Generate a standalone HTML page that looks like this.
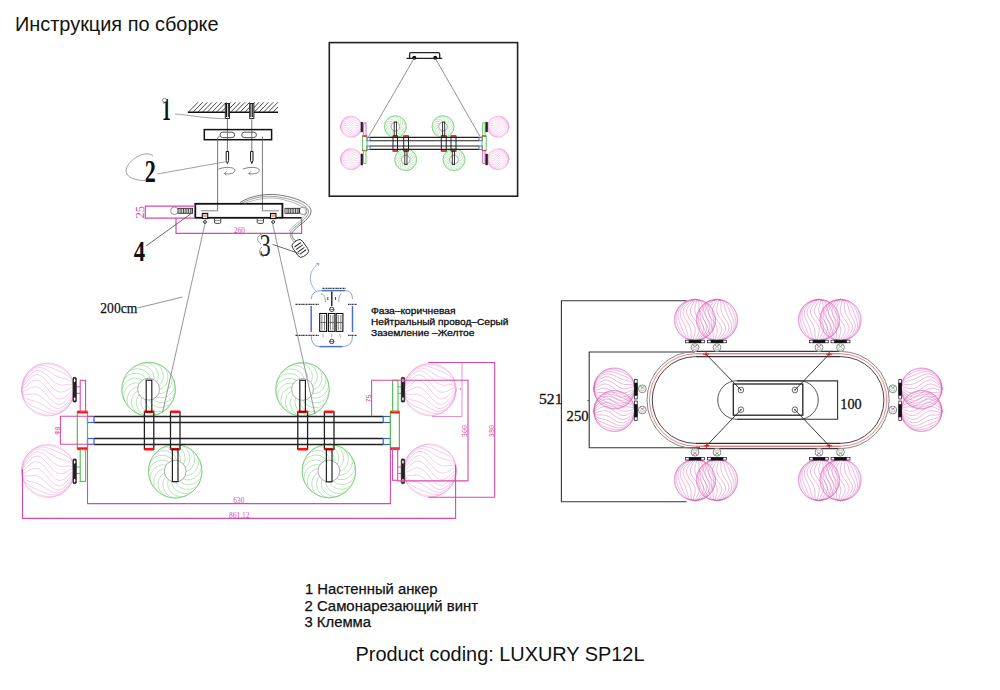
<!DOCTYPE html>
<html><head><meta charset="utf-8">
<style>
html,body{margin:0;padding:0;background:#fff;width:1000px;height:690px;overflow:hidden;position:relative;}
svg{position:absolute;left:0;top:0;}
</style></head><body>
<svg width="1000" height="690" viewBox="0 0 1000 690"><g opacity="1"><circle cx="48" cy="389.5" r="26.5" fill="none" stroke="#efa2d8" stroke-width="0.55"/><path d="M21.5 389.5 L23.39 398.94 L25.29 402.53 L27.18 405.06 L29.07 407.03 L30.96 408.62 L32.86 409.94 L34.75 411.05 L36.64 412 L38.54 412.81 L40.43 413.5 L42.32 414.07 L44.21 414.53 L46.11 414.87 L48 415.1 L49.89 415.19 L51.79 415.14 L53.68 414.93 L55.57 414.56 L57.46 414.01 L59.36 413.25 L61.25 412.28 L63.14 411.07 L65.04 409.6 L66.93 407.8 L68.82 405.61 L70.71 402.84 L72.61 399.06 L74.5 389.5" fill="none" stroke="#efa2d8" stroke-width="0.55"/><path d="M21.5 389.5 L23.39 397.8 L25.29 400.73 L27.18 402.67 L29.07 404.11 L30.96 405.25 L32.86 406.21 L34.75 407.08 L36.64 407.9 L38.54 408.71 L40.43 409.51 L42.32 410.3 L44.21 411.08 L46.11 411.8 L48 412.45 L49.89 412.98 L51.79 413.35 L53.68 413.53 L55.57 413.48 L57.46 413.17 L59.36 412.57 L61.25 411.67 L63.14 410.45 L65.04 408.91 L66.93 407.01 L68.82 404.72 L70.71 401.91 L72.61 398.24 L74.5 389.5" fill="none" stroke="#efa2d8" stroke-width="0.55"/><path d="M21.5 389.5 L23.39 396.02 L25.29 397.97 L27.18 399.05 L29.07 399.71 L30.96 400.2 L32.86 400.64 L34.75 401.14 L36.64 401.76 L38.54 402.54 L40.43 403.49 L42.32 404.58 L44.21 405.77 L46.11 407.01 L48 408.24 L49.89 409.37 L51.79 410.32 L53.68 411.03 L55.57 411.43 L57.46 411.46 L59.36 411.1 L61.25 410.32 L63.14 409.12 L65.04 407.51 L66.93 405.51 L68.82 403.14 L70.71 400.34 L72.61 396.89 L74.5 389.5" fill="none" stroke="#efa2d8" stroke-width="0.55"/><path d="M21.5 389.5 L23.39 393.76 L25.29 394.55 L27.18 394.63 L29.07 394.42 L30.96 394.16 L32.86 394.01 L34.75 394.09 L36.64 394.47 L38.54 395.19 L40.43 396.24 L42.32 397.6 L44.21 399.2 L46.11 400.95 L48 402.75 L49.89 404.48 L51.79 406.03 L53.68 407.28 L55.57 408.15 L57.46 408.57 L59.36 408.47 L61.25 407.86 L63.14 406.73 L65.04 405.14 L66.93 403.12 L68.82 400.76 L70.71 398.1 L72.61 395.07 L74.5 389.5" fill="none" stroke="#efa2d8" stroke-width="0.55"/><path d="M21.5 389.5 L23.39 391.23 L25.29 390.82 L27.18 389.93 L29.07 388.89 L30.96 387.93 L32.86 387.22 L34.75 386.87 L36.64 386.99 L38.54 387.58 L40.43 388.66 L42.32 390.18 L44.21 392.04 L46.11 394.15 L48 396.36 L49.89 398.54 L51.79 400.54 L53.68 402.22 L55.57 403.48 L57.46 404.23 L59.36 404.41 L61.25 404 L63.14 403.04 L65.04 401.58 L66.93 399.71 L68.82 397.56 L70.71 395.24 L72.61 392.86 L74.5 389.5" fill="none" stroke="#efa2d8" stroke-width="0.55"/><path d="M21.5 389.5 L23.39 388.62 L25.29 387.13 L27.18 385.41 L29.07 383.7 L30.96 382.18 L32.86 381.02 L34.75 380.32 L36.64 380.16 L38.54 380.58 L40.43 381.56 L42.32 383.04 L44.21 384.95 L46.11 387.15 L48 389.5 L49.89 391.85 L51.79 394.05 L53.68 395.96 L55.57 397.44 L57.46 398.42 L59.36 398.84 L61.25 398.68 L63.14 397.98 L65.04 396.82 L66.93 395.3 L68.82 393.59 L70.71 391.87 L72.61 390.38 L74.5 389.5" fill="none" stroke="#efa2d8" stroke-width="0.55"/><path d="M21.5 389.5 L23.39 386.14 L25.29 383.76 L27.18 381.44 L29.07 379.29 L30.96 377.42 L32.86 375.96 L34.75 375 L36.64 374.59 L38.54 374.77 L40.43 375.52 L42.32 376.78 L44.21 378.46 L46.11 380.46 L48 382.64 L49.89 384.85 L51.79 386.96 L53.68 388.82 L55.57 390.34 L57.46 391.42 L59.36 392.01 L61.25 392.13 L63.14 391.78 L65.04 391.07 L66.93 390.11 L68.82 389.07 L70.71 388.18 L72.61 387.77 L74.5 389.5" fill="none" stroke="#efa2d8" stroke-width="0.55"/><path d="M21.5 389.5 L23.39 383.93 L25.29 380.9 L27.18 378.24 L29.07 375.88 L30.96 373.86 L32.86 372.27 L34.75 371.14 L36.64 370.53 L38.54 370.43 L40.43 370.85 L42.32 371.72 L44.21 372.97 L46.11 374.52 L48 376.25 L49.89 378.05 L51.79 379.8 L53.68 381.4 L55.57 382.76 L57.46 383.81 L59.36 384.53 L61.25 384.91 L63.14 384.99 L65.04 384.84 L66.93 384.58 L68.82 384.37 L70.71 384.45 L72.61 385.24 L74.5 389.5" fill="none" stroke="#efa2d8" stroke-width="0.55"/><path d="M21.5 389.5 L23.39 382.11 L25.29 378.66 L27.18 375.86 L29.07 373.49 L30.96 371.49 L32.86 369.88 L34.75 368.68 L36.64 367.9 L38.54 367.54 L40.43 367.57 L42.32 367.97 L44.21 368.68 L46.11 369.63 L48 370.76 L49.89 371.99 L51.79 373.23 L53.68 374.42 L55.57 375.51 L57.46 376.46 L59.36 377.24 L61.25 377.86 L63.14 378.36 L65.04 378.8 L66.93 379.29 L68.82 379.95 L70.71 381.03 L72.61 382.98 L74.5 389.5" fill="none" stroke="#efa2d8" stroke-width="0.55"/><path d="M21.5 389.5 L23.39 380.76 L25.29 377.09 L27.18 374.28 L29.07 371.99 L30.96 370.09 L32.86 368.55 L34.75 367.33 L36.64 366.43 L38.54 365.83 L40.43 365.52 L42.32 365.47 L44.21 365.65 L46.11 366.02 L48 366.55 L49.89 367.2 L51.79 367.92 L53.68 368.7 L55.57 369.49 L57.46 370.29 L59.36 371.1 L61.25 371.92 L63.14 372.79 L65.04 373.75 L66.93 374.89 L68.82 376.33 L70.71 378.27 L72.61 381.2 L74.5 389.5" fill="none" stroke="#efa2d8" stroke-width="0.55"/><path d="M21.5 389.5 L23.39 379.94 L25.29 376.16 L27.18 373.39 L29.07 371.2 L30.96 369.4 L32.86 367.93 L34.75 366.72 L36.64 365.75 L38.54 364.99 L40.43 364.44 L42.32 364.07 L44.21 363.86 L46.11 363.81 L48 363.9 L49.89 364.13 L51.79 364.47 L53.68 364.93 L55.57 365.5 L57.46 366.19 L59.36 367 L61.25 367.95 L63.14 369.06 L65.04 370.38 L66.93 371.97 L68.82 373.94 L70.71 376.47 L72.61 380.06 L74.5 389.5" fill="none" stroke="#efa2d8" stroke-width="0.55"/></g><g opacity="1"><circle cx="48" cy="471" r="26.5" fill="none" stroke="#efa2d8" stroke-width="0.55"/><path d="M21.5 471 L23.39 480.44 L25.29 484.03 L27.18 486.56 L29.07 488.53 L30.96 490.12 L32.86 491.44 L34.75 492.55 L36.64 493.5 L38.54 494.31 L40.43 495 L42.32 495.57 L44.21 496.03 L46.11 496.37 L48 496.6 L49.89 496.69 L51.79 496.64 L53.68 496.43 L55.57 496.06 L57.46 495.51 L59.36 494.75 L61.25 493.78 L63.14 492.57 L65.04 491.1 L66.93 489.3 L68.82 487.11 L70.71 484.34 L72.61 480.56 L74.5 471" fill="none" stroke="#efa2d8" stroke-width="0.55"/><path d="M21.5 471 L23.39 479.3 L25.29 482.23 L27.18 484.17 L29.07 485.61 L30.96 486.75 L32.86 487.71 L34.75 488.58 L36.64 489.4 L38.54 490.21 L40.43 491.01 L42.32 491.8 L44.21 492.58 L46.11 493.3 L48 493.95 L49.89 494.48 L51.79 494.85 L53.68 495.03 L55.57 494.98 L57.46 494.67 L59.36 494.07 L61.25 493.17 L63.14 491.95 L65.04 490.41 L66.93 488.51 L68.82 486.22 L70.71 483.41 L72.61 479.74 L74.5 471" fill="none" stroke="#efa2d8" stroke-width="0.55"/><path d="M21.5 471 L23.39 477.52 L25.29 479.47 L27.18 480.55 L29.07 481.21 L30.96 481.7 L32.86 482.14 L34.75 482.64 L36.64 483.26 L38.54 484.04 L40.43 484.99 L42.32 486.08 L44.21 487.27 L46.11 488.51 L48 489.74 L49.89 490.87 L51.79 491.82 L53.68 492.53 L55.57 492.93 L57.46 492.96 L59.36 492.6 L61.25 491.82 L63.14 490.62 L65.04 489.01 L66.93 487.01 L68.82 484.64 L70.71 481.84 L72.61 478.39 L74.5 471" fill="none" stroke="#efa2d8" stroke-width="0.55"/><path d="M21.5 471 L23.39 475.26 L25.29 476.05 L27.18 476.13 L29.07 475.92 L30.96 475.66 L32.86 475.51 L34.75 475.59 L36.64 475.97 L38.54 476.69 L40.43 477.74 L42.32 479.1 L44.21 480.7 L46.11 482.45 L48 484.25 L49.89 485.98 L51.79 487.53 L53.68 488.78 L55.57 489.65 L57.46 490.07 L59.36 489.97 L61.25 489.36 L63.14 488.23 L65.04 486.64 L66.93 484.62 L68.82 482.26 L70.71 479.6 L72.61 476.57 L74.5 471" fill="none" stroke="#efa2d8" stroke-width="0.55"/><path d="M21.5 471 L23.39 472.73 L25.29 472.32 L27.18 471.43 L29.07 470.39 L30.96 469.43 L32.86 468.72 L34.75 468.37 L36.64 468.49 L38.54 469.08 L40.43 470.16 L42.32 471.68 L44.21 473.54 L46.11 475.65 L48 477.86 L49.89 480.04 L51.79 482.04 L53.68 483.72 L55.57 484.98 L57.46 485.73 L59.36 485.91 L61.25 485.5 L63.14 484.54 L65.04 483.08 L66.93 481.21 L68.82 479.06 L70.71 476.74 L72.61 474.36 L74.5 471" fill="none" stroke="#efa2d8" stroke-width="0.55"/><path d="M21.5 471 L23.39 470.12 L25.29 468.63 L27.18 466.91 L29.07 465.2 L30.96 463.68 L32.86 462.52 L34.75 461.82 L36.64 461.66 L38.54 462.08 L40.43 463.06 L42.32 464.54 L44.21 466.45 L46.11 468.65 L48 471 L49.89 473.35 L51.79 475.55 L53.68 477.46 L55.57 478.94 L57.46 479.92 L59.36 480.34 L61.25 480.18 L63.14 479.48 L65.04 478.32 L66.93 476.8 L68.82 475.09 L70.71 473.37 L72.61 471.88 L74.5 471" fill="none" stroke="#efa2d8" stroke-width="0.55"/><path d="M21.5 471 L23.39 467.64 L25.29 465.26 L27.18 462.94 L29.07 460.79 L30.96 458.92 L32.86 457.46 L34.75 456.5 L36.64 456.09 L38.54 456.27 L40.43 457.02 L42.32 458.28 L44.21 459.96 L46.11 461.96 L48 464.14 L49.89 466.35 L51.79 468.46 L53.68 470.32 L55.57 471.84 L57.46 472.92 L59.36 473.51 L61.25 473.63 L63.14 473.28 L65.04 472.57 L66.93 471.61 L68.82 470.57 L70.71 469.68 L72.61 469.27 L74.5 471" fill="none" stroke="#efa2d8" stroke-width="0.55"/><path d="M21.5 471 L23.39 465.43 L25.29 462.4 L27.18 459.74 L29.07 457.38 L30.96 455.36 L32.86 453.77 L34.75 452.64 L36.64 452.03 L38.54 451.93 L40.43 452.35 L42.32 453.22 L44.21 454.47 L46.11 456.02 L48 457.75 L49.89 459.55 L51.79 461.3 L53.68 462.9 L55.57 464.26 L57.46 465.31 L59.36 466.03 L61.25 466.41 L63.14 466.49 L65.04 466.34 L66.93 466.08 L68.82 465.87 L70.71 465.95 L72.61 466.74 L74.5 471" fill="none" stroke="#efa2d8" stroke-width="0.55"/><path d="M21.5 471 L23.39 463.61 L25.29 460.16 L27.18 457.36 L29.07 454.99 L30.96 452.99 L32.86 451.38 L34.75 450.18 L36.64 449.4 L38.54 449.04 L40.43 449.07 L42.32 449.47 L44.21 450.18 L46.11 451.13 L48 452.26 L49.89 453.49 L51.79 454.73 L53.68 455.92 L55.57 457.01 L57.46 457.96 L59.36 458.74 L61.25 459.36 L63.14 459.86 L65.04 460.3 L66.93 460.79 L68.82 461.45 L70.71 462.53 L72.61 464.48 L74.5 471" fill="none" stroke="#efa2d8" stroke-width="0.55"/><path d="M21.5 471 L23.39 462.26 L25.29 458.59 L27.18 455.78 L29.07 453.49 L30.96 451.59 L32.86 450.05 L34.75 448.83 L36.64 447.93 L38.54 447.33 L40.43 447.02 L42.32 446.97 L44.21 447.15 L46.11 447.52 L48 448.05 L49.89 448.7 L51.79 449.42 L53.68 450.2 L55.57 450.99 L57.46 451.79 L59.36 452.6 L61.25 453.42 L63.14 454.29 L65.04 455.25 L66.93 456.39 L68.82 457.83 L70.71 459.77 L72.61 462.7 L74.5 471" fill="none" stroke="#efa2d8" stroke-width="0.55"/><path d="M21.5 471 L23.39 461.44 L25.29 457.66 L27.18 454.89 L29.07 452.7 L30.96 450.9 L32.86 449.43 L34.75 448.22 L36.64 447.25 L38.54 446.49 L40.43 445.94 L42.32 445.57 L44.21 445.36 L46.11 445.31 L48 445.4 L49.89 445.63 L51.79 445.97 L53.68 446.43 L55.57 447 L57.46 447.69 L59.36 448.5 L61.25 449.45 L63.14 450.56 L65.04 451.88 L66.93 453.47 L68.82 455.44 L70.71 457.97 L72.61 461.56 L74.5 471" fill="none" stroke="#efa2d8" stroke-width="0.55"/></g><g opacity="1"><circle cx="430" cy="389.7" r="26.2" fill="none" stroke="#efa2d8" stroke-width="0.55"/><path d="M403.8 389.7 L405.67 399.03 L407.54 402.58 L409.41 405.08 L411.29 407.03 L413.16 408.6 L415.03 409.91 L416.9 411.01 L418.77 411.95 L420.64 412.75 L422.51 413.43 L424.39 413.99 L426.26 414.45 L428.13 414.79 L430 415.01 L431.87 415.1 L433.74 415.05 L435.61 414.85 L437.49 414.48 L439.36 413.93 L441.23 413.18 L443.1 412.22 L444.97 411.03 L446.84 409.57 L448.71 407.8 L450.59 405.63 L452.46 402.89 L454.33 399.15 L456.2 389.7" fill="none" stroke="#efa2d8" stroke-width="0.55"/><path d="M403.8 389.7 L405.67 397.91 L407.54 400.8 L409.41 402.73 L411.29 404.15 L413.16 405.27 L415.03 406.22 L416.9 407.08 L418.77 407.89 L420.64 408.69 L422.51 409.48 L424.39 410.27 L426.26 411.03 L428.13 411.75 L430 412.39 L431.87 412.91 L433.74 413.28 L435.61 413.46 L437.49 413.41 L439.36 413.1 L441.23 412.51 L443.1 411.62 L444.97 410.42 L446.84 408.89 L448.71 407.01 L450.59 404.75 L452.46 401.97 L454.33 398.34 L456.2 389.7" fill="none" stroke="#efa2d8" stroke-width="0.55"/><path d="M403.8 389.7 L405.67 396.14 L407.54 398.07 L409.41 399.14 L411.29 399.8 L413.16 400.27 L415.03 400.71 L416.9 401.21 L418.77 401.82 L420.64 402.59 L422.51 403.53 L424.39 404.6 L426.26 405.79 L428.13 407.02 L430 408.23 L431.87 409.34 L433.74 410.29 L435.61 410.99 L437.49 411.38 L439.36 411.41 L441.23 411.05 L443.1 410.28 L444.97 409.1 L446.84 407.51 L448.71 405.53 L450.59 403.18 L452.46 400.41 L454.33 397.01 L456.2 389.7" fill="none" stroke="#efa2d8" stroke-width="0.55"/><path d="M403.8 389.7 L405.67 393.91 L407.54 394.69 L409.41 394.77 L411.29 394.57 L413.16 394.31 L415.03 394.16 L416.9 394.24 L418.77 394.61 L420.64 395.32 L422.51 396.36 L424.39 397.71 L426.26 399.29 L428.13 401.02 L430 402.8 L431.87 404.51 L433.74 406.04 L435.61 407.28 L437.49 408.14 L439.36 408.55 L441.23 408.46 L443.1 407.85 L444.97 406.74 L446.84 405.16 L448.71 403.17 L450.59 400.84 L452.46 398.2 L454.33 395.21 L456.2 389.7" fill="none" stroke="#efa2d8" stroke-width="0.55"/><path d="M403.8 389.7 L405.67 391.41 L407.54 391.01 L409.41 390.12 L411.29 389.1 L413.16 388.15 L415.03 387.44 L416.9 387.1 L418.77 387.21 L420.64 387.81 L422.51 388.87 L424.39 390.37 L426.26 392.21 L428.13 394.29 L430 396.48 L431.87 398.63 L433.74 400.61 L435.61 402.28 L437.49 403.52 L439.36 404.26 L441.23 404.44 L443.1 404.04 L444.97 403.09 L446.84 401.64 L448.71 399.8 L450.59 397.67 L452.46 395.38 L454.33 393.02 L456.2 389.7" fill="none" stroke="#efa2d8" stroke-width="0.55"/><path d="M403.8 389.7 L405.67 388.83 L407.54 387.36 L409.41 385.66 L411.29 383.97 L413.16 382.47 L415.03 381.32 L416.9 380.62 L418.77 380.47 L420.64 380.88 L422.51 381.85 L424.39 383.32 L426.26 385.2 L428.13 387.37 L430 389.7 L431.87 392.03 L433.74 394.2 L435.61 396.08 L437.49 397.55 L439.36 398.52 L441.23 398.93 L443.1 398.78 L444.97 398.08 L446.84 396.93 L448.71 395.43 L450.59 393.74 L452.46 392.04 L454.33 390.57 L456.2 389.7" fill="none" stroke="#efa2d8" stroke-width="0.55"/><path d="M403.8 389.7 L405.67 386.38 L407.54 384.02 L409.41 381.73 L411.29 379.6 L413.16 377.76 L415.03 376.31 L416.9 375.36 L418.77 374.96 L420.64 375.14 L422.51 375.88 L424.39 377.12 L426.26 378.79 L428.13 380.77 L430 382.92 L431.87 385.11 L433.74 387.19 L435.61 389.03 L437.49 390.53 L439.36 391.59 L441.23 392.19 L443.1 392.3 L444.97 391.96 L446.84 391.25 L448.71 390.3 L450.59 389.28 L452.46 388.39 L454.33 387.99 L456.2 389.7" fill="none" stroke="#efa2d8" stroke-width="0.55"/><path d="M403.8 389.7 L405.67 384.19 L407.54 381.2 L409.41 378.56 L411.29 376.23 L413.16 374.24 L415.03 372.66 L416.9 371.55 L418.77 370.94 L420.64 370.85 L422.51 371.26 L424.39 372.12 L426.26 373.36 L428.13 374.89 L430 376.6 L431.87 378.38 L433.74 380.11 L435.61 381.69 L437.49 383.04 L439.36 384.08 L441.23 384.79 L443.1 385.16 L444.97 385.24 L446.84 385.09 L448.71 384.83 L450.59 384.63 L452.46 384.71 L454.33 385.49 L456.2 389.7" fill="none" stroke="#efa2d8" stroke-width="0.55"/><path d="M403.8 389.7 L405.67 382.39 L407.54 378.99 L409.41 376.22 L411.29 373.87 L413.16 371.89 L415.03 370.3 L416.9 369.12 L418.77 368.35 L420.64 367.99 L422.51 368.02 L424.39 368.41 L426.26 369.11 L428.13 370.06 L430 371.17 L431.87 372.38 L433.74 373.61 L435.61 374.8 L437.49 375.87 L439.36 376.81 L441.23 377.58 L443.1 378.19 L444.97 378.69 L446.84 379.13 L448.71 379.6 L450.59 380.26 L452.46 381.33 L454.33 383.26 L456.2 389.7" fill="none" stroke="#efa2d8" stroke-width="0.55"/><path d="M403.8 389.7 L405.67 381.06 L407.54 377.43 L409.41 374.65 L411.29 372.39 L413.16 370.51 L415.03 368.98 L416.9 367.78 L418.77 366.89 L420.64 366.3 L422.51 365.99 L424.39 365.94 L426.26 366.12 L428.13 366.49 L430 367.01 L431.87 367.65 L433.74 368.37 L435.61 369.13 L437.49 369.92 L439.36 370.71 L441.23 371.51 L443.1 372.32 L444.97 373.18 L446.84 374.13 L448.71 375.25 L450.59 376.67 L452.46 378.6 L454.33 381.49 L456.2 389.7" fill="none" stroke="#efa2d8" stroke-width="0.55"/><path d="M403.8 389.7 L405.67 380.25 L407.54 376.51 L409.41 373.77 L411.29 371.6 L413.16 369.83 L415.03 368.37 L416.9 367.18 L418.77 366.22 L420.64 365.47 L422.51 364.92 L424.39 364.55 L426.26 364.35 L428.13 364.3 L430 364.39 L431.87 364.61 L433.74 364.95 L435.61 365.41 L437.49 365.97 L439.36 366.65 L441.23 367.45 L443.1 368.39 L444.97 369.49 L446.84 370.8 L448.71 372.37 L450.59 374.32 L452.46 376.82 L454.33 380.37 L456.2 389.7" fill="none" stroke="#efa2d8" stroke-width="0.55"/></g><g opacity="1"><circle cx="430" cy="470.5" r="26.5" fill="none" stroke="#efa2d8" stroke-width="0.55"/><path d="M403.5 470.5 L405.39 479.94 L407.29 483.53 L409.18 486.06 L411.07 488.03 L412.96 489.62 L414.86 490.94 L416.75 492.05 L418.64 493 L420.54 493.81 L422.43 494.5 L424.32 495.07 L426.21 495.53 L428.11 495.87 L430 496.1 L431.89 496.19 L433.79 496.14 L435.68 495.93 L437.57 495.56 L439.46 495.01 L441.36 494.25 L443.25 493.28 L445.14 492.07 L447.04 490.6 L448.93 488.8 L450.82 486.61 L452.71 483.84 L454.61 480.06 L456.5 470.5" fill="none" stroke="#efa2d8" stroke-width="0.55"/><path d="M403.5 470.5 L405.39 478.8 L407.29 481.73 L409.18 483.67 L411.07 485.11 L412.96 486.25 L414.86 487.21 L416.75 488.08 L418.64 488.9 L420.54 489.71 L422.43 490.51 L424.32 491.3 L426.21 492.08 L428.11 492.8 L430 493.45 L431.89 493.98 L433.79 494.35 L435.68 494.53 L437.57 494.48 L439.46 494.17 L441.36 493.57 L443.25 492.67 L445.14 491.45 L447.04 489.91 L448.93 488.01 L450.82 485.72 L452.71 482.91 L454.61 479.24 L456.5 470.5" fill="none" stroke="#efa2d8" stroke-width="0.55"/><path d="M403.5 470.5 L405.39 477.02 L407.29 478.97 L409.18 480.05 L411.07 480.71 L412.96 481.2 L414.86 481.64 L416.75 482.14 L418.64 482.76 L420.54 483.54 L422.43 484.49 L424.32 485.58 L426.21 486.77 L428.11 488.01 L430 489.24 L431.89 490.37 L433.79 491.32 L435.68 492.03 L437.57 492.43 L439.46 492.46 L441.36 492.1 L443.25 491.32 L445.14 490.12 L447.04 488.51 L448.93 486.51 L450.82 484.14 L452.71 481.34 L454.61 477.89 L456.5 470.5" fill="none" stroke="#efa2d8" stroke-width="0.55"/><path d="M403.5 470.5 L405.39 474.76 L407.29 475.55 L409.18 475.63 L411.07 475.42 L412.96 475.16 L414.86 475.01 L416.75 475.09 L418.64 475.47 L420.54 476.19 L422.43 477.24 L424.32 478.6 L426.21 480.2 L428.11 481.95 L430 483.75 L431.89 485.48 L433.79 487.03 L435.68 488.28 L437.57 489.15 L439.46 489.57 L441.36 489.47 L443.25 488.86 L445.14 487.73 L447.04 486.14 L448.93 484.12 L450.82 481.76 L452.71 479.1 L454.61 476.07 L456.5 470.5" fill="none" stroke="#efa2d8" stroke-width="0.55"/><path d="M403.5 470.5 L405.39 472.23 L407.29 471.82 L409.18 470.93 L411.07 469.89 L412.96 468.93 L414.86 468.22 L416.75 467.87 L418.64 467.99 L420.54 468.58 L422.43 469.66 L424.32 471.18 L426.21 473.04 L428.11 475.15 L430 477.36 L431.89 479.54 L433.79 481.54 L435.68 483.22 L437.57 484.48 L439.46 485.23 L441.36 485.41 L443.25 485 L445.14 484.04 L447.04 482.58 L448.93 480.71 L450.82 478.56 L452.71 476.24 L454.61 473.86 L456.5 470.5" fill="none" stroke="#efa2d8" stroke-width="0.55"/><path d="M403.5 470.5 L405.39 469.62 L407.29 468.13 L409.18 466.41 L411.07 464.7 L412.96 463.18 L414.86 462.02 L416.75 461.32 L418.64 461.16 L420.54 461.58 L422.43 462.56 L424.32 464.04 L426.21 465.95 L428.11 468.15 L430 470.5 L431.89 472.85 L433.79 475.05 L435.68 476.96 L437.57 478.44 L439.46 479.42 L441.36 479.84 L443.25 479.68 L445.14 478.98 L447.04 477.82 L448.93 476.3 L450.82 474.59 L452.71 472.87 L454.61 471.38 L456.5 470.5" fill="none" stroke="#efa2d8" stroke-width="0.55"/><path d="M403.5 470.5 L405.39 467.14 L407.29 464.76 L409.18 462.44 L411.07 460.29 L412.96 458.42 L414.86 456.96 L416.75 456 L418.64 455.59 L420.54 455.77 L422.43 456.52 L424.32 457.78 L426.21 459.46 L428.11 461.46 L430 463.64 L431.89 465.85 L433.79 467.96 L435.68 469.82 L437.57 471.34 L439.46 472.42 L441.36 473.01 L443.25 473.13 L445.14 472.78 L447.04 472.07 L448.93 471.11 L450.82 470.07 L452.71 469.18 L454.61 468.77 L456.5 470.5" fill="none" stroke="#efa2d8" stroke-width="0.55"/><path d="M403.5 470.5 L405.39 464.93 L407.29 461.9 L409.18 459.24 L411.07 456.88 L412.96 454.86 L414.86 453.27 L416.75 452.14 L418.64 451.53 L420.54 451.43 L422.43 451.85 L424.32 452.72 L426.21 453.97 L428.11 455.52 L430 457.25 L431.89 459.05 L433.79 460.8 L435.68 462.4 L437.57 463.76 L439.46 464.81 L441.36 465.53 L443.25 465.91 L445.14 465.99 L447.04 465.84 L448.93 465.58 L450.82 465.37 L452.71 465.45 L454.61 466.24 L456.5 470.5" fill="none" stroke="#efa2d8" stroke-width="0.55"/><path d="M403.5 470.5 L405.39 463.11 L407.29 459.66 L409.18 456.86 L411.07 454.49 L412.96 452.49 L414.86 450.88 L416.75 449.68 L418.64 448.9 L420.54 448.54 L422.43 448.57 L424.32 448.97 L426.21 449.68 L428.11 450.63 L430 451.76 L431.89 452.99 L433.79 454.23 L435.68 455.42 L437.57 456.51 L439.46 457.46 L441.36 458.24 L443.25 458.86 L445.14 459.36 L447.04 459.8 L448.93 460.29 L450.82 460.95 L452.71 462.03 L454.61 463.98 L456.5 470.5" fill="none" stroke="#efa2d8" stroke-width="0.55"/><path d="M403.5 470.5 L405.39 461.76 L407.29 458.09 L409.18 455.28 L411.07 452.99 L412.96 451.09 L414.86 449.55 L416.75 448.33 L418.64 447.43 L420.54 446.83 L422.43 446.52 L424.32 446.47 L426.21 446.65 L428.11 447.02 L430 447.55 L431.89 448.2 L433.79 448.92 L435.68 449.7 L437.57 450.49 L439.46 451.29 L441.36 452.1 L443.25 452.92 L445.14 453.79 L447.04 454.75 L448.93 455.89 L450.82 457.33 L452.71 459.27 L454.61 462.2 L456.5 470.5" fill="none" stroke="#efa2d8" stroke-width="0.55"/><path d="M403.5 470.5 L405.39 460.94 L407.29 457.16 L409.18 454.39 L411.07 452.2 L412.96 450.4 L414.86 448.93 L416.75 447.72 L418.64 446.75 L420.54 445.99 L422.43 445.44 L424.32 445.07 L426.21 444.86 L428.11 444.81 L430 444.9 L431.89 445.13 L433.79 445.47 L435.68 445.93 L437.57 446.5 L439.46 447.19 L441.36 448 L443.25 448.95 L445.14 450.06 L447.04 451.38 L448.93 452.97 L450.82 454.94 L452.71 457.47 L454.61 461.06 L456.5 470.5" fill="none" stroke="#efa2d8" stroke-width="0.55"/></g><circle cx="148.6" cy="389.2" r="26.8" fill="none" stroke="#4cc04c" stroke-width="0.7150000000000001"/><path d="M153.03 399.16 A13.4 13.4 0 0 0 175.4 389.2" fill="none" stroke="#80d080" stroke-width="0.55"/><path d="M149.14 400.09 A13.4 13.4 0 0 0 173.59 398.88" fill="none" stroke="#80d080" stroke-width="0.55"/><path d="M145.17 399.55 A13.4 13.4 0 0 0 168.41 407.26" fill="none" stroke="#80d080" stroke-width="0.55"/><path d="M141.66 397.61 A13.4 13.4 0 0 0 160.55 413.19" fill="none" stroke="#80d080" stroke-width="0.55"/><path d="M139.09 394.53 A13.4 13.4 0 0 0 151.07 415.89" fill="none" stroke="#80d080" stroke-width="0.55"/><path d="M137.81 390.74 A13.4 13.4 0 0 0 141.27 414.98" fill="none" stroke="#80d080" stroke-width="0.55"/><path d="M137.98 386.74 A13.4 13.4 0 0 0 132.45 410.59" fill="none" stroke="#80d080" stroke-width="0.55"/><path d="M139.59 383.07 A13.4 13.4 0 0 0 125.81 403.31" fill="none" stroke="#80d080" stroke-width="0.55"/><path d="M142.41 380.23 A13.4 13.4 0 0 0 122.26 394.12" fill="none" stroke="#80d080" stroke-width="0.55"/><path d="M146.07 378.6 A13.4 13.4 0 0 0 122.26 384.28" fill="none" stroke="#80d080" stroke-width="0.55"/><path d="M150.07 378.4 A13.4 13.4 0 0 0 125.81 375.09" fill="none" stroke="#80d080" stroke-width="0.55"/><path d="M153.87 379.66 A13.4 13.4 0 0 0 132.45 367.81" fill="none" stroke="#80d080" stroke-width="0.55"/><path d="M156.96 382.21 A13.4 13.4 0 0 0 141.27 363.42" fill="none" stroke="#80d080" stroke-width="0.55"/><path d="M158.92 385.7 A13.4 13.4 0 0 0 151.07 362.51" fill="none" stroke="#80d080" stroke-width="0.55"/><path d="M159.49 389.67 A13.4 13.4 0 0 0 160.55 365.21" fill="none" stroke="#80d080" stroke-width="0.55"/><path d="M158.58 393.57 A13.4 13.4 0 0 0 168.41 371.14" fill="none" stroke="#80d080" stroke-width="0.55"/><path d="M156.33 396.88 A13.4 13.4 0 0 0 173.59 379.52" fill="none" stroke="#80d080" stroke-width="0.55"/><circle cx="148.6" cy="389.2" r="10.9" fill="none" stroke="#999" stroke-width="0.8"/><circle cx="302.5" cy="389.4" r="26.8" fill="none" stroke="#4cc04c" stroke-width="0.7150000000000001"/><path d="M306.93 399.36 A13.4 13.4 0 0 0 329.3 389.4" fill="none" stroke="#80d080" stroke-width="0.55"/><path d="M303.04 400.29 A13.4 13.4 0 0 0 327.49 399.08" fill="none" stroke="#80d080" stroke-width="0.55"/><path d="M299.07 399.75 A13.4 13.4 0 0 0 322.31 407.46" fill="none" stroke="#80d080" stroke-width="0.55"/><path d="M295.56 397.81 A13.4 13.4 0 0 0 314.45 413.39" fill="none" stroke="#80d080" stroke-width="0.55"/><path d="M292.99 394.73 A13.4 13.4 0 0 0 304.97 416.09" fill="none" stroke="#80d080" stroke-width="0.55"/><path d="M291.71 390.94 A13.4 13.4 0 0 0 295.17 415.18" fill="none" stroke="#80d080" stroke-width="0.55"/><path d="M291.88 386.94 A13.4 13.4 0 0 0 286.35 410.79" fill="none" stroke="#80d080" stroke-width="0.55"/><path d="M293.49 383.27 A13.4 13.4 0 0 0 279.71 403.51" fill="none" stroke="#80d080" stroke-width="0.55"/><path d="M296.31 380.43 A13.4 13.4 0 0 0 276.16 394.32" fill="none" stroke="#80d080" stroke-width="0.55"/><path d="M299.97 378.8 A13.4 13.4 0 0 0 276.16 384.48" fill="none" stroke="#80d080" stroke-width="0.55"/><path d="M303.97 378.6 A13.4 13.4 0 0 0 279.71 375.29" fill="none" stroke="#80d080" stroke-width="0.55"/><path d="M307.77 379.86 A13.4 13.4 0 0 0 286.35 368.01" fill="none" stroke="#80d080" stroke-width="0.55"/><path d="M310.86 382.41 A13.4 13.4 0 0 0 295.17 363.62" fill="none" stroke="#80d080" stroke-width="0.55"/><path d="M312.82 385.9 A13.4 13.4 0 0 0 304.97 362.71" fill="none" stroke="#80d080" stroke-width="0.55"/><path d="M313.39 389.87 A13.4 13.4 0 0 0 314.45 365.41" fill="none" stroke="#80d080" stroke-width="0.55"/><path d="M312.48 393.77 A13.4 13.4 0 0 0 322.31 371.34" fill="none" stroke="#80d080" stroke-width="0.55"/><path d="M310.23 397.08 A13.4 13.4 0 0 0 327.49 379.72" fill="none" stroke="#80d080" stroke-width="0.55"/><circle cx="302.5" cy="389.4" r="10.9" fill="none" stroke="#999" stroke-width="0.8"/><circle cx="175.2" cy="471.2" r="26.8" fill="none" stroke="#4cc04c" stroke-width="0.7150000000000001"/><path d="M179.63 481.16 A13.4 13.4 0 0 0 202 471.2" fill="none" stroke="#80d080" stroke-width="0.55"/><path d="M175.74 482.09 A13.4 13.4 0 0 0 200.19 480.88" fill="none" stroke="#80d080" stroke-width="0.55"/><path d="M171.77 481.55 A13.4 13.4 0 0 0 195.01 489.26" fill="none" stroke="#80d080" stroke-width="0.55"/><path d="M168.26 479.61 A13.4 13.4 0 0 0 187.15 495.19" fill="none" stroke="#80d080" stroke-width="0.55"/><path d="M165.69 476.53 A13.4 13.4 0 0 0 177.67 497.89" fill="none" stroke="#80d080" stroke-width="0.55"/><path d="M164.41 472.74 A13.4 13.4 0 0 0 167.87 496.98" fill="none" stroke="#80d080" stroke-width="0.55"/><path d="M164.58 468.74 A13.4 13.4 0 0 0 159.05 492.59" fill="none" stroke="#80d080" stroke-width="0.55"/><path d="M166.19 465.07 A13.4 13.4 0 0 0 152.41 485.31" fill="none" stroke="#80d080" stroke-width="0.55"/><path d="M169.01 462.23 A13.4 13.4 0 0 0 148.86 476.12" fill="none" stroke="#80d080" stroke-width="0.55"/><path d="M172.67 460.6 A13.4 13.4 0 0 0 148.86 466.28" fill="none" stroke="#80d080" stroke-width="0.55"/><path d="M176.67 460.4 A13.4 13.4 0 0 0 152.41 457.09" fill="none" stroke="#80d080" stroke-width="0.55"/><path d="M180.47 461.66 A13.4 13.4 0 0 0 159.05 449.81" fill="none" stroke="#80d080" stroke-width="0.55"/><path d="M183.56 464.21 A13.4 13.4 0 0 0 167.87 445.42" fill="none" stroke="#80d080" stroke-width="0.55"/><path d="M185.52 467.7 A13.4 13.4 0 0 0 177.67 444.51" fill="none" stroke="#80d080" stroke-width="0.55"/><path d="M186.09 471.67 A13.4 13.4 0 0 0 187.15 447.21" fill="none" stroke="#80d080" stroke-width="0.55"/><path d="M185.18 475.57 A13.4 13.4 0 0 0 195.01 453.14" fill="none" stroke="#80d080" stroke-width="0.55"/><path d="M182.93 478.88 A13.4 13.4 0 0 0 200.19 461.52" fill="none" stroke="#80d080" stroke-width="0.55"/><circle cx="175.2" cy="471.2" r="10.9" fill="none" stroke="#999" stroke-width="0.8"/><circle cx="328.9" cy="471" r="26.8" fill="none" stroke="#4cc04c" stroke-width="0.7150000000000001"/><path d="M333.33 480.96 A13.4 13.4 0 0 0 355.7 471" fill="none" stroke="#80d080" stroke-width="0.55"/><path d="M329.44 481.89 A13.4 13.4 0 0 0 353.89 480.68" fill="none" stroke="#80d080" stroke-width="0.55"/><path d="M325.47 481.35 A13.4 13.4 0 0 0 348.71 489.06" fill="none" stroke="#80d080" stroke-width="0.55"/><path d="M321.96 479.41 A13.4 13.4 0 0 0 340.85 494.99" fill="none" stroke="#80d080" stroke-width="0.55"/><path d="M319.39 476.33 A13.4 13.4 0 0 0 331.37 497.69" fill="none" stroke="#80d080" stroke-width="0.55"/><path d="M318.11 472.54 A13.4 13.4 0 0 0 321.57 496.78" fill="none" stroke="#80d080" stroke-width="0.55"/><path d="M318.28 468.54 A13.4 13.4 0 0 0 312.75 492.39" fill="none" stroke="#80d080" stroke-width="0.55"/><path d="M319.89 464.87 A13.4 13.4 0 0 0 306.11 485.11" fill="none" stroke="#80d080" stroke-width="0.55"/><path d="M322.71 462.03 A13.4 13.4 0 0 0 302.56 475.92" fill="none" stroke="#80d080" stroke-width="0.55"/><path d="M326.37 460.4 A13.4 13.4 0 0 0 302.56 466.08" fill="none" stroke="#80d080" stroke-width="0.55"/><path d="M330.37 460.2 A13.4 13.4 0 0 0 306.11 456.89" fill="none" stroke="#80d080" stroke-width="0.55"/><path d="M334.17 461.46 A13.4 13.4 0 0 0 312.75 449.61" fill="none" stroke="#80d080" stroke-width="0.55"/><path d="M337.26 464.01 A13.4 13.4 0 0 0 321.57 445.22" fill="none" stroke="#80d080" stroke-width="0.55"/><path d="M339.22 467.5 A13.4 13.4 0 0 0 331.37 444.31" fill="none" stroke="#80d080" stroke-width="0.55"/><path d="M339.79 471.47 A13.4 13.4 0 0 0 340.85 447.01" fill="none" stroke="#80d080" stroke-width="0.55"/><path d="M338.88 475.37 A13.4 13.4 0 0 0 348.71 452.94" fill="none" stroke="#80d080" stroke-width="0.55"/><path d="M336.63 478.68 A13.4 13.4 0 0 0 353.89 461.32" fill="none" stroke="#80d080" stroke-width="0.55"/><circle cx="328.9" cy="471" r="10.9" fill="none" stroke="#999" stroke-width="0.8"/><line x1="94" y1="416.5" x2="383.2" y2="416.5" stroke="#222" stroke-width="1.4"/><line x1="94" y1="422.5" x2="383.2" y2="422.5" stroke="#222" stroke-width="1.4"/><rect x="87.5" y="416.5" width="6.5" height="6" fill="none" stroke="#3a62c8" stroke-width="1.2" rx="0"/><rect x="383.2" y="416.5" width="7.2" height="6" fill="none" stroke="#3a62c8" stroke-width="1.2" rx="0"/><line x1="94" y1="438.5" x2="383.2" y2="438.5" stroke="#222" stroke-width="1.4"/><line x1="94" y1="444.5" x2="383.2" y2="444.5" stroke="#222" stroke-width="1.4"/><rect x="87.5" y="438.5" width="6.5" height="6" fill="none" stroke="#3a62c8" stroke-width="1.2" rx="0"/><rect x="383.2" y="438.5" width="7.2" height="6" fill="none" stroke="#3a62c8" stroke-width="1.2" rx="0"/><rect x="77.3" y="412" width="10.2" height="36.7" fill="none" stroke="#4cc04c" stroke-width="1.2" rx="0"/><line x1="77.3" y1="412" x2="87.5" y2="412" stroke="#ff1010" stroke-width="2.8"/><line x1="77.3" y1="448.7" x2="87.5" y2="448.7" stroke="#ff1010" stroke-width="2.8"/><rect x="390.4" y="412" width="9" height="36.7" fill="none" stroke="#4cc04c" stroke-width="1.2" rx="0"/><line x1="390.4" y1="412" x2="399.4" y2="412" stroke="#ff1010" stroke-width="2.8"/><line x1="390.4" y1="448.7" x2="399.4" y2="448.7" stroke="#ff1010" stroke-width="2.8"/><rect x="80.2" y="380.3" width="5.4" height="31.1" fill="none" stroke="#d84aa8" stroke-width="1.1" rx="0"/><rect x="80.2" y="449.6" width="5.4" height="31.8" fill="none" stroke="#4cc04c" stroke-width="1.1" rx="0"/><rect x="392.6" y="380.3" width="5.4" height="31.1" fill="none" stroke="#4cc04c" stroke-width="1.1" rx="0"/><rect x="392.5" y="449" width="5.2" height="31.3" fill="none" stroke="#d84aa8" stroke-width="1.1" rx="0"/><line x1="76" y1="386.8" x2="80.2" y2="386.8" stroke="#d84aa8" stroke-width="0.9"/><line x1="76" y1="393.3" x2="80.2" y2="393.3" stroke="#d84aa8" stroke-width="0.9"/><line x1="76" y1="467" x2="80.2" y2="467" stroke="#4cc04c" stroke-width="0.9"/><line x1="76" y1="473.5" x2="80.2" y2="473.5" stroke="#4cc04c" stroke-width="0.9"/><line x1="398" y1="386.8" x2="401.3" y2="386.8" stroke="#4cc04c" stroke-width="0.9"/><line x1="398" y1="393.3" x2="401.3" y2="393.3" stroke="#4cc04c" stroke-width="0.9"/><line x1="397.7" y1="467" x2="401.3" y2="467" stroke="#d84aa8" stroke-width="0.9"/><line x1="397.7" y1="473.5" x2="401.3" y2="473.5" stroke="#d84aa8" stroke-width="0.9"/><rect x="73" y="377.4" width="3.3" height="24.6" fill="#222" stroke="#222" stroke-width="0.8" rx="1"/><ellipse cx="74.65" cy="380.4" rx="0.8" ry="1.8" fill="#fff"/><ellipse cx="74.65" cy="399" rx="0.8" ry="1.8" fill="#fff"/><rect x="73" y="459" width="3.3" height="24.6" fill="#222" stroke="#222" stroke-width="0.8" rx="1"/><ellipse cx="74.65" cy="462" rx="0.8" ry="1.8" fill="#fff"/><ellipse cx="74.65" cy="480.6" rx="0.8" ry="1.8" fill="#fff"/><rect x="401.3" y="377.4" width="3.3" height="24.6" fill="#222" stroke="#222" stroke-width="0.8" rx="1"/><ellipse cx="402.95" cy="380.4" rx="0.8" ry="1.8" fill="#fff"/><ellipse cx="402.95" cy="399" rx="0.8" ry="1.8" fill="#fff"/><rect x="401.3" y="459" width="3.3" height="24.6" fill="#222" stroke="#222" stroke-width="0.8" rx="1"/><ellipse cx="402.95" cy="462" rx="0.8" ry="1.8" fill="#fff"/><ellipse cx="402.95" cy="480.6" rx="0.8" ry="1.8" fill="#fff"/><rect x="144.4" y="411.8" width="9.4" height="37.4" fill="none" stroke="#222" stroke-width="1.3" rx="0"/><line x1="144.4" y1="411.8" x2="153.8" y2="411.8" stroke="#ff1010" stroke-width="2.6"/><line x1="144.4" y1="449.2" x2="153.8" y2="449.2" stroke="#ff1010" stroke-width="2.6"/><rect x="170.5" y="411.8" width="9.5" height="37.4" fill="none" stroke="#222" stroke-width="1.3" rx="0"/><line x1="170.5" y1="411.8" x2="180" y2="411.8" stroke="#ff1010" stroke-width="2.6"/><line x1="170.5" y1="449.2" x2="180" y2="449.2" stroke="#ff1010" stroke-width="2.6"/><rect x="297.8" y="411.8" width="9.8" height="37.4" fill="none" stroke="#222" stroke-width="1.3" rx="0"/><line x1="297.8" y1="411.8" x2="307.6" y2="411.8" stroke="#ff1010" stroke-width="2.6"/><line x1="297.8" y1="449.2" x2="307.6" y2="449.2" stroke="#ff1010" stroke-width="2.6"/><rect x="324.4" y="411.8" width="9.6" height="37.4" fill="none" stroke="#222" stroke-width="1.3" rx="0"/><line x1="324.4" y1="411.8" x2="334" y2="411.8" stroke="#ff1010" stroke-width="2.6"/><line x1="324.4" y1="449.2" x2="334" y2="449.2" stroke="#ff1010" stroke-width="2.6"/><rect x="146.2" y="380.2" width="5.6" height="31.6" fill="none" stroke="#222" stroke-width="1.2" rx="0"/><rect x="299.8" y="380.3" width="5.6" height="31.5" fill="none" stroke="#222" stroke-width="1.2" rx="0"/><rect x="172.4" y="449.2" width="5.6" height="32.4" fill="none" stroke="#222" stroke-width="1.2" rx="0"/><rect x="326.4" y="449.3" width="5.6" height="32.5" fill="none" stroke="#222" stroke-width="1.2" rx="0"/><polyline points="93,416.2 60.4,416.2 60.4,444.3 93,444.3" fill="none" stroke="#d84aa8" stroke-width="1.1"/><text x="59.5" y="430.5" font-family="Liberation Mono" font-size="6.5" fill="#d84aa8" transform="rotate(-90 59.5 430.5)" text-anchor="middle">Φ8</text><polyline points="22.5,469 22.5,518.4 455.6,518.4 455.6,464.7" fill="none" stroke="#d84aa8" stroke-width="1.1"/><polyline points="87.5,444.5 87.5,503.6 390.4,503.6 390.4,449" fill="none" stroke="#d84aa8" stroke-width="1.1"/><text x="233.3" y="502.8" font-family="Liberation Serif" font-size="8.5" font-weight="normal" fill="#d84aa8" textLength="11" lengthAdjust="spacingAndGlyphs">630</text><text x="229" y="517.6" font-family="Liberation Serif" font-size="8" font-weight="normal" fill="#d84aa8" textLength="20.5" lengthAdjust="spacingAndGlyphs">861,12</text><polyline points="371.6,416.2 371.6,380.3 468,380.3 468,480.9 397,480.9" fill="none" stroke="#d84aa8" stroke-width="1.1"/><text x="370.5" y="398.5" font-family="Liberation Mono" font-size="7" fill="#d84aa8" transform="rotate(-90 370.5 398.5)" text-anchor="middle">75</text><text x="467" y="431" font-family="Liberation Mono" font-size="7" fill="#d84aa8" transform="rotate(-90 467 431)" text-anchor="middle">300</text><polyline points="428.2,362.5 494.7,362.5 494.7,497.3 428.2,497.3" fill="none" stroke="#d84aa8" stroke-width="1.1"/><text x="494" y="431" font-family="Liberation Mono" font-size="7" fill="#d84aa8" transform="rotate(-90 494 431)" text-anchor="middle">380</text><polyline points="462,362.5 462,416.5 432,416.5" fill="none" stroke="#d84aa8" stroke-width="0.6"/><circle cx="460.4" cy="389" r="0.8" fill="#d84aa8"/><line x1="205" y1="223.4" x2="162.5" y2="412.5" stroke="#8a8a8a" stroke-width="0.9"/><line x1="272.6" y1="223.4" x2="315" y2="414" stroke="#8a8a8a" stroke-width="0.9"/><rect x="329.3" y="42.6" width="188.3" height="153.6" fill="none" stroke="#222" stroke-width="1.6" rx="0"/><path d="M409.6 58.2 V54.2 Q409.6 52.7 411.1 52.7 H438.2 Q439.7 52.7 439.7 54.2 V58.2" fill="none" stroke="#222" stroke-width="1.3"/><line x1="406.5" y1="58.3" x2="442.2" y2="58.3" stroke="#222" stroke-width="1.3"/><circle cx="414.25" cy="57.8" r="2" fill="#111"/><circle cx="435.25" cy="57.8" r="2" fill="#111"/><line x1="414.25" y1="58.2" x2="368.3" y2="137.2" stroke="#777" stroke-width="0.8"/><line x1="435.25" y1="58.2" x2="480.6" y2="137.4" stroke="#777" stroke-width="0.8"/><g opacity="1"><circle cx="351.2" cy="126.7" r="10.6" fill="none" stroke="#efa2d8" stroke-width="0.45"/><path d="M340.6 126.7 L341.36 130.52 L342.11 131.98 L342.87 133.01 L343.63 133.82 L344.39 134.47 L345.14 135.01 L345.9 135.47 L346.66 135.85 L347.41 136.18 L348.17 136.45 L348.93 136.67 L349.69 136.84 L350.44 136.96 L351.2 137.03 L351.96 137.05 L352.71 137.02 L353.47 136.92 L354.23 136.76 L354.99 136.53 L355.74 136.22 L356.5 135.83 L357.26 135.35 L358.01 134.76 L358.77 134.05 L359.53 133.17 L360.29 132.07 L361.04 130.55 L361.8 126.7" fill="none" stroke="#efa2d8" stroke-width="0.45"/><path d="M340.6 126.7 L341.36 130.18 L342.11 131.44 L342.87 132.3 L343.63 132.95 L344.39 133.46 L345.14 133.9 L345.9 134.28 L346.66 134.63 L347.41 134.95 L348.17 135.25 L348.93 135.54 L349.69 135.81 L350.44 136.05 L351.2 136.25 L351.96 136.4 L352.71 136.5 L353.47 136.51 L354.23 136.45 L354.99 136.29 L355.74 136.03 L356.5 135.66 L357.26 135.18 L358.01 134.57 L358.77 133.82 L359.53 132.92 L360.29 131.8 L361.04 130.31 L361.8 126.7" fill="none" stroke="#efa2d8" stroke-width="0.45"/><path d="M340.6 126.7 L341.36 129.64 L342.11 130.6 L342.87 131.19 L343.63 131.6 L344.39 131.91 L345.14 132.18 L345.9 132.45 L346.66 132.74 L347.41 133.05 L348.17 133.41 L348.93 133.79 L349.69 134.19 L350.44 134.6 L351.2 134.99 L351.96 135.33 L352.71 135.61 L353.47 135.8 L354.23 135.88 L354.99 135.83 L355.74 135.64 L356.5 135.3 L357.26 134.82 L358.01 134.19 L358.77 133.4 L359.53 132.46 L360.29 131.34 L361.04 129.91 L361.8 126.7" fill="none" stroke="#efa2d8" stroke-width="0.45"/><path d="M340.6 126.7 L341.36 128.94 L342.11 129.52 L342.87 129.79 L343.63 129.91 L344.39 129.97 L345.14 130.05 L345.9 130.18 L346.66 130.39 L347.41 130.69 L348.17 131.09 L348.93 131.58 L349.69 132.13 L350.44 132.72 L351.2 133.31 L351.96 133.87 L352.71 134.35 L353.47 134.73 L354.23 134.98 L354.99 135.05 L355.74 134.95 L356.5 134.67 L357.26 134.2 L358.01 133.55 L358.77 132.74 L359.53 131.79 L360.29 130.68 L361.04 129.37 L361.8 126.7" fill="none" stroke="#efa2d8" stroke-width="0.45"/><path d="M340.6 126.7 L341.36 128.12 L342.11 128.3 L342.87 128.22 L343.63 128.04 L344.39 127.85 L345.14 127.72 L345.9 127.7 L346.66 127.82 L347.41 128.1 L348.17 128.53 L348.93 129.1 L349.69 129.77 L350.44 130.52 L351.2 131.3 L351.96 132.05 L352.71 132.73 L353.47 133.29 L354.23 133.69 L354.99 133.89 L355.74 133.89 L356.5 133.66 L357.26 133.23 L358.01 132.6 L358.77 131.8 L359.53 130.87 L360.29 129.84 L361.04 128.69 L361.8 126.7" fill="none" stroke="#efa2d8" stroke-width="0.45"/><path d="M340.6 126.7 L341.36 127.24 L342.11 127.01 L342.87 126.6 L343.63 126.15 L344.39 125.73 L345.14 125.41 L345.9 125.25 L346.66 125.28 L347.41 125.51 L348.17 125.94 L348.93 126.55 L349.69 127.3 L350.44 128.16 L351.2 129.06 L351.96 129.95 L352.71 130.77 L353.47 131.46 L354.23 131.98 L354.99 132.29 L355.74 132.38 L356.5 132.23 L357.26 131.86 L358.01 131.29 L358.77 130.56 L359.53 129.71 L360.29 128.82 L361.04 127.91 L361.8 126.7" fill="none" stroke="#efa2d8" stroke-width="0.45"/><path d="M340.6 126.7 L341.36 126.35 L342.11 125.75 L342.87 125.06 L343.63 124.38 L344.39 123.77 L345.14 123.31 L345.9 123.03 L346.66 122.97 L347.41 123.13 L348.17 123.52 L348.93 124.12 L349.69 124.88 L350.44 125.76 L351.2 126.7 L351.96 127.64 L352.71 128.52 L353.47 129.28 L354.23 129.88 L354.99 130.27 L355.74 130.43 L356.5 130.37 L357.26 130.09 L358.01 129.63 L358.77 129.02 L359.53 128.34 L360.29 127.65 L361.04 127.05 L361.8 126.7" fill="none" stroke="#efa2d8" stroke-width="0.45"/><path d="M340.6 126.7 L341.36 125.49 L342.11 124.58 L342.87 123.69 L343.63 122.84 L344.39 122.11 L345.14 121.54 L345.9 121.17 L346.66 121.02 L347.41 121.11 L348.17 121.42 L348.93 121.94 L349.69 122.63 L350.44 123.45 L351.2 124.34 L351.96 125.24 L352.71 126.1 L353.47 126.85 L354.23 127.46 L354.99 127.89 L355.74 128.12 L356.5 128.15 L357.26 127.99 L358.01 127.67 L358.77 127.25 L359.53 126.8 L360.29 126.39 L361.04 126.16 L361.8 126.7" fill="none" stroke="#efa2d8" stroke-width="0.45"/><path d="M340.6 126.7 L341.36 124.71 L342.11 123.56 L342.87 122.53 L343.63 121.6 L344.39 120.8 L345.14 120.17 L345.9 119.74 L346.66 119.51 L347.41 119.51 L348.17 119.71 L348.93 120.11 L349.69 120.67 L350.44 121.35 L351.2 122.1 L351.96 122.88 L352.71 123.63 L353.47 124.3 L354.23 124.87 L354.99 125.3 L355.74 125.58 L356.5 125.7 L357.26 125.68 L358.01 125.55 L358.77 125.36 L359.53 125.18 L360.29 125.1 L361.04 125.28 L361.8 126.7" fill="none" stroke="#efa2d8" stroke-width="0.45"/><path d="M340.6 126.7 L341.36 124.03 L342.11 122.72 L342.87 121.61 L343.63 120.66 L344.39 119.85 L345.14 119.2 L345.9 118.73 L346.66 118.45 L347.41 118.35 L348.17 118.42 L348.93 118.67 L349.69 119.05 L350.44 119.53 L351.2 120.09 L351.96 120.68 L352.71 121.27 L353.47 121.82 L354.23 122.31 L354.99 122.71 L355.74 123.01 L356.5 123.22 L357.26 123.35 L358.01 123.43 L358.77 123.49 L359.53 123.61 L360.29 123.88 L361.04 124.46 L361.8 126.7" fill="none" stroke="#efa2d8" stroke-width="0.45"/><path d="M340.6 126.7 L341.36 123.49 L342.11 122.06 L342.87 120.94 L343.63 120 L344.39 119.21 L345.14 118.58 L345.9 118.1 L346.66 117.76 L347.41 117.57 L348.17 117.52 L348.93 117.6 L349.69 117.79 L350.44 118.07 L351.2 118.41 L351.96 118.8 L352.71 119.21 L353.47 119.61 L354.23 119.99 L354.99 120.35 L355.74 120.66 L356.5 120.95 L357.26 121.22 L358.01 121.49 L358.77 121.8 L359.53 122.21 L360.29 122.8 L361.04 123.76 L361.8 126.7" fill="none" stroke="#efa2d8" stroke-width="0.45"/><path d="M340.6 126.7 L341.36 123.09 L342.11 121.6 L342.87 120.48 L343.63 119.58 L344.39 118.83 L345.14 118.22 L345.9 117.74 L346.66 117.37 L347.41 117.11 L348.17 116.95 L348.93 116.89 L349.69 116.9 L350.44 117 L351.2 117.15 L351.96 117.35 L352.71 117.59 L353.47 117.86 L354.23 118.15 L354.99 118.45 L355.74 118.77 L356.5 119.12 L357.26 119.5 L358.01 119.94 L358.77 120.45 L359.53 121.1 L360.29 121.96 L361.04 123.22 L361.8 126.7" fill="none" stroke="#efa2d8" stroke-width="0.45"/><path d="M340.6 126.7 L341.36 122.85 L342.11 121.33 L342.87 120.23 L343.63 119.35 L344.39 118.64 L345.14 118.05 L345.9 117.57 L346.66 117.18 L347.41 116.87 L348.17 116.64 L348.93 116.48 L349.69 116.38 L350.44 116.35 L351.2 116.37 L351.96 116.44 L352.71 116.56 L353.47 116.73 L354.23 116.95 L354.99 117.22 L355.74 117.55 L356.5 117.93 L357.26 118.39 L358.01 118.93 L358.77 119.58 L359.53 120.39 L360.29 121.42 L361.04 122.88 L361.8 126.7" fill="none" stroke="#efa2d8" stroke-width="0.45"/></g><g opacity="1"><circle cx="351.2" cy="159.2" r="10.6" fill="none" stroke="#efa2d8" stroke-width="0.45"/><path d="M340.6 159.2 L341.36 163.02 L342.11 164.48 L342.87 165.51 L343.63 166.32 L344.39 166.97 L345.14 167.51 L345.9 167.97 L346.66 168.35 L347.41 168.68 L348.17 168.95 L348.93 169.17 L349.69 169.34 L350.44 169.46 L351.2 169.53 L351.96 169.55 L352.71 169.52 L353.47 169.42 L354.23 169.26 L354.99 169.03 L355.74 168.72 L356.5 168.33 L357.26 167.85 L358.01 167.26 L358.77 166.55 L359.53 165.67 L360.29 164.57 L361.04 163.05 L361.8 159.2" fill="none" stroke="#efa2d8" stroke-width="0.45"/><path d="M340.6 159.2 L341.36 162.68 L342.11 163.94 L342.87 164.8 L343.63 165.45 L344.39 165.96 L345.14 166.4 L345.9 166.78 L346.66 167.13 L347.41 167.45 L348.17 167.75 L348.93 168.04 L349.69 168.31 L350.44 168.55 L351.2 168.75 L351.96 168.9 L352.71 169 L353.47 169.01 L354.23 168.95 L354.99 168.79 L355.74 168.53 L356.5 168.16 L357.26 167.68 L358.01 167.07 L358.77 166.32 L359.53 165.42 L360.29 164.3 L361.04 162.81 L361.8 159.2" fill="none" stroke="#efa2d8" stroke-width="0.45"/><path d="M340.6 159.2 L341.36 162.14 L342.11 163.1 L342.87 163.69 L343.63 164.1 L344.39 164.41 L345.14 164.68 L345.9 164.95 L346.66 165.24 L347.41 165.55 L348.17 165.91 L348.93 166.29 L349.69 166.69 L350.44 167.1 L351.2 167.49 L351.96 167.83 L352.71 168.11 L353.47 168.3 L354.23 168.38 L354.99 168.33 L355.74 168.14 L356.5 167.8 L357.26 167.32 L358.01 166.69 L358.77 165.9 L359.53 164.96 L360.29 163.84 L361.04 162.41 L361.8 159.2" fill="none" stroke="#efa2d8" stroke-width="0.45"/><path d="M340.6 159.2 L341.36 161.44 L342.11 162.02 L342.87 162.29 L343.63 162.41 L344.39 162.47 L345.14 162.55 L345.9 162.68 L346.66 162.89 L347.41 163.19 L348.17 163.59 L348.93 164.08 L349.69 164.63 L350.44 165.22 L351.2 165.81 L351.96 166.37 L352.71 166.85 L353.47 167.23 L354.23 167.48 L354.99 167.55 L355.74 167.45 L356.5 167.17 L357.26 166.7 L358.01 166.05 L358.77 165.24 L359.53 164.29 L360.29 163.18 L361.04 161.87 L361.8 159.2" fill="none" stroke="#efa2d8" stroke-width="0.45"/><path d="M340.6 159.2 L341.36 160.62 L342.11 160.8 L342.87 160.72 L343.63 160.54 L344.39 160.35 L345.14 160.22 L345.9 160.2 L346.66 160.32 L347.41 160.6 L348.17 161.03 L348.93 161.6 L349.69 162.27 L350.44 163.02 L351.2 163.8 L351.96 164.55 L352.71 165.23 L353.47 165.79 L354.23 166.19 L354.99 166.39 L355.74 166.39 L356.5 166.16 L357.26 165.73 L358.01 165.1 L358.77 164.3 L359.53 163.37 L360.29 162.34 L361.04 161.19 L361.8 159.2" fill="none" stroke="#efa2d8" stroke-width="0.45"/><path d="M340.6 159.2 L341.36 159.74 L342.11 159.51 L342.87 159.1 L343.63 158.65 L344.39 158.23 L345.14 157.91 L345.9 157.75 L346.66 157.78 L347.41 158.01 L348.17 158.44 L348.93 159.05 L349.69 159.8 L350.44 160.66 L351.2 161.56 L351.96 162.45 L352.71 163.27 L353.47 163.96 L354.23 164.48 L354.99 164.79 L355.74 164.88 L356.5 164.73 L357.26 164.36 L358.01 163.79 L358.77 163.06 L359.53 162.21 L360.29 161.32 L361.04 160.41 L361.8 159.2" fill="none" stroke="#efa2d8" stroke-width="0.45"/><path d="M340.6 159.2 L341.36 158.85 L342.11 158.25 L342.87 157.56 L343.63 156.88 L344.39 156.27 L345.14 155.81 L345.9 155.53 L346.66 155.47 L347.41 155.63 L348.17 156.02 L348.93 156.62 L349.69 157.38 L350.44 158.26 L351.2 159.2 L351.96 160.14 L352.71 161.02 L353.47 161.78 L354.23 162.38 L354.99 162.77 L355.74 162.93 L356.5 162.87 L357.26 162.59 L358.01 162.13 L358.77 161.52 L359.53 160.84 L360.29 160.15 L361.04 159.55 L361.8 159.2" fill="none" stroke="#efa2d8" stroke-width="0.45"/><path d="M340.6 159.2 L341.36 157.99 L342.11 157.08 L342.87 156.19 L343.63 155.34 L344.39 154.61 L345.14 154.04 L345.9 153.67 L346.66 153.52 L347.41 153.61 L348.17 153.92 L348.93 154.44 L349.69 155.13 L350.44 155.95 L351.2 156.84 L351.96 157.74 L352.71 158.6 L353.47 159.35 L354.23 159.96 L354.99 160.39 L355.74 160.62 L356.5 160.65 L357.26 160.49 L358.01 160.17 L358.77 159.75 L359.53 159.3 L360.29 158.89 L361.04 158.66 L361.8 159.2" fill="none" stroke="#efa2d8" stroke-width="0.45"/><path d="M340.6 159.2 L341.36 157.21 L342.11 156.06 L342.87 155.03 L343.63 154.1 L344.39 153.3 L345.14 152.67 L345.9 152.24 L346.66 152.01 L347.41 152.01 L348.17 152.21 L348.93 152.61 L349.69 153.17 L350.44 153.85 L351.2 154.6 L351.96 155.38 L352.71 156.13 L353.47 156.8 L354.23 157.37 L354.99 157.8 L355.74 158.08 L356.5 158.2 L357.26 158.18 L358.01 158.05 L358.77 157.86 L359.53 157.68 L360.29 157.6 L361.04 157.78 L361.8 159.2" fill="none" stroke="#efa2d8" stroke-width="0.45"/><path d="M340.6 159.2 L341.36 156.53 L342.11 155.22 L342.87 154.11 L343.63 153.16 L344.39 152.35 L345.14 151.7 L345.9 151.23 L346.66 150.95 L347.41 150.85 L348.17 150.92 L348.93 151.17 L349.69 151.55 L350.44 152.03 L351.2 152.59 L351.96 153.18 L352.71 153.77 L353.47 154.32 L354.23 154.81 L354.99 155.21 L355.74 155.51 L356.5 155.72 L357.26 155.85 L358.01 155.93 L358.77 155.99 L359.53 156.11 L360.29 156.38 L361.04 156.96 L361.8 159.2" fill="none" stroke="#efa2d8" stroke-width="0.45"/><path d="M340.6 159.2 L341.36 155.99 L342.11 154.56 L342.87 153.44 L343.63 152.5 L344.39 151.71 L345.14 151.08 L345.9 150.6 L346.66 150.26 L347.41 150.07 L348.17 150.02 L348.93 150.1 L349.69 150.29 L350.44 150.57 L351.2 150.91 L351.96 151.3 L352.71 151.71 L353.47 152.11 L354.23 152.49 L354.99 152.85 L355.74 153.16 L356.5 153.45 L357.26 153.72 L358.01 153.99 L358.77 154.3 L359.53 154.71 L360.29 155.3 L361.04 156.26 L361.8 159.2" fill="none" stroke="#efa2d8" stroke-width="0.45"/><path d="M340.6 159.2 L341.36 155.59 L342.11 154.1 L342.87 152.98 L343.63 152.08 L344.39 151.33 L345.14 150.72 L345.9 150.24 L346.66 149.87 L347.41 149.61 L348.17 149.45 L348.93 149.39 L349.69 149.4 L350.44 149.5 L351.2 149.65 L351.96 149.85 L352.71 150.09 L353.47 150.36 L354.23 150.65 L354.99 150.95 L355.74 151.27 L356.5 151.62 L357.26 152 L358.01 152.44 L358.77 152.95 L359.53 153.6 L360.29 154.46 L361.04 155.72 L361.8 159.2" fill="none" stroke="#efa2d8" stroke-width="0.45"/><path d="M340.6 159.2 L341.36 155.35 L342.11 153.83 L342.87 152.73 L343.63 151.85 L344.39 151.14 L345.14 150.55 L345.9 150.07 L346.66 149.68 L347.41 149.37 L348.17 149.14 L348.93 148.98 L349.69 148.88 L350.44 148.85 L351.2 148.87 L351.96 148.94 L352.71 149.06 L353.47 149.23 L354.23 149.45 L354.99 149.72 L355.74 150.05 L356.5 150.43 L357.26 150.89 L358.01 151.43 L358.77 152.08 L359.53 152.89 L360.29 153.92 L361.04 155.38 L361.8 159.2" fill="none" stroke="#efa2d8" stroke-width="0.45"/></g><g opacity="1"><circle cx="498.2" cy="126.7" r="10.6" fill="none" stroke="#efa2d8" stroke-width="0.45"/><path d="M487.6 126.7 L488.36 130.55 L489.11 132.07 L489.87 133.17 L490.63 134.05 L491.39 134.76 L492.14 135.35 L492.9 135.83 L493.66 136.22 L494.41 136.53 L495.17 136.76 L495.93 136.92 L496.69 137.02 L497.44 137.05 L498.2 137.03 L498.96 136.96 L499.71 136.84 L500.47 136.67 L501.23 136.45 L501.99 136.18 L502.74 135.85 L503.5 135.47 L504.26 135.01 L505.01 134.47 L505.77 133.82 L506.53 133.01 L507.29 131.98 L508.04 130.52 L508.8 126.7" fill="none" stroke="#efa2d8" stroke-width="0.45"/><path d="M487.6 126.7 L488.36 130.31 L489.11 131.8 L489.87 132.92 L490.63 133.82 L491.39 134.57 L492.14 135.18 L492.9 135.66 L493.66 136.03 L494.41 136.29 L495.17 136.45 L495.93 136.51 L496.69 136.5 L497.44 136.4 L498.2 136.25 L498.96 136.05 L499.71 135.81 L500.47 135.54 L501.23 135.25 L501.99 134.95 L502.74 134.63 L503.5 134.28 L504.26 133.9 L505.01 133.46 L505.77 132.95 L506.53 132.3 L507.29 131.44 L508.04 130.18 L508.8 126.7" fill="none" stroke="#efa2d8" stroke-width="0.45"/><path d="M487.6 126.7 L488.36 129.91 L489.11 131.34 L489.87 132.46 L490.63 133.4 L491.39 134.19 L492.14 134.82 L492.9 135.3 L493.66 135.64 L494.41 135.83 L495.17 135.88 L495.93 135.8 L496.69 135.61 L497.44 135.33 L498.2 134.99 L498.96 134.6 L499.71 134.19 L500.47 133.79 L501.23 133.41 L501.99 133.05 L502.74 132.74 L503.5 132.45 L504.26 132.18 L505.01 131.91 L505.77 131.6 L506.53 131.19 L507.29 130.6 L508.04 129.64 L508.8 126.7" fill="none" stroke="#efa2d8" stroke-width="0.45"/><path d="M487.6 126.7 L488.36 129.37 L489.11 130.68 L489.87 131.79 L490.63 132.74 L491.39 133.55 L492.14 134.2 L492.9 134.67 L493.66 134.95 L494.41 135.05 L495.17 134.98 L495.93 134.73 L496.69 134.35 L497.44 133.87 L498.2 133.31 L498.96 132.72 L499.71 132.13 L500.47 131.58 L501.23 131.09 L501.99 130.69 L502.74 130.39 L503.5 130.18 L504.26 130.05 L505.01 129.97 L505.77 129.91 L506.53 129.79 L507.29 129.52 L508.04 128.94 L508.8 126.7" fill="none" stroke="#efa2d8" stroke-width="0.45"/><path d="M487.6 126.7 L488.36 128.69 L489.11 129.84 L489.87 130.87 L490.63 131.8 L491.39 132.6 L492.14 133.23 L492.9 133.66 L493.66 133.89 L494.41 133.89 L495.17 133.69 L495.93 133.29 L496.69 132.73 L497.44 132.05 L498.2 131.3 L498.96 130.52 L499.71 129.77 L500.47 129.1 L501.23 128.53 L501.99 128.1 L502.74 127.82 L503.5 127.7 L504.26 127.72 L505.01 127.85 L505.77 128.04 L506.53 128.22 L507.29 128.3 L508.04 128.12 L508.8 126.7" fill="none" stroke="#efa2d8" stroke-width="0.45"/><path d="M487.6 126.7 L488.36 127.91 L489.11 128.82 L489.87 129.71 L490.63 130.56 L491.39 131.29 L492.14 131.86 L492.9 132.23 L493.66 132.38 L494.41 132.29 L495.17 131.98 L495.93 131.46 L496.69 130.77 L497.44 129.95 L498.2 129.06 L498.96 128.16 L499.71 127.3 L500.47 126.55 L501.23 125.94 L501.99 125.51 L502.74 125.28 L503.5 125.25 L504.26 125.41 L505.01 125.73 L505.77 126.15 L506.53 126.6 L507.29 127.01 L508.04 127.24 L508.8 126.7" fill="none" stroke="#efa2d8" stroke-width="0.45"/><path d="M487.6 126.7 L488.36 127.05 L489.11 127.65 L489.87 128.34 L490.63 129.02 L491.39 129.63 L492.14 130.09 L492.9 130.37 L493.66 130.43 L494.41 130.27 L495.17 129.88 L495.93 129.28 L496.69 128.52 L497.44 127.64 L498.2 126.7 L498.96 125.76 L499.71 124.88 L500.47 124.12 L501.23 123.52 L501.99 123.13 L502.74 122.97 L503.5 123.03 L504.26 123.31 L505.01 123.77 L505.77 124.38 L506.53 125.06 L507.29 125.75 L508.04 126.35 L508.8 126.7" fill="none" stroke="#efa2d8" stroke-width="0.45"/><path d="M487.6 126.7 L488.36 126.16 L489.11 126.39 L489.87 126.8 L490.63 127.25 L491.39 127.67 L492.14 127.99 L492.9 128.15 L493.66 128.12 L494.41 127.89 L495.17 127.46 L495.93 126.85 L496.69 126.1 L497.44 125.24 L498.2 124.34 L498.96 123.45 L499.71 122.63 L500.47 121.94 L501.23 121.42 L501.99 121.11 L502.74 121.02 L503.5 121.17 L504.26 121.54 L505.01 122.11 L505.77 122.84 L506.53 123.69 L507.29 124.58 L508.04 125.49 L508.8 126.7" fill="none" stroke="#efa2d8" stroke-width="0.45"/><path d="M487.6 126.7 L488.36 125.28 L489.11 125.1 L489.87 125.18 L490.63 125.36 L491.39 125.55 L492.14 125.68 L492.9 125.7 L493.66 125.58 L494.41 125.3 L495.17 124.87 L495.93 124.3 L496.69 123.63 L497.44 122.88 L498.2 122.1 L498.96 121.35 L499.71 120.67 L500.47 120.11 L501.23 119.71 L501.99 119.51 L502.74 119.51 L503.5 119.74 L504.26 120.17 L505.01 120.8 L505.77 121.6 L506.53 122.53 L507.29 123.56 L508.04 124.71 L508.8 126.7" fill="none" stroke="#efa2d8" stroke-width="0.45"/><path d="M487.6 126.7 L488.36 124.46 L489.11 123.88 L489.87 123.61 L490.63 123.49 L491.39 123.43 L492.14 123.35 L492.9 123.22 L493.66 123.01 L494.41 122.71 L495.17 122.31 L495.93 121.82 L496.69 121.27 L497.44 120.68 L498.2 120.09 L498.96 119.53 L499.71 119.05 L500.47 118.67 L501.23 118.42 L501.99 118.35 L502.74 118.45 L503.5 118.73 L504.26 119.2 L505.01 119.85 L505.77 120.66 L506.53 121.61 L507.29 122.72 L508.04 124.03 L508.8 126.7" fill="none" stroke="#efa2d8" stroke-width="0.45"/><path d="M487.6 126.7 L488.36 123.76 L489.11 122.8 L489.87 122.21 L490.63 121.8 L491.39 121.49 L492.14 121.22 L492.9 120.95 L493.66 120.66 L494.41 120.35 L495.17 119.99 L495.93 119.61 L496.69 119.21 L497.44 118.8 L498.2 118.41 L498.96 118.07 L499.71 117.79 L500.47 117.6 L501.23 117.52 L501.99 117.57 L502.74 117.76 L503.5 118.1 L504.26 118.58 L505.01 119.21 L505.77 120 L506.53 120.94 L507.29 122.06 L508.04 123.49 L508.8 126.7" fill="none" stroke="#efa2d8" stroke-width="0.45"/><path d="M487.6 126.7 L488.36 123.22 L489.11 121.96 L489.87 121.1 L490.63 120.45 L491.39 119.94 L492.14 119.5 L492.9 119.12 L493.66 118.77 L494.41 118.45 L495.17 118.15 L495.93 117.86 L496.69 117.59 L497.44 117.35 L498.2 117.15 L498.96 117 L499.71 116.9 L500.47 116.89 L501.23 116.95 L501.99 117.11 L502.74 117.37 L503.5 117.74 L504.26 118.22 L505.01 118.83 L505.77 119.58 L506.53 120.48 L507.29 121.6 L508.04 123.09 L508.8 126.7" fill="none" stroke="#efa2d8" stroke-width="0.45"/><path d="M487.6 126.7 L488.36 122.88 L489.11 121.42 L489.87 120.39 L490.63 119.58 L491.39 118.93 L492.14 118.39 L492.9 117.93 L493.66 117.55 L494.41 117.22 L495.17 116.95 L495.93 116.73 L496.69 116.56 L497.44 116.44 L498.2 116.37 L498.96 116.35 L499.71 116.38 L500.47 116.48 L501.23 116.64 L501.99 116.87 L502.74 117.18 L503.5 117.57 L504.26 118.05 L505.01 118.64 L505.77 119.35 L506.53 120.23 L507.29 121.33 L508.04 122.85 L508.8 126.7" fill="none" stroke="#efa2d8" stroke-width="0.45"/></g><g opacity="1"><circle cx="498.2" cy="159.2" r="10.6" fill="none" stroke="#efa2d8" stroke-width="0.45"/><path d="M487.6 159.2 L488.36 163.05 L489.11 164.57 L489.87 165.67 L490.63 166.55 L491.39 167.26 L492.14 167.85 L492.9 168.33 L493.66 168.72 L494.41 169.03 L495.17 169.26 L495.93 169.42 L496.69 169.52 L497.44 169.55 L498.2 169.53 L498.96 169.46 L499.71 169.34 L500.47 169.17 L501.23 168.95 L501.99 168.68 L502.74 168.35 L503.5 167.97 L504.26 167.51 L505.01 166.97 L505.77 166.32 L506.53 165.51 L507.29 164.48 L508.04 163.02 L508.8 159.2" fill="none" stroke="#efa2d8" stroke-width="0.45"/><path d="M487.6 159.2 L488.36 162.81 L489.11 164.3 L489.87 165.42 L490.63 166.32 L491.39 167.07 L492.14 167.68 L492.9 168.16 L493.66 168.53 L494.41 168.79 L495.17 168.95 L495.93 169.01 L496.69 169 L497.44 168.9 L498.2 168.75 L498.96 168.55 L499.71 168.31 L500.47 168.04 L501.23 167.75 L501.99 167.45 L502.74 167.13 L503.5 166.78 L504.26 166.4 L505.01 165.96 L505.77 165.45 L506.53 164.8 L507.29 163.94 L508.04 162.68 L508.8 159.2" fill="none" stroke="#efa2d8" stroke-width="0.45"/><path d="M487.6 159.2 L488.36 162.41 L489.11 163.84 L489.87 164.96 L490.63 165.9 L491.39 166.69 L492.14 167.32 L492.9 167.8 L493.66 168.14 L494.41 168.33 L495.17 168.38 L495.93 168.3 L496.69 168.11 L497.44 167.83 L498.2 167.49 L498.96 167.1 L499.71 166.69 L500.47 166.29 L501.23 165.91 L501.99 165.55 L502.74 165.24 L503.5 164.95 L504.26 164.68 L505.01 164.41 L505.77 164.1 L506.53 163.69 L507.29 163.1 L508.04 162.14 L508.8 159.2" fill="none" stroke="#efa2d8" stroke-width="0.45"/><path d="M487.6 159.2 L488.36 161.87 L489.11 163.18 L489.87 164.29 L490.63 165.24 L491.39 166.05 L492.14 166.7 L492.9 167.17 L493.66 167.45 L494.41 167.55 L495.17 167.48 L495.93 167.23 L496.69 166.85 L497.44 166.37 L498.2 165.81 L498.96 165.22 L499.71 164.63 L500.47 164.08 L501.23 163.59 L501.99 163.19 L502.74 162.89 L503.5 162.68 L504.26 162.55 L505.01 162.47 L505.77 162.41 L506.53 162.29 L507.29 162.02 L508.04 161.44 L508.8 159.2" fill="none" stroke="#efa2d8" stroke-width="0.45"/><path d="M487.6 159.2 L488.36 161.19 L489.11 162.34 L489.87 163.37 L490.63 164.3 L491.39 165.1 L492.14 165.73 L492.9 166.16 L493.66 166.39 L494.41 166.39 L495.17 166.19 L495.93 165.79 L496.69 165.23 L497.44 164.55 L498.2 163.8 L498.96 163.02 L499.71 162.27 L500.47 161.6 L501.23 161.03 L501.99 160.6 L502.74 160.32 L503.5 160.2 L504.26 160.22 L505.01 160.35 L505.77 160.54 L506.53 160.72 L507.29 160.8 L508.04 160.62 L508.8 159.2" fill="none" stroke="#efa2d8" stroke-width="0.45"/><path d="M487.6 159.2 L488.36 160.41 L489.11 161.32 L489.87 162.21 L490.63 163.06 L491.39 163.79 L492.14 164.36 L492.9 164.73 L493.66 164.88 L494.41 164.79 L495.17 164.48 L495.93 163.96 L496.69 163.27 L497.44 162.45 L498.2 161.56 L498.96 160.66 L499.71 159.8 L500.47 159.05 L501.23 158.44 L501.99 158.01 L502.74 157.78 L503.5 157.75 L504.26 157.91 L505.01 158.23 L505.77 158.65 L506.53 159.1 L507.29 159.51 L508.04 159.74 L508.8 159.2" fill="none" stroke="#efa2d8" stroke-width="0.45"/><path d="M487.6 159.2 L488.36 159.55 L489.11 160.15 L489.87 160.84 L490.63 161.52 L491.39 162.13 L492.14 162.59 L492.9 162.87 L493.66 162.93 L494.41 162.77 L495.17 162.38 L495.93 161.78 L496.69 161.02 L497.44 160.14 L498.2 159.2 L498.96 158.26 L499.71 157.38 L500.47 156.62 L501.23 156.02 L501.99 155.63 L502.74 155.47 L503.5 155.53 L504.26 155.81 L505.01 156.27 L505.77 156.88 L506.53 157.56 L507.29 158.25 L508.04 158.85 L508.8 159.2" fill="none" stroke="#efa2d8" stroke-width="0.45"/><path d="M487.6 159.2 L488.36 158.66 L489.11 158.89 L489.87 159.3 L490.63 159.75 L491.39 160.17 L492.14 160.49 L492.9 160.65 L493.66 160.62 L494.41 160.39 L495.17 159.96 L495.93 159.35 L496.69 158.6 L497.44 157.74 L498.2 156.84 L498.96 155.95 L499.71 155.13 L500.47 154.44 L501.23 153.92 L501.99 153.61 L502.74 153.52 L503.5 153.67 L504.26 154.04 L505.01 154.61 L505.77 155.34 L506.53 156.19 L507.29 157.08 L508.04 157.99 L508.8 159.2" fill="none" stroke="#efa2d8" stroke-width="0.45"/><path d="M487.6 159.2 L488.36 157.78 L489.11 157.6 L489.87 157.68 L490.63 157.86 L491.39 158.05 L492.14 158.18 L492.9 158.2 L493.66 158.08 L494.41 157.8 L495.17 157.37 L495.93 156.8 L496.69 156.13 L497.44 155.38 L498.2 154.6 L498.96 153.85 L499.71 153.17 L500.47 152.61 L501.23 152.21 L501.99 152.01 L502.74 152.01 L503.5 152.24 L504.26 152.67 L505.01 153.3 L505.77 154.1 L506.53 155.03 L507.29 156.06 L508.04 157.21 L508.8 159.2" fill="none" stroke="#efa2d8" stroke-width="0.45"/><path d="M487.6 159.2 L488.36 156.96 L489.11 156.38 L489.87 156.11 L490.63 155.99 L491.39 155.93 L492.14 155.85 L492.9 155.72 L493.66 155.51 L494.41 155.21 L495.17 154.81 L495.93 154.32 L496.69 153.77 L497.44 153.18 L498.2 152.59 L498.96 152.03 L499.71 151.55 L500.47 151.17 L501.23 150.92 L501.99 150.85 L502.74 150.95 L503.5 151.23 L504.26 151.7 L505.01 152.35 L505.77 153.16 L506.53 154.11 L507.29 155.22 L508.04 156.53 L508.8 159.2" fill="none" stroke="#efa2d8" stroke-width="0.45"/><path d="M487.6 159.2 L488.36 156.26 L489.11 155.3 L489.87 154.71 L490.63 154.3 L491.39 153.99 L492.14 153.72 L492.9 153.45 L493.66 153.16 L494.41 152.85 L495.17 152.49 L495.93 152.11 L496.69 151.71 L497.44 151.3 L498.2 150.91 L498.96 150.57 L499.71 150.29 L500.47 150.1 L501.23 150.02 L501.99 150.07 L502.74 150.26 L503.5 150.6 L504.26 151.08 L505.01 151.71 L505.77 152.5 L506.53 153.44 L507.29 154.56 L508.04 155.99 L508.8 159.2" fill="none" stroke="#efa2d8" stroke-width="0.45"/><path d="M487.6 159.2 L488.36 155.72 L489.11 154.46 L489.87 153.6 L490.63 152.95 L491.39 152.44 L492.14 152 L492.9 151.62 L493.66 151.27 L494.41 150.95 L495.17 150.65 L495.93 150.36 L496.69 150.09 L497.44 149.85 L498.2 149.65 L498.96 149.5 L499.71 149.4 L500.47 149.39 L501.23 149.45 L501.99 149.61 L502.74 149.87 L503.5 150.24 L504.26 150.72 L505.01 151.33 L505.77 152.08 L506.53 152.98 L507.29 154.1 L508.04 155.59 L508.8 159.2" fill="none" stroke="#efa2d8" stroke-width="0.45"/><path d="M487.6 159.2 L488.36 155.38 L489.11 153.92 L489.87 152.89 L490.63 152.08 L491.39 151.43 L492.14 150.89 L492.9 150.43 L493.66 150.05 L494.41 149.72 L495.17 149.45 L495.93 149.23 L496.69 149.06 L497.44 148.94 L498.2 148.87 L498.96 148.85 L499.71 148.88 L500.47 148.98 L501.23 149.14 L501.99 149.37 L502.74 149.68 L503.5 150.07 L504.26 150.55 L505.01 151.14 L505.77 151.85 L506.53 152.73 L507.29 153.83 L508.04 155.35 L508.8 159.2" fill="none" stroke="#efa2d8" stroke-width="0.45"/></g><circle cx="395.4" cy="126.7" r="11" fill="none" stroke="#4cc04c" stroke-width="0.5850000000000001"/><path d="M397.08 130.66 A5.5 5.5 0 0 0 406.4 126.7" fill="none" stroke="#80d080" stroke-width="0.45"/><path d="M395.44 131 A5.5 5.5 0 0 0 405.56 130.91" fill="none" stroke="#80d080" stroke-width="0.45"/><path d="M393.79 130.69 A5.5 5.5 0 0 0 403.18 134.48" fill="none" stroke="#80d080" stroke-width="0.45"/><path d="M392.39 129.77 A5.5 5.5 0 0 0 399.61 136.86" fill="none" stroke="#80d080" stroke-width="0.45"/><path d="M391.44 128.38 A5.5 5.5 0 0 0 395.4 137.7" fill="none" stroke="#80d080" stroke-width="0.45"/><path d="M391.1 126.74 A5.5 5.5 0 0 0 391.19 136.86" fill="none" stroke="#80d080" stroke-width="0.45"/><path d="M391.41 125.09 A5.5 5.5 0 0 0 387.62 134.48" fill="none" stroke="#80d080" stroke-width="0.45"/><path d="M392.33 123.69 A5.5 5.5 0 0 0 385.24 130.91" fill="none" stroke="#80d080" stroke-width="0.45"/><path d="M393.72 122.74 A5.5 5.5 0 0 0 384.4 126.7" fill="none" stroke="#80d080" stroke-width="0.45"/><path d="M395.36 122.4 A5.5 5.5 0 0 0 385.24 122.49" fill="none" stroke="#80d080" stroke-width="0.45"/><path d="M397.01 122.71 A5.5 5.5 0 0 0 387.62 118.92" fill="none" stroke="#80d080" stroke-width="0.45"/><path d="M398.41 123.63 A5.5 5.5 0 0 0 391.19 116.54" fill="none" stroke="#80d080" stroke-width="0.45"/><path d="M399.36 125.02 A5.5 5.5 0 0 0 395.4 115.7" fill="none" stroke="#80d080" stroke-width="0.45"/><path d="M399.7 126.66 A5.5 5.5 0 0 0 399.61 116.54" fill="none" stroke="#80d080" stroke-width="0.45"/><path d="M399.39 128.31 A5.5 5.5 0 0 0 403.18 118.92" fill="none" stroke="#80d080" stroke-width="0.45"/><path d="M398.47 129.71 A5.5 5.5 0 0 0 405.56 122.49" fill="none" stroke="#80d080" stroke-width="0.45"/><circle cx="395.4" cy="126.7" r="4.3" fill="none" stroke="#999" stroke-width="0.8"/><circle cx="443" cy="126.7" r="11" fill="none" stroke="#4cc04c" stroke-width="0.5850000000000001"/><path d="M444.68 130.66 A5.5 5.5 0 0 0 454 126.7" fill="none" stroke="#80d080" stroke-width="0.45"/><path d="M443.04 131 A5.5 5.5 0 0 0 453.16 130.91" fill="none" stroke="#80d080" stroke-width="0.45"/><path d="M441.39 130.69 A5.5 5.5 0 0 0 450.78 134.48" fill="none" stroke="#80d080" stroke-width="0.45"/><path d="M439.99 129.77 A5.5 5.5 0 0 0 447.21 136.86" fill="none" stroke="#80d080" stroke-width="0.45"/><path d="M439.04 128.38 A5.5 5.5 0 0 0 443 137.7" fill="none" stroke="#80d080" stroke-width="0.45"/><path d="M438.7 126.74 A5.5 5.5 0 0 0 438.79 136.86" fill="none" stroke="#80d080" stroke-width="0.45"/><path d="M439.01 125.09 A5.5 5.5 0 0 0 435.22 134.48" fill="none" stroke="#80d080" stroke-width="0.45"/><path d="M439.93 123.69 A5.5 5.5 0 0 0 432.84 130.91" fill="none" stroke="#80d080" stroke-width="0.45"/><path d="M441.32 122.74 A5.5 5.5 0 0 0 432 126.7" fill="none" stroke="#80d080" stroke-width="0.45"/><path d="M442.96 122.4 A5.5 5.5 0 0 0 432.84 122.49" fill="none" stroke="#80d080" stroke-width="0.45"/><path d="M444.61 122.71 A5.5 5.5 0 0 0 435.22 118.92" fill="none" stroke="#80d080" stroke-width="0.45"/><path d="M446.01 123.63 A5.5 5.5 0 0 0 438.79 116.54" fill="none" stroke="#80d080" stroke-width="0.45"/><path d="M446.96 125.02 A5.5 5.5 0 0 0 443 115.7" fill="none" stroke="#80d080" stroke-width="0.45"/><path d="M447.3 126.66 A5.5 5.5 0 0 0 447.21 116.54" fill="none" stroke="#80d080" stroke-width="0.45"/><path d="M446.99 128.31 A5.5 5.5 0 0 0 450.78 118.92" fill="none" stroke="#80d080" stroke-width="0.45"/><path d="M446.07 129.71 A5.5 5.5 0 0 0 453.16 122.49" fill="none" stroke="#80d080" stroke-width="0.45"/><circle cx="443" cy="126.7" r="4.3" fill="none" stroke="#999" stroke-width="0.8"/><circle cx="405.7" cy="159.7" r="11" fill="none" stroke="#4cc04c" stroke-width="0.5850000000000001"/><path d="M407.38 163.66 A5.5 5.5 0 0 0 416.7 159.7" fill="none" stroke="#80d080" stroke-width="0.45"/><path d="M405.74 164 A5.5 5.5 0 0 0 415.86 163.91" fill="none" stroke="#80d080" stroke-width="0.45"/><path d="M404.09 163.69 A5.5 5.5 0 0 0 413.48 167.48" fill="none" stroke="#80d080" stroke-width="0.45"/><path d="M402.69 162.77 A5.5 5.5 0 0 0 409.91 169.86" fill="none" stroke="#80d080" stroke-width="0.45"/><path d="M401.74 161.38 A5.5 5.5 0 0 0 405.7 170.7" fill="none" stroke="#80d080" stroke-width="0.45"/><path d="M401.4 159.74 A5.5 5.5 0 0 0 401.49 169.86" fill="none" stroke="#80d080" stroke-width="0.45"/><path d="M401.71 158.09 A5.5 5.5 0 0 0 397.92 167.48" fill="none" stroke="#80d080" stroke-width="0.45"/><path d="M402.63 156.69 A5.5 5.5 0 0 0 395.54 163.91" fill="none" stroke="#80d080" stroke-width="0.45"/><path d="M404.02 155.74 A5.5 5.5 0 0 0 394.7 159.7" fill="none" stroke="#80d080" stroke-width="0.45"/><path d="M405.66 155.4 A5.5 5.5 0 0 0 395.54 155.49" fill="none" stroke="#80d080" stroke-width="0.45"/><path d="M407.31 155.71 A5.5 5.5 0 0 0 397.92 151.92" fill="none" stroke="#80d080" stroke-width="0.45"/><path d="M408.71 156.63 A5.5 5.5 0 0 0 401.49 149.54" fill="none" stroke="#80d080" stroke-width="0.45"/><path d="M409.66 158.02 A5.5 5.5 0 0 0 405.7 148.7" fill="none" stroke="#80d080" stroke-width="0.45"/><path d="M410 159.66 A5.5 5.5 0 0 0 409.91 149.54" fill="none" stroke="#80d080" stroke-width="0.45"/><path d="M409.69 161.31 A5.5 5.5 0 0 0 413.48 151.92" fill="none" stroke="#80d080" stroke-width="0.45"/><path d="M408.77 162.71 A5.5 5.5 0 0 0 415.86 155.49" fill="none" stroke="#80d080" stroke-width="0.45"/><circle cx="405.7" cy="159.7" r="4.3" fill="none" stroke="#999" stroke-width="0.8"/><circle cx="454" cy="159.7" r="11" fill="none" stroke="#4cc04c" stroke-width="0.5850000000000001"/><path d="M455.68 163.66 A5.5 5.5 0 0 0 465 159.7" fill="none" stroke="#80d080" stroke-width="0.45"/><path d="M454.04 164 A5.5 5.5 0 0 0 464.16 163.91" fill="none" stroke="#80d080" stroke-width="0.45"/><path d="M452.39 163.69 A5.5 5.5 0 0 0 461.78 167.48" fill="none" stroke="#80d080" stroke-width="0.45"/><path d="M450.99 162.77 A5.5 5.5 0 0 0 458.21 169.86" fill="none" stroke="#80d080" stroke-width="0.45"/><path d="M450.04 161.38 A5.5 5.5 0 0 0 454 170.7" fill="none" stroke="#80d080" stroke-width="0.45"/><path d="M449.7 159.74 A5.5 5.5 0 0 0 449.79 169.86" fill="none" stroke="#80d080" stroke-width="0.45"/><path d="M450.01 158.09 A5.5 5.5 0 0 0 446.22 167.48" fill="none" stroke="#80d080" stroke-width="0.45"/><path d="M450.93 156.69 A5.5 5.5 0 0 0 443.84 163.91" fill="none" stroke="#80d080" stroke-width="0.45"/><path d="M452.32 155.74 A5.5 5.5 0 0 0 443 159.7" fill="none" stroke="#80d080" stroke-width="0.45"/><path d="M453.96 155.4 A5.5 5.5 0 0 0 443.84 155.49" fill="none" stroke="#80d080" stroke-width="0.45"/><path d="M455.61 155.71 A5.5 5.5 0 0 0 446.22 151.92" fill="none" stroke="#80d080" stroke-width="0.45"/><path d="M457.01 156.63 A5.5 5.5 0 0 0 449.79 149.54" fill="none" stroke="#80d080" stroke-width="0.45"/><path d="M457.96 158.02 A5.5 5.5 0 0 0 454 148.7" fill="none" stroke="#80d080" stroke-width="0.45"/><path d="M458.3 159.66 A5.5 5.5 0 0 0 458.21 149.54" fill="none" stroke="#80d080" stroke-width="0.45"/><path d="M457.99 161.31 A5.5 5.5 0 0 0 461.78 151.92" fill="none" stroke="#80d080" stroke-width="0.45"/><path d="M457.07 162.71 A5.5 5.5 0 0 0 464.16 155.49" fill="none" stroke="#80d080" stroke-width="0.45"/><circle cx="454" cy="159.7" r="4.3" fill="none" stroke="#999" stroke-width="0.8"/><line x1="370" y1="137.4" x2="479" y2="137.4" stroke="#222" stroke-width="1.1"/><line x1="370" y1="140.8" x2="479" y2="140.8" stroke="#222" stroke-width="1.1"/><rect x="367" y="137.4" width="3" height="3.4" fill="none" stroke="#3a62c8" stroke-width="0.9" rx="0"/><rect x="479" y="137.4" width="3.3" height="3.4" fill="none" stroke="#3a62c8" stroke-width="0.9" rx="0"/><line x1="370" y1="146" x2="479" y2="146" stroke="#222" stroke-width="1.1"/><line x1="370" y1="149.4" x2="479" y2="149.4" stroke="#222" stroke-width="1.1"/><rect x="367" y="146" width="3" height="3.4" fill="none" stroke="#3a62c8" stroke-width="0.9" rx="0"/><rect x="479" y="146" width="3.3" height="3.4" fill="none" stroke="#3a62c8" stroke-width="0.9" rx="0"/><rect x="362.4" y="136" width="4.6" height="14.5" fill="none" stroke="#4cc04c" stroke-width="0.9" rx="0"/><line x1="362.4" y1="136" x2="367" y2="136" stroke="#ff1010" stroke-width="1.3"/><line x1="362.4" y1="150.5" x2="367" y2="150.5" stroke="#ff1010" stroke-width="1.3"/><rect x="482" y="136" width="4.2" height="14.5" fill="none" stroke="#4cc04c" stroke-width="0.9" rx="0"/><line x1="482" y1="136" x2="486.2" y2="136" stroke="#ff1010" stroke-width="1.3"/><line x1="482" y1="150.5" x2="486.2" y2="150.5" stroke="#ff1010" stroke-width="1.3"/><rect x="363.7" y="123" width="2.3" height="13" fill="none" stroke="#d84aa8" stroke-width="0.8" rx="0"/><rect x="363.7" y="150.5" width="2.3" height="13" fill="none" stroke="#4cc04c" stroke-width="0.8" rx="0"/><rect x="482.7" y="123" width="2.3" height="13" fill="none" stroke="#4cc04c" stroke-width="0.8" rx="0"/><rect x="482.7" y="150.5" width="2.3" height="13" fill="none" stroke="#d84aa8" stroke-width="0.8" rx="0"/><rect x="361" y="122.2" width="1.8" height="9.7" fill="#222" stroke="#222" stroke-width="0.5" rx="0"/><rect x="361" y="154" width="1.8" height="11" fill="#222" stroke="#222" stroke-width="0.5" rx="0"/><rect x="485.8" y="122.2" width="1.8" height="9.7" fill="#222" stroke="#222" stroke-width="0.5" rx="0"/><rect x="485.8" y="154" width="1.8" height="11" fill="#222" stroke="#222" stroke-width="0.5" rx="0"/><rect x="393" y="136" width="4.5" height="15" fill="none" stroke="#222" stroke-width="1" rx="0"/><line x1="393" y1="136" x2="397.5" y2="136" stroke="#ff1010" stroke-width="1.2"/><line x1="393" y1="151" x2="397.5" y2="151" stroke="#ff1010" stroke-width="1.2"/><rect x="403.7" y="136" width="4.8" height="15" fill="none" stroke="#222" stroke-width="1" rx="0"/><line x1="403.7" y1="136" x2="408.5" y2="136" stroke="#ff1010" stroke-width="1.2"/><line x1="403.7" y1="151" x2="408.5" y2="151" stroke="#ff1010" stroke-width="1.2"/><rect x="441.3" y="136" width="4.9" height="15" fill="none" stroke="#222" stroke-width="1" rx="0"/><line x1="441.3" y1="136" x2="446.2" y2="136" stroke="#ff1010" stroke-width="1.2"/><line x1="441.3" y1="151" x2="446.2" y2="151" stroke="#ff1010" stroke-width="1.2"/><rect x="451" y="136" width="5" height="15" fill="none" stroke="#222" stroke-width="1" rx="0"/><line x1="451" y1="136" x2="456" y2="136" stroke="#ff1010" stroke-width="1.2"/><line x1="451" y1="151" x2="456" y2="151" stroke="#ff1010" stroke-width="1.2"/><rect x="394.2" y="122" width="2.2" height="14" fill="none" stroke="#222" stroke-width="0.9" rx="0"/><rect x="442.5" y="122" width="2.2" height="14" fill="none" stroke="#222" stroke-width="0.9" rx="0"/><rect x="404.8" y="151" width="2.2" height="13.5" fill="none" stroke="#222" stroke-width="0.9" rx="0"/><rect x="452.3" y="151" width="2.2" height="13.5" fill="none" stroke="#222" stroke-width="0.9" rx="0"/><polyline points="686.5,300.7 561.4,300.7 561.4,501.7 686.5,501.7" fill="none" stroke="#333" stroke-width="1.1"/><polyline points="695,352 589.2,352 589.2,447.8 700,447.8" fill="none" stroke="#333" stroke-width="1.1"/><line x1="587.5" y1="400.5" x2="589.2" y2="400.5" stroke="#333" stroke-width="0.8"/><text x="539" y="403.9" font-family="Liberation Serif" font-size="15" font-weight="normal" fill="#111" stroke="#111" stroke-width="0.3" textLength="23.5" lengthAdjust="spacingAndGlyphs">521</text><text x="566.6" y="421.2" font-family="Liberation Serif" font-size="15" font-weight="normal" fill="#111" stroke="#111" stroke-width="0.3" textLength="22" lengthAdjust="spacingAndGlyphs">250</text><text x="840.3" y="409" font-family="Liberation Serif" font-size="15" font-weight="normal" fill="#111" stroke="#111" stroke-width="0.3" textLength="21.3" lengthAdjust="spacingAndGlyphs">100</text><path d="M840.6 351.4 A48.6 48.6 0 0 1 840.6 448.6 M695.6 448.6 A48.6 48.6 0 0 1 695.6 351.4" fill="none" stroke="#7a8a8a" stroke-width="1"/><path d="M840.6 353.8 A46.2 46.2 0 0 1 840.6 446.2 M695.6 446.2 A46.2 46.2 0 0 1 695.6 353.8" fill="none" stroke="#ff5050" stroke-width="0.75"/><path d="M840.6 356.6 A43.4 43.4 0 0 1 840.6 443.4 M695.6 443.4 A43.4 43.4 0 0 1 695.6 356.6" fill="none" stroke="#444" stroke-width="1"/><path d="M695.6 351.4 H840.6 M695.6 448.6 H840.6" fill="none" stroke="#3a3a3a" stroke-width="1.4"/><path d="M695.6 353.8 H840.6 M695.6 446.2 H840.6" fill="none" stroke="#f03030" stroke-width="0.9"/><path d="M695.6 356.6 H840.6 M695.6 443.4 H840.6" fill="none" stroke="#333" stroke-width="1.2"/><line x1="703" y1="354.2" x2="709" y2="354.2" stroke="#e02020" stroke-width="1.1"/><line x1="706" y1="351.2" x2="706" y2="357.2" stroke="#e02020" stroke-width="1.1"/><line x1="826.2" y1="354.2" x2="832.2" y2="354.2" stroke="#e02020" stroke-width="1.1"/><line x1="829.2" y1="351.2" x2="829.2" y2="357.2" stroke="#e02020" stroke-width="1.1"/><line x1="703.6" y1="445.8" x2="709.6" y2="445.8" stroke="#e02020" stroke-width="1.1"/><line x1="706.6" y1="442.8" x2="706.6" y2="448.8" stroke="#e02020" stroke-width="1.1"/><line x1="826.2" y1="445.8" x2="832.2" y2="445.8" stroke="#e02020" stroke-width="1.1"/><line x1="829.2" y1="442.8" x2="829.2" y2="448.8" stroke="#e02020" stroke-width="1.1"/><line x1="706" y1="354.2" x2="740.9" y2="390" stroke="#222" stroke-width="0.9"/><line x1="829.2" y1="354.2" x2="794.9" y2="390" stroke="#222" stroke-width="0.9"/><line x1="706.6" y1="445.8" x2="740.9" y2="409.7" stroke="#222" stroke-width="0.9"/><line x1="829.2" y1="445.8" x2="794.9" y2="409.7" stroke="#222" stroke-width="0.9"/><path d="M737 380.7 H799 A19.3 19.3 0 0 1 799 419.3 H737 A19.3 19.3 0 0 1 737 380.7 Z" fill="none" stroke="#444" stroke-width="0.9"/><polyline points="737,380.9 837.6,380.9 837.6,419.3 737,419.3" fill="none" stroke="#333" stroke-width="1.1"/><rect x="733.3" y="384" width="69.5" height="31.2" fill="none" stroke="#222" stroke-width="1.3" rx="0"/><circle cx="740.9" cy="390" r="2.8" fill="none" stroke="#444" stroke-width="0.8"/><circle cx="740.9" cy="390" r="0.7" fill="#222"/><circle cx="794.9" cy="390" r="2.8" fill="none" stroke="#444" stroke-width="0.8"/><circle cx="794.9" cy="390" r="0.7" fill="#222"/><circle cx="740.9" cy="409.7" r="2.8" fill="none" stroke="#444" stroke-width="0.8"/><circle cx="740.9" cy="409.7" r="0.7" fill="#222"/><circle cx="794.9" cy="409.7" r="2.8" fill="none" stroke="#444" stroke-width="0.8"/><circle cx="794.9" cy="409.7" r="0.7" fill="#222"/><g opacity="1"><circle cx="695" cy="320" r="20.7" fill="none" stroke="#d860b8" stroke-width="0.45"/><path d="M695 299.3 L702.47 300.78 L705.34 302.26 L707.38 303.74 L708.98 305.21 L710.28 306.69 L711.36 308.17 L712.26 309.65 L713.01 311.13 L713.63 312.61 L714.15 314.09 L714.56 315.56 L714.86 317.04 L715.07 318.52 L715.18 320 L715.19 321.48 L715.08 322.96 L714.87 324.44 L714.53 325.91 L714.07 327.39 L713.46 328.87 L712.7 330.35 L711.77 331.83 L710.64 333.31 L709.26 334.79 L707.58 336.26 L705.45 337.74 L702.51 339.22 L695 340.7" fill="none" stroke="#d860b8" stroke-width="0.45"/><path d="M695 299.3 L701.84 300.78 L704.39 302.26 L706.16 303.74 L707.52 305.21 L708.61 306.69 L709.53 308.17 L710.31 309.65 L710.99 311.13 L711.6 312.61 L712.14 314.09 L712.62 315.56 L713.04 317.04 L713.39 318.52 L713.65 320 L713.82 321.48 L713.88 322.96 L713.81 324.44 L713.6 325.91 L713.24 327.39 L712.71 328.87 L712 330.35 L711.08 331.83 L709.96 333.31 L708.59 334.79 L706.91 336.26 L704.82 337.74 L702 339.22 L695 340.7" fill="none" stroke="#d860b8" stroke-width="0.45"/><path d="M695 299.3 L700.84 300.78 L702.89 302.26 L704.24 303.74 L705.23 305.21 L706.01 306.69 L706.67 308.17 L707.27 309.65 L707.85 311.13 L708.42 312.61 L709 314.09 L709.58 315.56 L710.15 317.04 L710.7 318.52 L711.18 320 L711.59 321.48 L711.88 322.96 L712.03 324.44 L712.02 325.91 L711.81 327.39 L711.39 328.87 L710.76 330.35 L709.89 331.83 L708.79 333.31 L707.43 334.79 L705.79 336.26 L703.79 337.74 L701.17 339.22 L695 340.7" fill="none" stroke="#d860b8" stroke-width="0.45"/><path d="M695 299.3 L699.53 300.78 L700.94 302.26 L701.76 303.74 L702.3 305.21 L702.7 306.69 L703.06 308.17 L703.44 309.65 L703.87 311.13 L704.39 312.61 L705 314.09 L705.68 315.56 L706.42 317.04 L707.17 318.52 L707.91 320 L708.58 321.48 L709.13 322.96 L709.53 324.44 L709.74 325.91 L709.72 327.39 L709.45 328.87 L708.92 330.35 L708.12 331.83 L707.07 333.31 L705.76 334.79 L704.2 336.26 L702.35 337.74 L700.05 339.22 L695 340.7" fill="none" stroke="#d860b8" stroke-width="0.45"/><path d="M695 299.3 L697.99 300.78 L698.69 302.26 L698.94 303.74 L698.99 305.21 L698.98 306.69 L699.01 308.17 L699.14 309.65 L699.41 311.13 L699.85 312.61 L700.46 314.09 L701.21 315.56 L702.09 317.04 L703.03 318.52 L703.98 320 L704.89 321.48 L705.69 322.96 L706.33 324.44 L706.75 325.91 L706.92 327.39 L706.82 328.87 L706.42 330.35 L705.73 331.83 L704.78 333.31 L703.58 334.79 L702.18 336.26 L700.56 337.74 L698.68 339.22 L695 340.7" fill="none" stroke="#d860b8" stroke-width="0.45"/><path d="M695 299.3 L696.3 300.78 L696.27 302.26 L695.95 303.74 L695.53 305.21 L695.13 306.69 L694.84 308.17 L694.73 309.65 L694.83 311.13 L695.16 312.61 L695.73 314.09 L696.5 315.56 L697.45 317.04 L698.5 318.52 L699.61 320 L700.69 321.48 L701.67 322.96 L702.49 324.44 L703.1 325.91 L703.44 327.39 L703.49 328.87 L703.25 330.35 L702.72 331.83 L701.92 333.31 L700.92 334.79 L699.75 336.26 L698.47 337.74 L697.12 339.22 L695 340.7" fill="none" stroke="#d860b8" stroke-width="0.45"/><path d="M695 299.3 L694.57 300.78 L693.84 302.26 L693 303.74 L692.17 305.21 L691.43 306.69 L690.86 308.17 L690.52 309.65 L690.44 311.13 L690.64 312.61 L691.12 314.09 L691.85 315.56 L692.78 317.04 L693.85 318.52 L695 320 L696.15 321.48 L697.22 322.96 L698.15 324.44 L698.88 325.91 L699.36 327.39 L699.56 328.87 L699.48 330.35 L699.14 331.83 L698.57 333.31 L697.83 334.79 L697 336.26 L696.16 337.74 L695.43 339.22 L695 340.7" fill="none" stroke="#d860b8" stroke-width="0.45"/><path d="M695 299.3 L692.88 300.78 L691.53 302.26 L690.25 303.74 L689.08 305.21 L688.08 306.69 L687.28 308.17 L686.75 309.65 L686.51 311.13 L686.56 312.61 L686.9 314.09 L687.51 315.56 L688.33 317.04 L689.31 318.52 L690.39 320 L691.5 321.48 L692.55 322.96 L693.5 324.44 L694.27 325.91 L694.84 327.39 L695.17 328.87 L695.27 330.35 L695.16 331.83 L694.87 333.31 L694.47 334.79 L694.05 336.26 L693.73 337.74 L693.7 339.22 L695 340.7" fill="none" stroke="#d860b8" stroke-width="0.45"/><path d="M695 299.3 L691.32 300.78 L689.44 302.26 L687.82 303.74 L686.42 305.21 L685.22 306.69 L684.27 308.17 L683.58 309.65 L683.18 311.13 L683.08 312.61 L683.25 314.09 L683.67 315.56 L684.31 317.04 L685.11 318.52 L686.02 320 L686.97 321.48 L687.91 322.96 L688.79 324.44 L689.54 325.91 L690.15 327.39 L690.59 328.87 L690.86 330.35 L690.99 331.83 L691.02 333.31 L691.01 334.79 L691.06 336.26 L691.31 337.74 L692.01 339.22 L695 340.7" fill="none" stroke="#d860b8" stroke-width="0.45"/><path d="M695 299.3 L689.95 300.78 L687.65 302.26 L685.8 303.74 L684.24 305.21 L682.93 306.69 L681.88 308.17 L681.08 309.65 L680.55 311.13 L680.28 312.61 L680.26 314.09 L680.47 315.56 L680.87 317.04 L681.42 318.52 L682.09 320 L682.83 321.48 L683.58 322.96 L684.32 324.44 L685 325.91 L685.61 327.39 L686.13 328.87 L686.56 330.35 L686.94 331.83 L687.3 333.31 L687.7 334.79 L688.24 336.26 L689.06 337.74 L690.47 339.22 L695 340.7" fill="none" stroke="#d860b8" stroke-width="0.45"/><path d="M695 299.3 L688.83 300.78 L686.21 302.26 L684.21 303.74 L682.57 305.21 L681.21 306.69 L680.11 308.17 L679.24 309.65 L678.61 311.13 L678.19 312.61 L677.98 314.09 L677.97 315.56 L678.12 317.04 L678.41 318.52 L678.82 320 L679.3 321.48 L679.85 322.96 L680.42 324.44 L681 325.91 L681.58 327.39 L682.15 328.87 L682.73 330.35 L683.33 331.83 L683.99 333.31 L684.77 334.79 L685.76 336.26 L687.11 337.74 L689.16 339.22 L695 340.7" fill="none" stroke="#d860b8" stroke-width="0.45"/><path d="M695 299.3 L688 300.78 L685.18 302.26 L683.09 303.74 L681.41 305.21 L680.04 306.69 L678.92 308.17 L678 309.65 L677.29 311.13 L676.76 312.61 L676.4 314.09 L676.19 315.56 L676.12 317.04 L676.18 318.52 L676.35 320 L676.61 321.48 L676.96 322.96 L677.38 324.44 L677.86 325.91 L678.4 327.39 L679.01 328.87 L679.69 330.35 L680.47 331.83 L681.39 333.31 L682.48 334.79 L683.84 336.26 L685.61 337.74 L688.16 339.22 L695 340.7" fill="none" stroke="#d860b8" stroke-width="0.45"/><path d="M695 299.3 L687.49 300.78 L684.55 302.26 L682.42 303.74 L680.74 305.21 L679.36 306.69 L678.23 308.17 L677.3 309.65 L676.54 311.13 L675.93 312.61 L675.47 314.09 L675.13 315.56 L674.92 317.04 L674.81 318.52 L674.82 320 L674.93 321.48 L675.14 322.96 L675.44 324.44 L675.85 325.91 L676.37 327.39 L676.99 328.87 L677.74 330.35 L678.64 331.83 L679.72 333.31 L681.02 334.79 L682.62 336.26 L684.66 337.74 L687.53 339.22 L695 340.7" fill="none" stroke="#d860b8" stroke-width="0.45"/></g><g opacity="1"><circle cx="695" cy="480" r="20.7" fill="none" stroke="#d860b8" stroke-width="0.45"/><path d="M695 459.3 L702.47 460.78 L705.34 462.26 L707.38 463.74 L708.98 465.21 L710.28 466.69 L711.36 468.17 L712.26 469.65 L713.01 471.13 L713.63 472.61 L714.15 474.09 L714.56 475.56 L714.86 477.04 L715.07 478.52 L715.18 480 L715.19 481.48 L715.08 482.96 L714.87 484.44 L714.53 485.91 L714.07 487.39 L713.46 488.87 L712.7 490.35 L711.77 491.83 L710.64 493.31 L709.26 494.79 L707.58 496.26 L705.45 497.74 L702.51 499.22 L695 500.7" fill="none" stroke="#d860b8" stroke-width="0.45"/><path d="M695 459.3 L701.84 460.78 L704.39 462.26 L706.16 463.74 L707.52 465.21 L708.61 466.69 L709.53 468.17 L710.31 469.65 L710.99 471.13 L711.6 472.61 L712.14 474.09 L712.62 475.56 L713.04 477.04 L713.39 478.52 L713.65 480 L713.82 481.48 L713.88 482.96 L713.81 484.44 L713.6 485.91 L713.24 487.39 L712.71 488.87 L712 490.35 L711.08 491.83 L709.96 493.31 L708.59 494.79 L706.91 496.26 L704.82 497.74 L702 499.22 L695 500.7" fill="none" stroke="#d860b8" stroke-width="0.45"/><path d="M695 459.3 L700.84 460.78 L702.89 462.26 L704.24 463.74 L705.23 465.21 L706.01 466.69 L706.67 468.17 L707.27 469.65 L707.85 471.13 L708.42 472.61 L709 474.09 L709.58 475.56 L710.15 477.04 L710.7 478.52 L711.18 480 L711.59 481.48 L711.88 482.96 L712.03 484.44 L712.02 485.91 L711.81 487.39 L711.39 488.87 L710.76 490.35 L709.89 491.83 L708.79 493.31 L707.43 494.79 L705.79 496.26 L703.79 497.74 L701.17 499.22 L695 500.7" fill="none" stroke="#d860b8" stroke-width="0.45"/><path d="M695 459.3 L699.53 460.78 L700.94 462.26 L701.76 463.74 L702.3 465.21 L702.7 466.69 L703.06 468.17 L703.44 469.65 L703.87 471.13 L704.39 472.61 L705 474.09 L705.68 475.56 L706.42 477.04 L707.17 478.52 L707.91 480 L708.58 481.48 L709.13 482.96 L709.53 484.44 L709.74 485.91 L709.72 487.39 L709.45 488.87 L708.92 490.35 L708.12 491.83 L707.07 493.31 L705.76 494.79 L704.2 496.26 L702.35 497.74 L700.05 499.22 L695 500.7" fill="none" stroke="#d860b8" stroke-width="0.45"/><path d="M695 459.3 L697.99 460.78 L698.69 462.26 L698.94 463.74 L698.99 465.21 L698.98 466.69 L699.01 468.17 L699.14 469.65 L699.41 471.13 L699.85 472.61 L700.46 474.09 L701.21 475.56 L702.09 477.04 L703.03 478.52 L703.98 480 L704.89 481.48 L705.69 482.96 L706.33 484.44 L706.75 485.91 L706.92 487.39 L706.82 488.87 L706.42 490.35 L705.73 491.83 L704.78 493.31 L703.58 494.79 L702.18 496.26 L700.56 497.74 L698.68 499.22 L695 500.7" fill="none" stroke="#d860b8" stroke-width="0.45"/><path d="M695 459.3 L696.3 460.78 L696.27 462.26 L695.95 463.74 L695.53 465.21 L695.13 466.69 L694.84 468.17 L694.73 469.65 L694.83 471.13 L695.16 472.61 L695.73 474.09 L696.5 475.56 L697.45 477.04 L698.5 478.52 L699.61 480 L700.69 481.48 L701.67 482.96 L702.49 484.44 L703.1 485.91 L703.44 487.39 L703.49 488.87 L703.25 490.35 L702.72 491.83 L701.92 493.31 L700.92 494.79 L699.75 496.26 L698.47 497.74 L697.12 499.22 L695 500.7" fill="none" stroke="#d860b8" stroke-width="0.45"/><path d="M695 459.3 L694.57 460.78 L693.84 462.26 L693 463.74 L692.17 465.21 L691.43 466.69 L690.86 468.17 L690.52 469.65 L690.44 471.13 L690.64 472.61 L691.12 474.09 L691.85 475.56 L692.78 477.04 L693.85 478.52 L695 480 L696.15 481.48 L697.22 482.96 L698.15 484.44 L698.88 485.91 L699.36 487.39 L699.56 488.87 L699.48 490.35 L699.14 491.83 L698.57 493.31 L697.83 494.79 L697 496.26 L696.16 497.74 L695.43 499.22 L695 500.7" fill="none" stroke="#d860b8" stroke-width="0.45"/><path d="M695 459.3 L692.88 460.78 L691.53 462.26 L690.25 463.74 L689.08 465.21 L688.08 466.69 L687.28 468.17 L686.75 469.65 L686.51 471.13 L686.56 472.61 L686.9 474.09 L687.51 475.56 L688.33 477.04 L689.31 478.52 L690.39 480 L691.5 481.48 L692.55 482.96 L693.5 484.44 L694.27 485.91 L694.84 487.39 L695.17 488.87 L695.27 490.35 L695.16 491.83 L694.87 493.31 L694.47 494.79 L694.05 496.26 L693.73 497.74 L693.7 499.22 L695 500.7" fill="none" stroke="#d860b8" stroke-width="0.45"/><path d="M695 459.3 L691.32 460.78 L689.44 462.26 L687.82 463.74 L686.42 465.21 L685.22 466.69 L684.27 468.17 L683.58 469.65 L683.18 471.13 L683.08 472.61 L683.25 474.09 L683.67 475.56 L684.31 477.04 L685.11 478.52 L686.02 480 L686.97 481.48 L687.91 482.96 L688.79 484.44 L689.54 485.91 L690.15 487.39 L690.59 488.87 L690.86 490.35 L690.99 491.83 L691.02 493.31 L691.01 494.79 L691.06 496.26 L691.31 497.74 L692.01 499.22 L695 500.7" fill="none" stroke="#d860b8" stroke-width="0.45"/><path d="M695 459.3 L689.95 460.78 L687.65 462.26 L685.8 463.74 L684.24 465.21 L682.93 466.69 L681.88 468.17 L681.08 469.65 L680.55 471.13 L680.28 472.61 L680.26 474.09 L680.47 475.56 L680.87 477.04 L681.42 478.52 L682.09 480 L682.83 481.48 L683.58 482.96 L684.32 484.44 L685 485.91 L685.61 487.39 L686.13 488.87 L686.56 490.35 L686.94 491.83 L687.3 493.31 L687.7 494.79 L688.24 496.26 L689.06 497.74 L690.47 499.22 L695 500.7" fill="none" stroke="#d860b8" stroke-width="0.45"/><path d="M695 459.3 L688.83 460.78 L686.21 462.26 L684.21 463.74 L682.57 465.21 L681.21 466.69 L680.11 468.17 L679.24 469.65 L678.61 471.13 L678.19 472.61 L677.98 474.09 L677.97 475.56 L678.12 477.04 L678.41 478.52 L678.82 480 L679.3 481.48 L679.85 482.96 L680.42 484.44 L681 485.91 L681.58 487.39 L682.15 488.87 L682.73 490.35 L683.33 491.83 L683.99 493.31 L684.77 494.79 L685.76 496.26 L687.11 497.74 L689.16 499.22 L695 500.7" fill="none" stroke="#d860b8" stroke-width="0.45"/><path d="M695 459.3 L688 460.78 L685.18 462.26 L683.09 463.74 L681.41 465.21 L680.04 466.69 L678.92 468.17 L678 469.65 L677.29 471.13 L676.76 472.61 L676.4 474.09 L676.19 475.56 L676.12 477.04 L676.18 478.52 L676.35 480 L676.61 481.48 L676.96 482.96 L677.38 484.44 L677.86 485.91 L678.4 487.39 L679.01 488.87 L679.69 490.35 L680.47 491.83 L681.39 493.31 L682.48 494.79 L683.84 496.26 L685.61 497.74 L688.16 499.22 L695 500.7" fill="none" stroke="#d860b8" stroke-width="0.45"/><path d="M695 459.3 L687.49 460.78 L684.55 462.26 L682.42 463.74 L680.74 465.21 L679.36 466.69 L678.23 468.17 L677.3 469.65 L676.54 471.13 L675.93 472.61 L675.47 474.09 L675.13 475.56 L674.92 477.04 L674.81 478.52 L674.82 480 L674.93 481.48 L675.14 482.96 L675.44 484.44 L675.85 485.91 L676.37 487.39 L676.99 488.87 L677.74 490.35 L678.64 491.83 L679.72 493.31 L681.02 494.79 L682.62 496.26 L684.66 497.74 L687.53 499.22 L695 500.7" fill="none" stroke="#d860b8" stroke-width="0.45"/></g><g opacity="1"><circle cx="717" cy="320" r="20.7" fill="none" stroke="#d860b8" stroke-width="0.45"/><path d="M717 299.3 L724.47 300.78 L727.34 302.26 L729.38 303.74 L730.98 305.21 L732.28 306.69 L733.36 308.17 L734.26 309.65 L735.01 311.13 L735.63 312.61 L736.15 314.09 L736.56 315.56 L736.86 317.04 L737.07 318.52 L737.18 320 L737.19 321.48 L737.08 322.96 L736.87 324.44 L736.53 325.91 L736.07 327.39 L735.46 328.87 L734.7 330.35 L733.77 331.83 L732.64 333.31 L731.26 334.79 L729.58 336.26 L727.45 337.74 L724.51 339.22 L717 340.7" fill="none" stroke="#d860b8" stroke-width="0.45"/><path d="M717 299.3 L723.84 300.78 L726.39 302.26 L728.16 303.74 L729.52 305.21 L730.61 306.69 L731.53 308.17 L732.31 309.65 L732.99 311.13 L733.6 312.61 L734.14 314.09 L734.62 315.56 L735.04 317.04 L735.39 318.52 L735.65 320 L735.82 321.48 L735.88 322.96 L735.81 324.44 L735.6 325.91 L735.24 327.39 L734.71 328.87 L734 330.35 L733.08 331.83 L731.96 333.31 L730.59 334.79 L728.91 336.26 L726.82 337.74 L724 339.22 L717 340.7" fill="none" stroke="#d860b8" stroke-width="0.45"/><path d="M717 299.3 L722.84 300.78 L724.89 302.26 L726.24 303.74 L727.23 305.21 L728.01 306.69 L728.67 308.17 L729.27 309.65 L729.85 311.13 L730.42 312.61 L731 314.09 L731.58 315.56 L732.15 317.04 L732.7 318.52 L733.18 320 L733.59 321.48 L733.88 322.96 L734.03 324.44 L734.02 325.91 L733.81 327.39 L733.39 328.87 L732.76 330.35 L731.89 331.83 L730.79 333.31 L729.43 334.79 L727.79 336.26 L725.79 337.74 L723.17 339.22 L717 340.7" fill="none" stroke="#d860b8" stroke-width="0.45"/><path d="M717 299.3 L721.53 300.78 L722.94 302.26 L723.76 303.74 L724.3 305.21 L724.7 306.69 L725.06 308.17 L725.44 309.65 L725.87 311.13 L726.39 312.61 L727 314.09 L727.68 315.56 L728.42 317.04 L729.17 318.52 L729.91 320 L730.58 321.48 L731.13 322.96 L731.53 324.44 L731.74 325.91 L731.72 327.39 L731.45 328.87 L730.92 330.35 L730.12 331.83 L729.07 333.31 L727.76 334.79 L726.2 336.26 L724.35 337.74 L722.05 339.22 L717 340.7" fill="none" stroke="#d860b8" stroke-width="0.45"/><path d="M717 299.3 L719.99 300.78 L720.69 302.26 L720.94 303.74 L720.99 305.21 L720.98 306.69 L721.01 308.17 L721.14 309.65 L721.41 311.13 L721.85 312.61 L722.46 314.09 L723.21 315.56 L724.09 317.04 L725.03 318.52 L725.98 320 L726.89 321.48 L727.69 322.96 L728.33 324.44 L728.75 325.91 L728.92 327.39 L728.82 328.87 L728.42 330.35 L727.73 331.83 L726.78 333.31 L725.58 334.79 L724.18 336.26 L722.56 337.74 L720.68 339.22 L717 340.7" fill="none" stroke="#d860b8" stroke-width="0.45"/><path d="M717 299.3 L718.3 300.78 L718.27 302.26 L717.95 303.74 L717.53 305.21 L717.13 306.69 L716.84 308.17 L716.73 309.65 L716.83 311.13 L717.16 312.61 L717.73 314.09 L718.5 315.56 L719.45 317.04 L720.5 318.52 L721.61 320 L722.69 321.48 L723.67 322.96 L724.49 324.44 L725.1 325.91 L725.44 327.39 L725.49 328.87 L725.25 330.35 L724.72 331.83 L723.92 333.31 L722.92 334.79 L721.75 336.26 L720.47 337.74 L719.12 339.22 L717 340.7" fill="none" stroke="#d860b8" stroke-width="0.45"/><path d="M717 299.3 L716.57 300.78 L715.84 302.26 L715 303.74 L714.17 305.21 L713.43 306.69 L712.86 308.17 L712.52 309.65 L712.44 311.13 L712.64 312.61 L713.12 314.09 L713.85 315.56 L714.78 317.04 L715.85 318.52 L717 320 L718.15 321.48 L719.22 322.96 L720.15 324.44 L720.88 325.91 L721.36 327.39 L721.56 328.87 L721.48 330.35 L721.14 331.83 L720.57 333.31 L719.83 334.79 L719 336.26 L718.16 337.74 L717.43 339.22 L717 340.7" fill="none" stroke="#d860b8" stroke-width="0.45"/><path d="M717 299.3 L714.88 300.78 L713.53 302.26 L712.25 303.74 L711.08 305.21 L710.08 306.69 L709.28 308.17 L708.75 309.65 L708.51 311.13 L708.56 312.61 L708.9 314.09 L709.51 315.56 L710.33 317.04 L711.31 318.52 L712.39 320 L713.5 321.48 L714.55 322.96 L715.5 324.44 L716.27 325.91 L716.84 327.39 L717.17 328.87 L717.27 330.35 L717.16 331.83 L716.87 333.31 L716.47 334.79 L716.05 336.26 L715.73 337.74 L715.7 339.22 L717 340.7" fill="none" stroke="#d860b8" stroke-width="0.45"/><path d="M717 299.3 L713.32 300.78 L711.44 302.26 L709.82 303.74 L708.42 305.21 L707.22 306.69 L706.27 308.17 L705.58 309.65 L705.18 311.13 L705.08 312.61 L705.25 314.09 L705.67 315.56 L706.31 317.04 L707.11 318.52 L708.02 320 L708.97 321.48 L709.91 322.96 L710.79 324.44 L711.54 325.91 L712.15 327.39 L712.59 328.87 L712.86 330.35 L712.99 331.83 L713.02 333.31 L713.01 334.79 L713.06 336.26 L713.31 337.74 L714.01 339.22 L717 340.7" fill="none" stroke="#d860b8" stroke-width="0.45"/><path d="M717 299.3 L711.95 300.78 L709.65 302.26 L707.8 303.74 L706.24 305.21 L704.93 306.69 L703.88 308.17 L703.08 309.65 L702.55 311.13 L702.28 312.61 L702.26 314.09 L702.47 315.56 L702.87 317.04 L703.42 318.52 L704.09 320 L704.83 321.48 L705.58 322.96 L706.32 324.44 L707 325.91 L707.61 327.39 L708.13 328.87 L708.56 330.35 L708.94 331.83 L709.3 333.31 L709.7 334.79 L710.24 336.26 L711.06 337.74 L712.47 339.22 L717 340.7" fill="none" stroke="#d860b8" stroke-width="0.45"/><path d="M717 299.3 L710.83 300.78 L708.21 302.26 L706.21 303.74 L704.57 305.21 L703.21 306.69 L702.11 308.17 L701.24 309.65 L700.61 311.13 L700.19 312.61 L699.98 314.09 L699.97 315.56 L700.12 317.04 L700.41 318.52 L700.82 320 L701.3 321.48 L701.85 322.96 L702.42 324.44 L703 325.91 L703.58 327.39 L704.15 328.87 L704.73 330.35 L705.33 331.83 L705.99 333.31 L706.77 334.79 L707.76 336.26 L709.11 337.74 L711.16 339.22 L717 340.7" fill="none" stroke="#d860b8" stroke-width="0.45"/><path d="M717 299.3 L710 300.78 L707.18 302.26 L705.09 303.74 L703.41 305.21 L702.04 306.69 L700.92 308.17 L700 309.65 L699.29 311.13 L698.76 312.61 L698.4 314.09 L698.19 315.56 L698.12 317.04 L698.18 318.52 L698.35 320 L698.61 321.48 L698.96 322.96 L699.38 324.44 L699.86 325.91 L700.4 327.39 L701.01 328.87 L701.69 330.35 L702.47 331.83 L703.39 333.31 L704.48 334.79 L705.84 336.26 L707.61 337.74 L710.16 339.22 L717 340.7" fill="none" stroke="#d860b8" stroke-width="0.45"/><path d="M717 299.3 L709.49 300.78 L706.55 302.26 L704.42 303.74 L702.74 305.21 L701.36 306.69 L700.23 308.17 L699.3 309.65 L698.54 311.13 L697.93 312.61 L697.47 314.09 L697.13 315.56 L696.92 317.04 L696.81 318.52 L696.82 320 L696.93 321.48 L697.14 322.96 L697.44 324.44 L697.85 325.91 L698.37 327.39 L698.99 328.87 L699.74 330.35 L700.64 331.83 L701.72 333.31 L703.02 334.79 L704.62 336.26 L706.66 337.74 L709.53 339.22 L717 340.7" fill="none" stroke="#d860b8" stroke-width="0.45"/></g><g opacity="1"><circle cx="717" cy="480" r="20.7" fill="none" stroke="#d860b8" stroke-width="0.45"/><path d="M717 459.3 L724.47 460.78 L727.34 462.26 L729.38 463.74 L730.98 465.21 L732.28 466.69 L733.36 468.17 L734.26 469.65 L735.01 471.13 L735.63 472.61 L736.15 474.09 L736.56 475.56 L736.86 477.04 L737.07 478.52 L737.18 480 L737.19 481.48 L737.08 482.96 L736.87 484.44 L736.53 485.91 L736.07 487.39 L735.46 488.87 L734.7 490.35 L733.77 491.83 L732.64 493.31 L731.26 494.79 L729.58 496.26 L727.45 497.74 L724.51 499.22 L717 500.7" fill="none" stroke="#d860b8" stroke-width="0.45"/><path d="M717 459.3 L723.84 460.78 L726.39 462.26 L728.16 463.74 L729.52 465.21 L730.61 466.69 L731.53 468.17 L732.31 469.65 L732.99 471.13 L733.6 472.61 L734.14 474.09 L734.62 475.56 L735.04 477.04 L735.39 478.52 L735.65 480 L735.82 481.48 L735.88 482.96 L735.81 484.44 L735.6 485.91 L735.24 487.39 L734.71 488.87 L734 490.35 L733.08 491.83 L731.96 493.31 L730.59 494.79 L728.91 496.26 L726.82 497.74 L724 499.22 L717 500.7" fill="none" stroke="#d860b8" stroke-width="0.45"/><path d="M717 459.3 L722.84 460.78 L724.89 462.26 L726.24 463.74 L727.23 465.21 L728.01 466.69 L728.67 468.17 L729.27 469.65 L729.85 471.13 L730.42 472.61 L731 474.09 L731.58 475.56 L732.15 477.04 L732.7 478.52 L733.18 480 L733.59 481.48 L733.88 482.96 L734.03 484.44 L734.02 485.91 L733.81 487.39 L733.39 488.87 L732.76 490.35 L731.89 491.83 L730.79 493.31 L729.43 494.79 L727.79 496.26 L725.79 497.74 L723.17 499.22 L717 500.7" fill="none" stroke="#d860b8" stroke-width="0.45"/><path d="M717 459.3 L721.53 460.78 L722.94 462.26 L723.76 463.74 L724.3 465.21 L724.7 466.69 L725.06 468.17 L725.44 469.65 L725.87 471.13 L726.39 472.61 L727 474.09 L727.68 475.56 L728.42 477.04 L729.17 478.52 L729.91 480 L730.58 481.48 L731.13 482.96 L731.53 484.44 L731.74 485.91 L731.72 487.39 L731.45 488.87 L730.92 490.35 L730.12 491.83 L729.07 493.31 L727.76 494.79 L726.2 496.26 L724.35 497.74 L722.05 499.22 L717 500.7" fill="none" stroke="#d860b8" stroke-width="0.45"/><path d="M717 459.3 L719.99 460.78 L720.69 462.26 L720.94 463.74 L720.99 465.21 L720.98 466.69 L721.01 468.17 L721.14 469.65 L721.41 471.13 L721.85 472.61 L722.46 474.09 L723.21 475.56 L724.09 477.04 L725.03 478.52 L725.98 480 L726.89 481.48 L727.69 482.96 L728.33 484.44 L728.75 485.91 L728.92 487.39 L728.82 488.87 L728.42 490.35 L727.73 491.83 L726.78 493.31 L725.58 494.79 L724.18 496.26 L722.56 497.74 L720.68 499.22 L717 500.7" fill="none" stroke="#d860b8" stroke-width="0.45"/><path d="M717 459.3 L718.3 460.78 L718.27 462.26 L717.95 463.74 L717.53 465.21 L717.13 466.69 L716.84 468.17 L716.73 469.65 L716.83 471.13 L717.16 472.61 L717.73 474.09 L718.5 475.56 L719.45 477.04 L720.5 478.52 L721.61 480 L722.69 481.48 L723.67 482.96 L724.49 484.44 L725.1 485.91 L725.44 487.39 L725.49 488.87 L725.25 490.35 L724.72 491.83 L723.92 493.31 L722.92 494.79 L721.75 496.26 L720.47 497.74 L719.12 499.22 L717 500.7" fill="none" stroke="#d860b8" stroke-width="0.45"/><path d="M717 459.3 L716.57 460.78 L715.84 462.26 L715 463.74 L714.17 465.21 L713.43 466.69 L712.86 468.17 L712.52 469.65 L712.44 471.13 L712.64 472.61 L713.12 474.09 L713.85 475.56 L714.78 477.04 L715.85 478.52 L717 480 L718.15 481.48 L719.22 482.96 L720.15 484.44 L720.88 485.91 L721.36 487.39 L721.56 488.87 L721.48 490.35 L721.14 491.83 L720.57 493.31 L719.83 494.79 L719 496.26 L718.16 497.74 L717.43 499.22 L717 500.7" fill="none" stroke="#d860b8" stroke-width="0.45"/><path d="M717 459.3 L714.88 460.78 L713.53 462.26 L712.25 463.74 L711.08 465.21 L710.08 466.69 L709.28 468.17 L708.75 469.65 L708.51 471.13 L708.56 472.61 L708.9 474.09 L709.51 475.56 L710.33 477.04 L711.31 478.52 L712.39 480 L713.5 481.48 L714.55 482.96 L715.5 484.44 L716.27 485.91 L716.84 487.39 L717.17 488.87 L717.27 490.35 L717.16 491.83 L716.87 493.31 L716.47 494.79 L716.05 496.26 L715.73 497.74 L715.7 499.22 L717 500.7" fill="none" stroke="#d860b8" stroke-width="0.45"/><path d="M717 459.3 L713.32 460.78 L711.44 462.26 L709.82 463.74 L708.42 465.21 L707.22 466.69 L706.27 468.17 L705.58 469.65 L705.18 471.13 L705.08 472.61 L705.25 474.09 L705.67 475.56 L706.31 477.04 L707.11 478.52 L708.02 480 L708.97 481.48 L709.91 482.96 L710.79 484.44 L711.54 485.91 L712.15 487.39 L712.59 488.87 L712.86 490.35 L712.99 491.83 L713.02 493.31 L713.01 494.79 L713.06 496.26 L713.31 497.74 L714.01 499.22 L717 500.7" fill="none" stroke="#d860b8" stroke-width="0.45"/><path d="M717 459.3 L711.95 460.78 L709.65 462.26 L707.8 463.74 L706.24 465.21 L704.93 466.69 L703.88 468.17 L703.08 469.65 L702.55 471.13 L702.28 472.61 L702.26 474.09 L702.47 475.56 L702.87 477.04 L703.42 478.52 L704.09 480 L704.83 481.48 L705.58 482.96 L706.32 484.44 L707 485.91 L707.61 487.39 L708.13 488.87 L708.56 490.35 L708.94 491.83 L709.3 493.31 L709.7 494.79 L710.24 496.26 L711.06 497.74 L712.47 499.22 L717 500.7" fill="none" stroke="#d860b8" stroke-width="0.45"/><path d="M717 459.3 L710.83 460.78 L708.21 462.26 L706.21 463.74 L704.57 465.21 L703.21 466.69 L702.11 468.17 L701.24 469.65 L700.61 471.13 L700.19 472.61 L699.98 474.09 L699.97 475.56 L700.12 477.04 L700.41 478.52 L700.82 480 L701.3 481.48 L701.85 482.96 L702.42 484.44 L703 485.91 L703.58 487.39 L704.15 488.87 L704.73 490.35 L705.33 491.83 L705.99 493.31 L706.77 494.79 L707.76 496.26 L709.11 497.74 L711.16 499.22 L717 500.7" fill="none" stroke="#d860b8" stroke-width="0.45"/><path d="M717 459.3 L710 460.78 L707.18 462.26 L705.09 463.74 L703.41 465.21 L702.04 466.69 L700.92 468.17 L700 469.65 L699.29 471.13 L698.76 472.61 L698.4 474.09 L698.19 475.56 L698.12 477.04 L698.18 478.52 L698.35 480 L698.61 481.48 L698.96 482.96 L699.38 484.44 L699.86 485.91 L700.4 487.39 L701.01 488.87 L701.69 490.35 L702.47 491.83 L703.39 493.31 L704.48 494.79 L705.84 496.26 L707.61 497.74 L710.16 499.22 L717 500.7" fill="none" stroke="#d860b8" stroke-width="0.45"/><path d="M717 459.3 L709.49 460.78 L706.55 462.26 L704.42 463.74 L702.74 465.21 L701.36 466.69 L700.23 468.17 L699.3 469.65 L698.54 471.13 L697.93 472.61 L697.47 474.09 L697.13 475.56 L696.92 477.04 L696.81 478.52 L696.82 480 L696.93 481.48 L697.14 482.96 L697.44 484.44 L697.85 485.91 L698.37 487.39 L698.99 488.87 L699.74 490.35 L700.64 491.83 L701.72 493.31 L703.02 494.79 L704.62 496.26 L706.66 497.74 L709.53 499.22 L717 500.7" fill="none" stroke="#d860b8" stroke-width="0.45"/></g><g opacity="1"><circle cx="819" cy="320" r="20.7" fill="none" stroke="#d860b8" stroke-width="0.45"/><path d="M819 299.3 L826.47 300.78 L829.34 302.26 L831.38 303.74 L832.98 305.21 L834.28 306.69 L835.36 308.17 L836.26 309.65 L837.01 311.13 L837.63 312.61 L838.15 314.09 L838.56 315.56 L838.86 317.04 L839.07 318.52 L839.18 320 L839.19 321.48 L839.08 322.96 L838.87 324.44 L838.53 325.91 L838.07 327.39 L837.46 328.87 L836.7 330.35 L835.77 331.83 L834.64 333.31 L833.26 334.79 L831.58 336.26 L829.45 337.74 L826.51 339.22 L819 340.7" fill="none" stroke="#d860b8" stroke-width="0.45"/><path d="M819 299.3 L825.84 300.78 L828.39 302.26 L830.16 303.74 L831.52 305.21 L832.61 306.69 L833.53 308.17 L834.31 309.65 L834.99 311.13 L835.6 312.61 L836.14 314.09 L836.62 315.56 L837.04 317.04 L837.39 318.52 L837.65 320 L837.82 321.48 L837.88 322.96 L837.81 324.44 L837.6 325.91 L837.24 327.39 L836.71 328.87 L836 330.35 L835.08 331.83 L833.96 333.31 L832.59 334.79 L830.91 336.26 L828.82 337.74 L826 339.22 L819 340.7" fill="none" stroke="#d860b8" stroke-width="0.45"/><path d="M819 299.3 L824.84 300.78 L826.89 302.26 L828.24 303.74 L829.23 305.21 L830.01 306.69 L830.67 308.17 L831.27 309.65 L831.85 311.13 L832.42 312.61 L833 314.09 L833.58 315.56 L834.15 317.04 L834.7 318.52 L835.18 320 L835.59 321.48 L835.88 322.96 L836.03 324.44 L836.02 325.91 L835.81 327.39 L835.39 328.87 L834.76 330.35 L833.89 331.83 L832.79 333.31 L831.43 334.79 L829.79 336.26 L827.79 337.74 L825.17 339.22 L819 340.7" fill="none" stroke="#d860b8" stroke-width="0.45"/><path d="M819 299.3 L823.53 300.78 L824.94 302.26 L825.76 303.74 L826.3 305.21 L826.7 306.69 L827.06 308.17 L827.44 309.65 L827.87 311.13 L828.39 312.61 L829 314.09 L829.68 315.56 L830.42 317.04 L831.17 318.52 L831.91 320 L832.58 321.48 L833.13 322.96 L833.53 324.44 L833.74 325.91 L833.72 327.39 L833.45 328.87 L832.92 330.35 L832.12 331.83 L831.07 333.31 L829.76 334.79 L828.2 336.26 L826.35 337.74 L824.05 339.22 L819 340.7" fill="none" stroke="#d860b8" stroke-width="0.45"/><path d="M819 299.3 L821.99 300.78 L822.69 302.26 L822.94 303.74 L822.99 305.21 L822.98 306.69 L823.01 308.17 L823.14 309.65 L823.41 311.13 L823.85 312.61 L824.46 314.09 L825.21 315.56 L826.09 317.04 L827.03 318.52 L827.98 320 L828.89 321.48 L829.69 322.96 L830.33 324.44 L830.75 325.91 L830.92 327.39 L830.82 328.87 L830.42 330.35 L829.73 331.83 L828.78 333.31 L827.58 334.79 L826.18 336.26 L824.56 337.74 L822.68 339.22 L819 340.7" fill="none" stroke="#d860b8" stroke-width="0.45"/><path d="M819 299.3 L820.3 300.78 L820.27 302.26 L819.95 303.74 L819.53 305.21 L819.13 306.69 L818.84 308.17 L818.73 309.65 L818.83 311.13 L819.16 312.61 L819.73 314.09 L820.5 315.56 L821.45 317.04 L822.5 318.52 L823.61 320 L824.69 321.48 L825.67 322.96 L826.49 324.44 L827.1 325.91 L827.44 327.39 L827.49 328.87 L827.25 330.35 L826.72 331.83 L825.92 333.31 L824.92 334.79 L823.75 336.26 L822.47 337.74 L821.12 339.22 L819 340.7" fill="none" stroke="#d860b8" stroke-width="0.45"/><path d="M819 299.3 L818.57 300.78 L817.84 302.26 L817 303.74 L816.17 305.21 L815.43 306.69 L814.86 308.17 L814.52 309.65 L814.44 311.13 L814.64 312.61 L815.12 314.09 L815.85 315.56 L816.78 317.04 L817.85 318.52 L819 320 L820.15 321.48 L821.22 322.96 L822.15 324.44 L822.88 325.91 L823.36 327.39 L823.56 328.87 L823.48 330.35 L823.14 331.83 L822.57 333.31 L821.83 334.79 L821 336.26 L820.16 337.74 L819.43 339.22 L819 340.7" fill="none" stroke="#d860b8" stroke-width="0.45"/><path d="M819 299.3 L816.88 300.78 L815.53 302.26 L814.25 303.74 L813.08 305.21 L812.08 306.69 L811.28 308.17 L810.75 309.65 L810.51 311.13 L810.56 312.61 L810.9 314.09 L811.51 315.56 L812.33 317.04 L813.31 318.52 L814.39 320 L815.5 321.48 L816.55 322.96 L817.5 324.44 L818.27 325.91 L818.84 327.39 L819.17 328.87 L819.27 330.35 L819.16 331.83 L818.87 333.31 L818.47 334.79 L818.05 336.26 L817.73 337.74 L817.7 339.22 L819 340.7" fill="none" stroke="#d860b8" stroke-width="0.45"/><path d="M819 299.3 L815.32 300.78 L813.44 302.26 L811.82 303.74 L810.42 305.21 L809.22 306.69 L808.27 308.17 L807.58 309.65 L807.18 311.13 L807.08 312.61 L807.25 314.09 L807.67 315.56 L808.31 317.04 L809.11 318.52 L810.02 320 L810.97 321.48 L811.91 322.96 L812.79 324.44 L813.54 325.91 L814.15 327.39 L814.59 328.87 L814.86 330.35 L814.99 331.83 L815.02 333.31 L815.01 334.79 L815.06 336.26 L815.31 337.74 L816.01 339.22 L819 340.7" fill="none" stroke="#d860b8" stroke-width="0.45"/><path d="M819 299.3 L813.95 300.78 L811.65 302.26 L809.8 303.74 L808.24 305.21 L806.93 306.69 L805.88 308.17 L805.08 309.65 L804.55 311.13 L804.28 312.61 L804.26 314.09 L804.47 315.56 L804.87 317.04 L805.42 318.52 L806.09 320 L806.83 321.48 L807.58 322.96 L808.32 324.44 L809 325.91 L809.61 327.39 L810.13 328.87 L810.56 330.35 L810.94 331.83 L811.3 333.31 L811.7 334.79 L812.24 336.26 L813.06 337.74 L814.47 339.22 L819 340.7" fill="none" stroke="#d860b8" stroke-width="0.45"/><path d="M819 299.3 L812.83 300.78 L810.21 302.26 L808.21 303.74 L806.57 305.21 L805.21 306.69 L804.11 308.17 L803.24 309.65 L802.61 311.13 L802.19 312.61 L801.98 314.09 L801.97 315.56 L802.12 317.04 L802.41 318.52 L802.82 320 L803.3 321.48 L803.85 322.96 L804.42 324.44 L805 325.91 L805.58 327.39 L806.15 328.87 L806.73 330.35 L807.33 331.83 L807.99 333.31 L808.77 334.79 L809.76 336.26 L811.11 337.74 L813.16 339.22 L819 340.7" fill="none" stroke="#d860b8" stroke-width="0.45"/><path d="M819 299.3 L812 300.78 L809.18 302.26 L807.09 303.74 L805.41 305.21 L804.04 306.69 L802.92 308.17 L802 309.65 L801.29 311.13 L800.76 312.61 L800.4 314.09 L800.19 315.56 L800.12 317.04 L800.18 318.52 L800.35 320 L800.61 321.48 L800.96 322.96 L801.38 324.44 L801.86 325.91 L802.4 327.39 L803.01 328.87 L803.69 330.35 L804.47 331.83 L805.39 333.31 L806.48 334.79 L807.84 336.26 L809.61 337.74 L812.16 339.22 L819 340.7" fill="none" stroke="#d860b8" stroke-width="0.45"/><path d="M819 299.3 L811.49 300.78 L808.55 302.26 L806.42 303.74 L804.74 305.21 L803.36 306.69 L802.23 308.17 L801.3 309.65 L800.54 311.13 L799.93 312.61 L799.47 314.09 L799.13 315.56 L798.92 317.04 L798.81 318.52 L798.82 320 L798.93 321.48 L799.14 322.96 L799.44 324.44 L799.85 325.91 L800.37 327.39 L800.99 328.87 L801.74 330.35 L802.64 331.83 L803.72 333.31 L805.02 334.79 L806.62 336.26 L808.66 337.74 L811.53 339.22 L819 340.7" fill="none" stroke="#d860b8" stroke-width="0.45"/></g><g opacity="1"><circle cx="819" cy="480" r="20.7" fill="none" stroke="#d860b8" stroke-width="0.45"/><path d="M819 459.3 L826.47 460.78 L829.34 462.26 L831.38 463.74 L832.98 465.21 L834.28 466.69 L835.36 468.17 L836.26 469.65 L837.01 471.13 L837.63 472.61 L838.15 474.09 L838.56 475.56 L838.86 477.04 L839.07 478.52 L839.18 480 L839.19 481.48 L839.08 482.96 L838.87 484.44 L838.53 485.91 L838.07 487.39 L837.46 488.87 L836.7 490.35 L835.77 491.83 L834.64 493.31 L833.26 494.79 L831.58 496.26 L829.45 497.74 L826.51 499.22 L819 500.7" fill="none" stroke="#d860b8" stroke-width="0.45"/><path d="M819 459.3 L825.84 460.78 L828.39 462.26 L830.16 463.74 L831.52 465.21 L832.61 466.69 L833.53 468.17 L834.31 469.65 L834.99 471.13 L835.6 472.61 L836.14 474.09 L836.62 475.56 L837.04 477.04 L837.39 478.52 L837.65 480 L837.82 481.48 L837.88 482.96 L837.81 484.44 L837.6 485.91 L837.24 487.39 L836.71 488.87 L836 490.35 L835.08 491.83 L833.96 493.31 L832.59 494.79 L830.91 496.26 L828.82 497.74 L826 499.22 L819 500.7" fill="none" stroke="#d860b8" stroke-width="0.45"/><path d="M819 459.3 L824.84 460.78 L826.89 462.26 L828.24 463.74 L829.23 465.21 L830.01 466.69 L830.67 468.17 L831.27 469.65 L831.85 471.13 L832.42 472.61 L833 474.09 L833.58 475.56 L834.15 477.04 L834.7 478.52 L835.18 480 L835.59 481.48 L835.88 482.96 L836.03 484.44 L836.02 485.91 L835.81 487.39 L835.39 488.87 L834.76 490.35 L833.89 491.83 L832.79 493.31 L831.43 494.79 L829.79 496.26 L827.79 497.74 L825.17 499.22 L819 500.7" fill="none" stroke="#d860b8" stroke-width="0.45"/><path d="M819 459.3 L823.53 460.78 L824.94 462.26 L825.76 463.74 L826.3 465.21 L826.7 466.69 L827.06 468.17 L827.44 469.65 L827.87 471.13 L828.39 472.61 L829 474.09 L829.68 475.56 L830.42 477.04 L831.17 478.52 L831.91 480 L832.58 481.48 L833.13 482.96 L833.53 484.44 L833.74 485.91 L833.72 487.39 L833.45 488.87 L832.92 490.35 L832.12 491.83 L831.07 493.31 L829.76 494.79 L828.2 496.26 L826.35 497.74 L824.05 499.22 L819 500.7" fill="none" stroke="#d860b8" stroke-width="0.45"/><path d="M819 459.3 L821.99 460.78 L822.69 462.26 L822.94 463.74 L822.99 465.21 L822.98 466.69 L823.01 468.17 L823.14 469.65 L823.41 471.13 L823.85 472.61 L824.46 474.09 L825.21 475.56 L826.09 477.04 L827.03 478.52 L827.98 480 L828.89 481.48 L829.69 482.96 L830.33 484.44 L830.75 485.91 L830.92 487.39 L830.82 488.87 L830.42 490.35 L829.73 491.83 L828.78 493.31 L827.58 494.79 L826.18 496.26 L824.56 497.74 L822.68 499.22 L819 500.7" fill="none" stroke="#d860b8" stroke-width="0.45"/><path d="M819 459.3 L820.3 460.78 L820.27 462.26 L819.95 463.74 L819.53 465.21 L819.13 466.69 L818.84 468.17 L818.73 469.65 L818.83 471.13 L819.16 472.61 L819.73 474.09 L820.5 475.56 L821.45 477.04 L822.5 478.52 L823.61 480 L824.69 481.48 L825.67 482.96 L826.49 484.44 L827.1 485.91 L827.44 487.39 L827.49 488.87 L827.25 490.35 L826.72 491.83 L825.92 493.31 L824.92 494.79 L823.75 496.26 L822.47 497.74 L821.12 499.22 L819 500.7" fill="none" stroke="#d860b8" stroke-width="0.45"/><path d="M819 459.3 L818.57 460.78 L817.84 462.26 L817 463.74 L816.17 465.21 L815.43 466.69 L814.86 468.17 L814.52 469.65 L814.44 471.13 L814.64 472.61 L815.12 474.09 L815.85 475.56 L816.78 477.04 L817.85 478.52 L819 480 L820.15 481.48 L821.22 482.96 L822.15 484.44 L822.88 485.91 L823.36 487.39 L823.56 488.87 L823.48 490.35 L823.14 491.83 L822.57 493.31 L821.83 494.79 L821 496.26 L820.16 497.74 L819.43 499.22 L819 500.7" fill="none" stroke="#d860b8" stroke-width="0.45"/><path d="M819 459.3 L816.88 460.78 L815.53 462.26 L814.25 463.74 L813.08 465.21 L812.08 466.69 L811.28 468.17 L810.75 469.65 L810.51 471.13 L810.56 472.61 L810.9 474.09 L811.51 475.56 L812.33 477.04 L813.31 478.52 L814.39 480 L815.5 481.48 L816.55 482.96 L817.5 484.44 L818.27 485.91 L818.84 487.39 L819.17 488.87 L819.27 490.35 L819.16 491.83 L818.87 493.31 L818.47 494.79 L818.05 496.26 L817.73 497.74 L817.7 499.22 L819 500.7" fill="none" stroke="#d860b8" stroke-width="0.45"/><path d="M819 459.3 L815.32 460.78 L813.44 462.26 L811.82 463.74 L810.42 465.21 L809.22 466.69 L808.27 468.17 L807.58 469.65 L807.18 471.13 L807.08 472.61 L807.25 474.09 L807.67 475.56 L808.31 477.04 L809.11 478.52 L810.02 480 L810.97 481.48 L811.91 482.96 L812.79 484.44 L813.54 485.91 L814.15 487.39 L814.59 488.87 L814.86 490.35 L814.99 491.83 L815.02 493.31 L815.01 494.79 L815.06 496.26 L815.31 497.74 L816.01 499.22 L819 500.7" fill="none" stroke="#d860b8" stroke-width="0.45"/><path d="M819 459.3 L813.95 460.78 L811.65 462.26 L809.8 463.74 L808.24 465.21 L806.93 466.69 L805.88 468.17 L805.08 469.65 L804.55 471.13 L804.28 472.61 L804.26 474.09 L804.47 475.56 L804.87 477.04 L805.42 478.52 L806.09 480 L806.83 481.48 L807.58 482.96 L808.32 484.44 L809 485.91 L809.61 487.39 L810.13 488.87 L810.56 490.35 L810.94 491.83 L811.3 493.31 L811.7 494.79 L812.24 496.26 L813.06 497.74 L814.47 499.22 L819 500.7" fill="none" stroke="#d860b8" stroke-width="0.45"/><path d="M819 459.3 L812.83 460.78 L810.21 462.26 L808.21 463.74 L806.57 465.21 L805.21 466.69 L804.11 468.17 L803.24 469.65 L802.61 471.13 L802.19 472.61 L801.98 474.09 L801.97 475.56 L802.12 477.04 L802.41 478.52 L802.82 480 L803.3 481.48 L803.85 482.96 L804.42 484.44 L805 485.91 L805.58 487.39 L806.15 488.87 L806.73 490.35 L807.33 491.83 L807.99 493.31 L808.77 494.79 L809.76 496.26 L811.11 497.74 L813.16 499.22 L819 500.7" fill="none" stroke="#d860b8" stroke-width="0.45"/><path d="M819 459.3 L812 460.78 L809.18 462.26 L807.09 463.74 L805.41 465.21 L804.04 466.69 L802.92 468.17 L802 469.65 L801.29 471.13 L800.76 472.61 L800.4 474.09 L800.19 475.56 L800.12 477.04 L800.18 478.52 L800.35 480 L800.61 481.48 L800.96 482.96 L801.38 484.44 L801.86 485.91 L802.4 487.39 L803.01 488.87 L803.69 490.35 L804.47 491.83 L805.39 493.31 L806.48 494.79 L807.84 496.26 L809.61 497.74 L812.16 499.22 L819 500.7" fill="none" stroke="#d860b8" stroke-width="0.45"/><path d="M819 459.3 L811.49 460.78 L808.55 462.26 L806.42 463.74 L804.74 465.21 L803.36 466.69 L802.23 468.17 L801.3 469.65 L800.54 471.13 L799.93 472.61 L799.47 474.09 L799.13 475.56 L798.92 477.04 L798.81 478.52 L798.82 480 L798.93 481.48 L799.14 482.96 L799.44 484.44 L799.85 485.91 L800.37 487.39 L800.99 488.87 L801.74 490.35 L802.64 491.83 L803.72 493.31 L805.02 494.79 L806.62 496.26 L808.66 497.74 L811.53 499.22 L819 500.7" fill="none" stroke="#d860b8" stroke-width="0.45"/></g><g opacity="1"><circle cx="840.5" cy="320" r="20.7" fill="none" stroke="#d860b8" stroke-width="0.45"/><path d="M840.5 299.3 L847.97 300.78 L850.84 302.26 L852.88 303.74 L854.48 305.21 L855.78 306.69 L856.86 308.17 L857.76 309.65 L858.51 311.13 L859.13 312.61 L859.65 314.09 L860.06 315.56 L860.36 317.04 L860.57 318.52 L860.68 320 L860.69 321.48 L860.58 322.96 L860.37 324.44 L860.03 325.91 L859.57 327.39 L858.96 328.87 L858.2 330.35 L857.27 331.83 L856.14 333.31 L854.76 334.79 L853.08 336.26 L850.95 337.74 L848.01 339.22 L840.5 340.7" fill="none" stroke="#d860b8" stroke-width="0.45"/><path d="M840.5 299.3 L847.34 300.78 L849.89 302.26 L851.66 303.74 L853.02 305.21 L854.11 306.69 L855.03 308.17 L855.81 309.65 L856.49 311.13 L857.1 312.61 L857.64 314.09 L858.12 315.56 L858.54 317.04 L858.89 318.52 L859.15 320 L859.32 321.48 L859.38 322.96 L859.31 324.44 L859.1 325.91 L858.74 327.39 L858.21 328.87 L857.5 330.35 L856.58 331.83 L855.46 333.31 L854.09 334.79 L852.41 336.26 L850.32 337.74 L847.5 339.22 L840.5 340.7" fill="none" stroke="#d860b8" stroke-width="0.45"/><path d="M840.5 299.3 L846.34 300.78 L848.39 302.26 L849.74 303.74 L850.73 305.21 L851.51 306.69 L852.17 308.17 L852.77 309.65 L853.35 311.13 L853.92 312.61 L854.5 314.09 L855.08 315.56 L855.65 317.04 L856.2 318.52 L856.68 320 L857.09 321.48 L857.38 322.96 L857.53 324.44 L857.52 325.91 L857.31 327.39 L856.89 328.87 L856.26 330.35 L855.39 331.83 L854.29 333.31 L852.93 334.79 L851.29 336.26 L849.29 337.74 L846.67 339.22 L840.5 340.7" fill="none" stroke="#d860b8" stroke-width="0.45"/><path d="M840.5 299.3 L845.03 300.78 L846.44 302.26 L847.26 303.74 L847.8 305.21 L848.2 306.69 L848.56 308.17 L848.94 309.65 L849.37 311.13 L849.89 312.61 L850.5 314.09 L851.18 315.56 L851.92 317.04 L852.67 318.52 L853.41 320 L854.08 321.48 L854.63 322.96 L855.03 324.44 L855.24 325.91 L855.22 327.39 L854.95 328.87 L854.42 330.35 L853.62 331.83 L852.57 333.31 L851.26 334.79 L849.7 336.26 L847.85 337.74 L845.55 339.22 L840.5 340.7" fill="none" stroke="#d860b8" stroke-width="0.45"/><path d="M840.5 299.3 L843.49 300.78 L844.19 302.26 L844.44 303.74 L844.49 305.21 L844.48 306.69 L844.51 308.17 L844.64 309.65 L844.91 311.13 L845.35 312.61 L845.96 314.09 L846.71 315.56 L847.59 317.04 L848.53 318.52 L849.48 320 L850.39 321.48 L851.19 322.96 L851.83 324.44 L852.25 325.91 L852.42 327.39 L852.32 328.87 L851.92 330.35 L851.23 331.83 L850.28 333.31 L849.08 334.79 L847.68 336.26 L846.06 337.74 L844.18 339.22 L840.5 340.7" fill="none" stroke="#d860b8" stroke-width="0.45"/><path d="M840.5 299.3 L841.8 300.78 L841.77 302.26 L841.45 303.74 L841.03 305.21 L840.63 306.69 L840.34 308.17 L840.23 309.65 L840.33 311.13 L840.66 312.61 L841.23 314.09 L842 315.56 L842.95 317.04 L844 318.52 L845.11 320 L846.19 321.48 L847.17 322.96 L847.99 324.44 L848.6 325.91 L848.94 327.39 L848.99 328.87 L848.75 330.35 L848.22 331.83 L847.42 333.31 L846.42 334.79 L845.25 336.26 L843.97 337.74 L842.62 339.22 L840.5 340.7" fill="none" stroke="#d860b8" stroke-width="0.45"/><path d="M840.5 299.3 L840.07 300.78 L839.34 302.26 L838.5 303.74 L837.67 305.21 L836.93 306.69 L836.36 308.17 L836.02 309.65 L835.94 311.13 L836.14 312.61 L836.62 314.09 L837.35 315.56 L838.28 317.04 L839.35 318.52 L840.5 320 L841.65 321.48 L842.72 322.96 L843.65 324.44 L844.38 325.91 L844.86 327.39 L845.06 328.87 L844.98 330.35 L844.64 331.83 L844.07 333.31 L843.33 334.79 L842.5 336.26 L841.66 337.74 L840.93 339.22 L840.5 340.7" fill="none" stroke="#d860b8" stroke-width="0.45"/><path d="M840.5 299.3 L838.38 300.78 L837.03 302.26 L835.75 303.74 L834.58 305.21 L833.58 306.69 L832.78 308.17 L832.25 309.65 L832.01 311.13 L832.06 312.61 L832.4 314.09 L833.01 315.56 L833.83 317.04 L834.81 318.52 L835.89 320 L837 321.48 L838.05 322.96 L839 324.44 L839.77 325.91 L840.34 327.39 L840.67 328.87 L840.77 330.35 L840.66 331.83 L840.37 333.31 L839.97 334.79 L839.55 336.26 L839.23 337.74 L839.2 339.22 L840.5 340.7" fill="none" stroke="#d860b8" stroke-width="0.45"/><path d="M840.5 299.3 L836.82 300.78 L834.94 302.26 L833.32 303.74 L831.92 305.21 L830.72 306.69 L829.77 308.17 L829.08 309.65 L828.68 311.13 L828.58 312.61 L828.75 314.09 L829.17 315.56 L829.81 317.04 L830.61 318.52 L831.52 320 L832.47 321.48 L833.41 322.96 L834.29 324.44 L835.04 325.91 L835.65 327.39 L836.09 328.87 L836.36 330.35 L836.49 331.83 L836.52 333.31 L836.51 334.79 L836.56 336.26 L836.81 337.74 L837.51 339.22 L840.5 340.7" fill="none" stroke="#d860b8" stroke-width="0.45"/><path d="M840.5 299.3 L835.45 300.78 L833.15 302.26 L831.3 303.74 L829.74 305.21 L828.43 306.69 L827.38 308.17 L826.58 309.65 L826.05 311.13 L825.78 312.61 L825.76 314.09 L825.97 315.56 L826.37 317.04 L826.92 318.52 L827.59 320 L828.33 321.48 L829.08 322.96 L829.82 324.44 L830.5 325.91 L831.11 327.39 L831.63 328.87 L832.06 330.35 L832.44 331.83 L832.8 333.31 L833.2 334.79 L833.74 336.26 L834.56 337.74 L835.97 339.22 L840.5 340.7" fill="none" stroke="#d860b8" stroke-width="0.45"/><path d="M840.5 299.3 L834.33 300.78 L831.71 302.26 L829.71 303.74 L828.07 305.21 L826.71 306.69 L825.61 308.17 L824.74 309.65 L824.11 311.13 L823.69 312.61 L823.48 314.09 L823.47 315.56 L823.62 317.04 L823.91 318.52 L824.32 320 L824.8 321.48 L825.35 322.96 L825.92 324.44 L826.5 325.91 L827.08 327.39 L827.65 328.87 L828.23 330.35 L828.83 331.83 L829.49 333.31 L830.27 334.79 L831.26 336.26 L832.61 337.74 L834.66 339.22 L840.5 340.7" fill="none" stroke="#d860b8" stroke-width="0.45"/><path d="M840.5 299.3 L833.5 300.78 L830.68 302.26 L828.59 303.74 L826.91 305.21 L825.54 306.69 L824.42 308.17 L823.5 309.65 L822.79 311.13 L822.26 312.61 L821.9 314.09 L821.69 315.56 L821.62 317.04 L821.68 318.52 L821.85 320 L822.11 321.48 L822.46 322.96 L822.88 324.44 L823.36 325.91 L823.9 327.39 L824.51 328.87 L825.19 330.35 L825.97 331.83 L826.89 333.31 L827.98 334.79 L829.34 336.26 L831.11 337.74 L833.66 339.22 L840.5 340.7" fill="none" stroke="#d860b8" stroke-width="0.45"/><path d="M840.5 299.3 L832.99 300.78 L830.05 302.26 L827.92 303.74 L826.24 305.21 L824.86 306.69 L823.73 308.17 L822.8 309.65 L822.04 311.13 L821.43 312.61 L820.97 314.09 L820.63 315.56 L820.42 317.04 L820.31 318.52 L820.32 320 L820.43 321.48 L820.64 322.96 L820.94 324.44 L821.35 325.91 L821.87 327.39 L822.49 328.87 L823.24 330.35 L824.14 331.83 L825.22 333.31 L826.52 334.79 L828.12 336.26 L830.16 337.74 L833.03 339.22 L840.5 340.7" fill="none" stroke="#d860b8" stroke-width="0.45"/></g><g opacity="1"><circle cx="840.5" cy="480" r="20.7" fill="none" stroke="#d860b8" stroke-width="0.45"/><path d="M840.5 459.3 L847.97 460.78 L850.84 462.26 L852.88 463.74 L854.48 465.21 L855.78 466.69 L856.86 468.17 L857.76 469.65 L858.51 471.13 L859.13 472.61 L859.65 474.09 L860.06 475.56 L860.36 477.04 L860.57 478.52 L860.68 480 L860.69 481.48 L860.58 482.96 L860.37 484.44 L860.03 485.91 L859.57 487.39 L858.96 488.87 L858.2 490.35 L857.27 491.83 L856.14 493.31 L854.76 494.79 L853.08 496.26 L850.95 497.74 L848.01 499.22 L840.5 500.7" fill="none" stroke="#d860b8" stroke-width="0.45"/><path d="M840.5 459.3 L847.34 460.78 L849.89 462.26 L851.66 463.74 L853.02 465.21 L854.11 466.69 L855.03 468.17 L855.81 469.65 L856.49 471.13 L857.1 472.61 L857.64 474.09 L858.12 475.56 L858.54 477.04 L858.89 478.52 L859.15 480 L859.32 481.48 L859.38 482.96 L859.31 484.44 L859.1 485.91 L858.74 487.39 L858.21 488.87 L857.5 490.35 L856.58 491.83 L855.46 493.31 L854.09 494.79 L852.41 496.26 L850.32 497.74 L847.5 499.22 L840.5 500.7" fill="none" stroke="#d860b8" stroke-width="0.45"/><path d="M840.5 459.3 L846.34 460.78 L848.39 462.26 L849.74 463.74 L850.73 465.21 L851.51 466.69 L852.17 468.17 L852.77 469.65 L853.35 471.13 L853.92 472.61 L854.5 474.09 L855.08 475.56 L855.65 477.04 L856.2 478.52 L856.68 480 L857.09 481.48 L857.38 482.96 L857.53 484.44 L857.52 485.91 L857.31 487.39 L856.89 488.87 L856.26 490.35 L855.39 491.83 L854.29 493.31 L852.93 494.79 L851.29 496.26 L849.29 497.74 L846.67 499.22 L840.5 500.7" fill="none" stroke="#d860b8" stroke-width="0.45"/><path d="M840.5 459.3 L845.03 460.78 L846.44 462.26 L847.26 463.74 L847.8 465.21 L848.2 466.69 L848.56 468.17 L848.94 469.65 L849.37 471.13 L849.89 472.61 L850.5 474.09 L851.18 475.56 L851.92 477.04 L852.67 478.52 L853.41 480 L854.08 481.48 L854.63 482.96 L855.03 484.44 L855.24 485.91 L855.22 487.39 L854.95 488.87 L854.42 490.35 L853.62 491.83 L852.57 493.31 L851.26 494.79 L849.7 496.26 L847.85 497.74 L845.55 499.22 L840.5 500.7" fill="none" stroke="#d860b8" stroke-width="0.45"/><path d="M840.5 459.3 L843.49 460.78 L844.19 462.26 L844.44 463.74 L844.49 465.21 L844.48 466.69 L844.51 468.17 L844.64 469.65 L844.91 471.13 L845.35 472.61 L845.96 474.09 L846.71 475.56 L847.59 477.04 L848.53 478.52 L849.48 480 L850.39 481.48 L851.19 482.96 L851.83 484.44 L852.25 485.91 L852.42 487.39 L852.32 488.87 L851.92 490.35 L851.23 491.83 L850.28 493.31 L849.08 494.79 L847.68 496.26 L846.06 497.74 L844.18 499.22 L840.5 500.7" fill="none" stroke="#d860b8" stroke-width="0.45"/><path d="M840.5 459.3 L841.8 460.78 L841.77 462.26 L841.45 463.74 L841.03 465.21 L840.63 466.69 L840.34 468.17 L840.23 469.65 L840.33 471.13 L840.66 472.61 L841.23 474.09 L842 475.56 L842.95 477.04 L844 478.52 L845.11 480 L846.19 481.48 L847.17 482.96 L847.99 484.44 L848.6 485.91 L848.94 487.39 L848.99 488.87 L848.75 490.35 L848.22 491.83 L847.42 493.31 L846.42 494.79 L845.25 496.26 L843.97 497.74 L842.62 499.22 L840.5 500.7" fill="none" stroke="#d860b8" stroke-width="0.45"/><path d="M840.5 459.3 L840.07 460.78 L839.34 462.26 L838.5 463.74 L837.67 465.21 L836.93 466.69 L836.36 468.17 L836.02 469.65 L835.94 471.13 L836.14 472.61 L836.62 474.09 L837.35 475.56 L838.28 477.04 L839.35 478.52 L840.5 480 L841.65 481.48 L842.72 482.96 L843.65 484.44 L844.38 485.91 L844.86 487.39 L845.06 488.87 L844.98 490.35 L844.64 491.83 L844.07 493.31 L843.33 494.79 L842.5 496.26 L841.66 497.74 L840.93 499.22 L840.5 500.7" fill="none" stroke="#d860b8" stroke-width="0.45"/><path d="M840.5 459.3 L838.38 460.78 L837.03 462.26 L835.75 463.74 L834.58 465.21 L833.58 466.69 L832.78 468.17 L832.25 469.65 L832.01 471.13 L832.06 472.61 L832.4 474.09 L833.01 475.56 L833.83 477.04 L834.81 478.52 L835.89 480 L837 481.48 L838.05 482.96 L839 484.44 L839.77 485.91 L840.34 487.39 L840.67 488.87 L840.77 490.35 L840.66 491.83 L840.37 493.31 L839.97 494.79 L839.55 496.26 L839.23 497.74 L839.2 499.22 L840.5 500.7" fill="none" stroke="#d860b8" stroke-width="0.45"/><path d="M840.5 459.3 L836.82 460.78 L834.94 462.26 L833.32 463.74 L831.92 465.21 L830.72 466.69 L829.77 468.17 L829.08 469.65 L828.68 471.13 L828.58 472.61 L828.75 474.09 L829.17 475.56 L829.81 477.04 L830.61 478.52 L831.52 480 L832.47 481.48 L833.41 482.96 L834.29 484.44 L835.04 485.91 L835.65 487.39 L836.09 488.87 L836.36 490.35 L836.49 491.83 L836.52 493.31 L836.51 494.79 L836.56 496.26 L836.81 497.74 L837.51 499.22 L840.5 500.7" fill="none" stroke="#d860b8" stroke-width="0.45"/><path d="M840.5 459.3 L835.45 460.78 L833.15 462.26 L831.3 463.74 L829.74 465.21 L828.43 466.69 L827.38 468.17 L826.58 469.65 L826.05 471.13 L825.78 472.61 L825.76 474.09 L825.97 475.56 L826.37 477.04 L826.92 478.52 L827.59 480 L828.33 481.48 L829.08 482.96 L829.82 484.44 L830.5 485.91 L831.11 487.39 L831.63 488.87 L832.06 490.35 L832.44 491.83 L832.8 493.31 L833.2 494.79 L833.74 496.26 L834.56 497.74 L835.97 499.22 L840.5 500.7" fill="none" stroke="#d860b8" stroke-width="0.45"/><path d="M840.5 459.3 L834.33 460.78 L831.71 462.26 L829.71 463.74 L828.07 465.21 L826.71 466.69 L825.61 468.17 L824.74 469.65 L824.11 471.13 L823.69 472.61 L823.48 474.09 L823.47 475.56 L823.62 477.04 L823.91 478.52 L824.32 480 L824.8 481.48 L825.35 482.96 L825.92 484.44 L826.5 485.91 L827.08 487.39 L827.65 488.87 L828.23 490.35 L828.83 491.83 L829.49 493.31 L830.27 494.79 L831.26 496.26 L832.61 497.74 L834.66 499.22 L840.5 500.7" fill="none" stroke="#d860b8" stroke-width="0.45"/><path d="M840.5 459.3 L833.5 460.78 L830.68 462.26 L828.59 463.74 L826.91 465.21 L825.54 466.69 L824.42 468.17 L823.5 469.65 L822.79 471.13 L822.26 472.61 L821.9 474.09 L821.69 475.56 L821.62 477.04 L821.68 478.52 L821.85 480 L822.11 481.48 L822.46 482.96 L822.88 484.44 L823.36 485.91 L823.9 487.39 L824.51 488.87 L825.19 490.35 L825.97 491.83 L826.89 493.31 L827.98 494.79 L829.34 496.26 L831.11 497.74 L833.66 499.22 L840.5 500.7" fill="none" stroke="#d860b8" stroke-width="0.45"/><path d="M840.5 459.3 L832.99 460.78 L830.05 462.26 L827.92 463.74 L826.24 465.21 L824.86 466.69 L823.73 468.17 L822.8 469.65 L822.04 471.13 L821.43 472.61 L820.97 474.09 L820.63 475.56 L820.42 477.04 L820.31 478.52 L820.32 480 L820.43 481.48 L820.64 482.96 L820.94 484.44 L821.35 485.91 L821.87 487.39 L822.49 488.87 L823.24 490.35 L824.14 491.83 L825.22 493.31 L826.52 494.79 L828.12 496.26 L830.16 497.74 L833.03 499.22 L840.5 500.7" fill="none" stroke="#d860b8" stroke-width="0.45"/></g><g opacity="1"><circle cx="614.3" cy="388.5" r="20.6" fill="none" stroke="#d860b8" stroke-width="0.45"/><path d="M593.7 388.5 L595.17 395.93 L596.64 398.79 L598.11 400.83 L599.59 402.42 L601.06 403.71 L602.53 404.78 L604 405.67 L605.47 406.42 L606.94 407.04 L608.41 407.56 L609.89 407.96 L611.36 408.27 L612.83 408.48 L614.3 408.58 L615.77 408.59 L617.24 408.49 L618.71 408.27 L620.19 407.94 L621.66 407.47 L623.13 406.87 L624.6 406.11 L626.07 405.19 L627.54 404.06 L629.01 402.7 L630.49 401.02 L631.96 398.9 L633.43 395.98 L634.9 388.5" fill="none" stroke="#d860b8" stroke-width="0.45"/><path d="M593.7 388.5 L595.17 395.31 L596.64 397.84 L598.11 399.61 L599.59 400.96 L601.06 402.05 L602.53 402.96 L604 403.73 L605.47 404.42 L606.94 405.02 L608.41 405.56 L609.89 406.04 L611.36 406.45 L612.83 406.8 L614.3 407.06 L615.77 407.23 L617.24 407.29 L618.71 407.22 L620.19 407.01 L621.66 406.65 L623.13 406.12 L624.6 405.41 L626.07 404.51 L627.54 403.39 L629.01 402.02 L630.49 400.35 L631.96 398.28 L633.43 395.47 L634.9 388.5" fill="none" stroke="#d860b8" stroke-width="0.45"/><path d="M593.7 388.5 L595.17 394.31 L596.64 396.35 L598.11 397.69 L599.59 398.68 L601.06 399.46 L602.53 400.12 L604 400.71 L605.47 401.29 L606.94 401.86 L608.41 402.43 L609.89 403.01 L611.36 403.58 L612.83 404.12 L614.3 404.61 L615.77 405.01 L617.24 405.3 L618.71 405.45 L620.19 405.43 L621.66 405.23 L623.13 404.82 L624.6 404.18 L626.07 403.32 L627.54 402.22 L629.01 400.87 L630.49 399.23 L631.96 397.24 L633.43 394.64 L634.9 388.5" fill="none" stroke="#d860b8" stroke-width="0.45"/><path d="M593.7 388.5 L595.17 393.01 L596.64 394.41 L598.11 395.23 L599.59 395.77 L601.06 396.17 L602.53 396.52 L604 396.9 L605.47 397.33 L606.94 397.85 L608.41 398.45 L609.89 399.13 L611.36 399.86 L612.83 400.61 L614.3 401.34 L615.77 402.01 L617.24 402.56 L618.71 402.96 L620.19 403.17 L621.66 403.15 L623.13 402.88 L624.6 402.35 L626.07 401.56 L627.54 400.51 L629.01 399.21 L630.49 397.66 L631.96 395.82 L633.43 393.53 L634.9 388.5" fill="none" stroke="#d860b8" stroke-width="0.45"/><path d="M593.7 388.5 L595.17 391.47 L596.64 392.17 L598.11 392.42 L599.59 392.47 L601.06 392.46 L602.53 392.49 L604 392.62 L605.47 392.89 L606.94 393.33 L608.41 393.93 L609.89 394.68 L611.36 395.55 L612.83 396.49 L614.3 397.44 L615.77 398.34 L617.24 399.14 L618.71 399.78 L620.19 400.2 L621.66 400.37 L623.13 400.26 L624.6 399.86 L626.07 399.18 L627.54 398.23 L629.01 397.04 L630.49 395.64 L631.96 394.04 L633.43 392.16 L634.9 388.5" fill="none" stroke="#d860b8" stroke-width="0.45"/><path d="M593.7 388.5 L595.17 389.8 L596.64 389.77 L598.11 389.45 L599.59 389.03 L601.06 388.63 L602.53 388.35 L604 388.23 L605.47 388.33 L606.94 388.66 L608.41 389.23 L609.89 390 L611.36 390.93 L612.83 391.99 L614.3 393.08 L615.77 394.16 L617.24 395.14 L618.71 395.96 L620.19 396.56 L621.66 396.9 L623.13 396.95 L624.6 396.71 L626.07 396.18 L627.54 395.39 L629.01 394.39 L630.49 393.22 L631.96 391.96 L633.43 390.61 L634.9 388.5" fill="none" stroke="#d860b8" stroke-width="0.45"/><path d="M593.7 388.5 L595.17 388.07 L596.64 387.35 L598.11 386.51 L599.59 385.68 L601.06 384.95 L602.53 384.38 L604 384.04 L605.47 383.96 L606.94 384.17 L608.41 384.64 L609.89 385.36 L611.36 386.29 L612.83 387.36 L614.3 388.5 L615.77 389.64 L617.24 390.71 L618.71 391.64 L620.19 392.36 L621.66 392.83 L623.13 393.04 L624.6 392.96 L626.07 392.62 L627.54 392.05 L629.01 391.32 L630.49 390.49 L631.96 389.65 L633.43 388.93 L634.9 388.5" fill="none" stroke="#d860b8" stroke-width="0.45"/><path d="M593.7 388.5 L595.17 386.39 L596.64 385.04 L598.11 383.78 L599.59 382.61 L601.06 381.61 L602.53 380.82 L604 380.29 L605.47 380.05 L606.94 380.1 L608.41 380.44 L609.89 381.04 L611.36 381.86 L612.83 382.84 L614.3 383.92 L615.77 385.01 L617.24 386.07 L618.71 387 L620.19 387.77 L621.66 388.34 L623.13 388.67 L624.6 388.77 L626.07 388.65 L627.54 388.37 L629.01 387.97 L630.49 387.55 L631.96 387.23 L633.43 387.2 L634.9 388.5" fill="none" stroke="#d860b8" stroke-width="0.45"/><path d="M593.7 388.5 L595.17 384.84 L596.64 382.96 L598.11 381.36 L599.59 379.96 L601.06 378.77 L602.53 377.82 L604 377.14 L605.47 376.74 L606.94 376.63 L608.41 376.8 L609.89 377.22 L611.36 377.86 L612.83 378.66 L614.3 379.56 L615.77 380.51 L617.24 381.45 L618.71 382.32 L620.19 383.07 L621.66 383.67 L623.13 384.11 L624.6 384.38 L626.07 384.51 L627.54 384.54 L629.01 384.53 L630.49 384.58 L631.96 384.83 L633.43 385.53 L634.9 388.5" fill="none" stroke="#d860b8" stroke-width="0.45"/><path d="M593.7 388.5 L595.17 383.47 L596.64 381.18 L598.11 379.34 L599.59 377.79 L601.06 376.49 L602.53 375.44 L604 374.65 L605.47 374.12 L606.94 373.85 L608.41 373.83 L609.89 374.04 L611.36 374.44 L612.83 374.99 L614.3 375.66 L615.77 376.39 L617.24 377.14 L618.71 377.87 L620.19 378.55 L621.66 379.15 L623.13 379.67 L624.6 380.1 L626.07 380.48 L627.54 380.83 L629.01 381.23 L630.49 381.77 L631.96 382.59 L633.43 383.99 L634.9 388.5" fill="none" stroke="#d860b8" stroke-width="0.45"/><path d="M593.7 388.5 L595.17 382.36 L596.64 379.76 L598.11 377.77 L599.59 376.13 L601.06 374.78 L602.53 373.68 L604 372.82 L605.47 372.18 L606.94 371.77 L608.41 371.57 L609.89 371.55 L611.36 371.7 L612.83 371.99 L614.3 372.39 L615.77 372.88 L617.24 373.42 L618.71 373.99 L620.19 374.57 L621.66 375.14 L623.13 375.71 L624.6 376.29 L626.07 376.88 L627.54 377.54 L629.01 378.32 L630.49 379.31 L631.96 380.65 L633.43 382.69 L634.9 388.5" fill="none" stroke="#d860b8" stroke-width="0.45"/><path d="M593.7 388.5 L595.17 381.53 L596.64 378.72 L598.11 376.65 L599.59 374.98 L601.06 373.61 L602.53 372.49 L604 371.59 L605.47 370.88 L606.94 370.35 L608.41 369.99 L609.89 369.78 L611.36 369.71 L612.83 369.77 L614.3 369.94 L615.77 370.2 L617.24 370.55 L618.71 370.96 L620.19 371.44 L621.66 371.98 L623.13 372.58 L624.6 373.27 L626.07 374.04 L627.54 374.95 L629.01 376.04 L630.49 377.39 L631.96 379.16 L633.43 381.69 L634.9 388.5" fill="none" stroke="#d860b8" stroke-width="0.45"/><path d="M593.7 388.5 L595.17 381.02 L596.64 378.1 L598.11 375.98 L599.59 374.3 L601.06 372.94 L602.53 371.81 L604 370.89 L605.47 370.13 L606.94 369.53 L608.41 369.06 L609.89 368.73 L611.36 368.51 L612.83 368.41 L614.3 368.42 L615.77 368.52 L617.24 368.73 L618.71 369.04 L620.19 369.44 L621.66 369.96 L623.13 370.58 L624.6 371.33 L626.07 372.22 L627.54 373.29 L629.01 374.58 L630.49 376.17 L631.96 378.21 L633.43 381.07 L634.9 388.5" fill="none" stroke="#d860b8" stroke-width="0.45"/></g><g opacity="1"><circle cx="921.5" cy="388.5" r="20.6" fill="none" stroke="#d860b8" stroke-width="0.45"/><path d="M900.9 388.5 L902.37 395.98 L903.84 398.9 L905.31 401.02 L906.79 402.7 L908.26 404.06 L909.73 405.19 L911.2 406.11 L912.67 406.87 L914.14 407.47 L915.61 407.94 L917.09 408.27 L918.56 408.49 L920.03 408.59 L921.5 408.58 L922.97 408.48 L924.44 408.27 L925.91 407.96 L927.39 407.56 L928.86 407.04 L930.33 406.42 L931.8 405.67 L933.27 404.78 L934.74 403.71 L936.21 402.42 L937.69 400.83 L939.16 398.79 L940.63 395.93 L942.1 388.5" fill="none" stroke="#d860b8" stroke-width="0.45"/><path d="M900.9 388.5 L902.37 395.47 L903.84 398.28 L905.31 400.35 L906.79 402.02 L908.26 403.39 L909.73 404.51 L911.2 405.41 L912.67 406.12 L914.14 406.65 L915.61 407.01 L917.09 407.22 L918.56 407.29 L920.03 407.23 L921.5 407.06 L922.97 406.8 L924.44 406.45 L925.91 406.04 L927.39 405.56 L928.86 405.02 L930.33 404.42 L931.8 403.73 L933.27 402.96 L934.74 402.05 L936.21 400.96 L937.69 399.61 L939.16 397.84 L940.63 395.31 L942.1 388.5" fill="none" stroke="#d860b8" stroke-width="0.45"/><path d="M900.9 388.5 L902.37 394.64 L903.84 397.24 L905.31 399.23 L906.79 400.87 L908.26 402.22 L909.73 403.32 L911.2 404.18 L912.67 404.82 L914.14 405.23 L915.61 405.43 L917.09 405.45 L918.56 405.3 L920.03 405.01 L921.5 404.61 L922.97 404.12 L924.44 403.58 L925.91 403.01 L927.39 402.43 L928.86 401.86 L930.33 401.29 L931.8 400.71 L933.27 400.12 L934.74 399.46 L936.21 398.68 L937.69 397.69 L939.16 396.35 L940.63 394.31 L942.1 388.5" fill="none" stroke="#d860b8" stroke-width="0.45"/><path d="M900.9 388.5 L902.37 393.53 L903.84 395.82 L905.31 397.66 L906.79 399.21 L908.26 400.51 L909.73 401.56 L911.2 402.35 L912.67 402.88 L914.14 403.15 L915.61 403.17 L917.09 402.96 L918.56 402.56 L920.03 402.01 L921.5 401.34 L922.97 400.61 L924.44 399.86 L925.91 399.13 L927.39 398.45 L928.86 397.85 L930.33 397.33 L931.8 396.9 L933.27 396.52 L934.74 396.17 L936.21 395.77 L937.69 395.23 L939.16 394.41 L940.63 393.01 L942.1 388.5" fill="none" stroke="#d860b8" stroke-width="0.45"/><path d="M900.9 388.5 L902.37 392.16 L903.84 394.04 L905.31 395.64 L906.79 397.04 L908.26 398.23 L909.73 399.18 L911.2 399.86 L912.67 400.26 L914.14 400.37 L915.61 400.2 L917.09 399.78 L918.56 399.14 L920.03 398.34 L921.5 397.44 L922.97 396.49 L924.44 395.55 L925.91 394.68 L927.39 393.93 L928.86 393.33 L930.33 392.89 L931.8 392.62 L933.27 392.49 L934.74 392.46 L936.21 392.47 L937.69 392.42 L939.16 392.17 L940.63 391.47 L942.1 388.5" fill="none" stroke="#d860b8" stroke-width="0.45"/><path d="M900.9 388.5 L902.37 390.61 L903.84 391.96 L905.31 393.22 L906.79 394.39 L908.26 395.39 L909.73 396.18 L911.2 396.71 L912.67 396.95 L914.14 396.9 L915.61 396.56 L917.09 395.96 L918.56 395.14 L920.03 394.16 L921.5 393.08 L922.97 391.99 L924.44 390.93 L925.91 390 L927.39 389.23 L928.86 388.66 L930.33 388.33 L931.8 388.23 L933.27 388.35 L934.74 388.63 L936.21 389.03 L937.69 389.45 L939.16 389.77 L940.63 389.8 L942.1 388.5" fill="none" stroke="#d860b8" stroke-width="0.45"/><path d="M900.9 388.5 L902.37 388.93 L903.84 389.65 L905.31 390.49 L906.79 391.32 L908.26 392.05 L909.73 392.62 L911.2 392.96 L912.67 393.04 L914.14 392.83 L915.61 392.36 L917.09 391.64 L918.56 390.71 L920.03 389.64 L921.5 388.5 L922.97 387.36 L924.44 386.29 L925.91 385.36 L927.39 384.64 L928.86 384.17 L930.33 383.96 L931.8 384.04 L933.27 384.38 L934.74 384.95 L936.21 385.68 L937.69 386.51 L939.16 387.35 L940.63 388.07 L942.1 388.5" fill="none" stroke="#d860b8" stroke-width="0.45"/><path d="M900.9 388.5 L902.37 387.2 L903.84 387.23 L905.31 387.55 L906.79 387.97 L908.26 388.37 L909.73 388.65 L911.2 388.77 L912.67 388.67 L914.14 388.34 L915.61 387.77 L917.09 387 L918.56 386.07 L920.03 385.01 L921.5 383.92 L922.97 382.84 L924.44 381.86 L925.91 381.04 L927.39 380.44 L928.86 380.1 L930.33 380.05 L931.8 380.29 L933.27 380.82 L934.74 381.61 L936.21 382.61 L937.69 383.78 L939.16 385.04 L940.63 386.39 L942.1 388.5" fill="none" stroke="#d860b8" stroke-width="0.45"/><path d="M900.9 388.5 L902.37 385.53 L903.84 384.83 L905.31 384.58 L906.79 384.53 L908.26 384.54 L909.73 384.51 L911.2 384.38 L912.67 384.11 L914.14 383.67 L915.61 383.07 L917.09 382.32 L918.56 381.45 L920.03 380.51 L921.5 379.56 L922.97 378.66 L924.44 377.86 L925.91 377.22 L927.39 376.8 L928.86 376.63 L930.33 376.74 L931.8 377.14 L933.27 377.82 L934.74 378.77 L936.21 379.96 L937.69 381.36 L939.16 382.96 L940.63 384.84 L942.1 388.5" fill="none" stroke="#d860b8" stroke-width="0.45"/><path d="M900.9 388.5 L902.37 383.99 L903.84 382.59 L905.31 381.77 L906.79 381.23 L908.26 380.83 L909.73 380.48 L911.2 380.1 L912.67 379.67 L914.14 379.15 L915.61 378.55 L917.09 377.87 L918.56 377.14 L920.03 376.39 L921.5 375.66 L922.97 374.99 L924.44 374.44 L925.91 374.04 L927.39 373.83 L928.86 373.85 L930.33 374.12 L931.8 374.65 L933.27 375.44 L934.74 376.49 L936.21 377.79 L937.69 379.34 L939.16 381.18 L940.63 383.47 L942.1 388.5" fill="none" stroke="#d860b8" stroke-width="0.45"/><path d="M900.9 388.5 L902.37 382.69 L903.84 380.65 L905.31 379.31 L906.79 378.32 L908.26 377.54 L909.73 376.88 L911.2 376.29 L912.67 375.71 L914.14 375.14 L915.61 374.57 L917.09 373.99 L918.56 373.42 L920.03 372.88 L921.5 372.39 L922.97 371.99 L924.44 371.7 L925.91 371.55 L927.39 371.57 L928.86 371.77 L930.33 372.18 L931.8 372.82 L933.27 373.68 L934.74 374.78 L936.21 376.13 L937.69 377.77 L939.16 379.76 L940.63 382.36 L942.1 388.5" fill="none" stroke="#d860b8" stroke-width="0.45"/><path d="M900.9 388.5 L902.37 381.69 L903.84 379.16 L905.31 377.39 L906.79 376.04 L908.26 374.95 L909.73 374.04 L911.2 373.27 L912.67 372.58 L914.14 371.98 L915.61 371.44 L917.09 370.96 L918.56 370.55 L920.03 370.2 L921.5 369.94 L922.97 369.77 L924.44 369.71 L925.91 369.78 L927.39 369.99 L928.86 370.35 L930.33 370.88 L931.8 371.59 L933.27 372.49 L934.74 373.61 L936.21 374.98 L937.69 376.65 L939.16 378.72 L940.63 381.53 L942.1 388.5" fill="none" stroke="#d860b8" stroke-width="0.45"/><path d="M900.9 388.5 L902.37 381.07 L903.84 378.21 L905.31 376.17 L906.79 374.58 L908.26 373.29 L909.73 372.22 L911.2 371.33 L912.67 370.58 L914.14 369.96 L915.61 369.44 L917.09 369.04 L918.56 368.73 L920.03 368.52 L921.5 368.42 L922.97 368.41 L924.44 368.51 L925.91 368.73 L927.39 369.06 L928.86 369.53 L930.33 370.13 L931.8 370.89 L933.27 371.81 L934.74 372.94 L936.21 374.3 L937.69 375.98 L939.16 378.1 L940.63 381.02 L942.1 388.5" fill="none" stroke="#d860b8" stroke-width="0.45"/></g><g opacity="1"><circle cx="614.3" cy="411" r="20.6" fill="none" stroke="#d860b8" stroke-width="0.45"/><path d="M593.7 411 L595.17 418.43 L596.64 421.29 L598.11 423.33 L599.59 424.92 L601.06 426.21 L602.53 427.28 L604 428.17 L605.47 428.92 L606.94 429.54 L608.41 430.06 L609.89 430.46 L611.36 430.77 L612.83 430.98 L614.3 431.08 L615.77 431.09 L617.24 430.99 L618.71 430.77 L620.19 430.44 L621.66 429.97 L623.13 429.37 L624.6 428.61 L626.07 427.69 L627.54 426.56 L629.01 425.2 L630.49 423.52 L631.96 421.4 L633.43 418.48 L634.9 411" fill="none" stroke="#d860b8" stroke-width="0.45"/><path d="M593.7 411 L595.17 417.81 L596.64 420.34 L598.11 422.11 L599.59 423.46 L601.06 424.55 L602.53 425.46 L604 426.23 L605.47 426.92 L606.94 427.52 L608.41 428.06 L609.89 428.54 L611.36 428.95 L612.83 429.3 L614.3 429.56 L615.77 429.73 L617.24 429.79 L618.71 429.72 L620.19 429.51 L621.66 429.15 L623.13 428.62 L624.6 427.91 L626.07 427.01 L627.54 425.89 L629.01 424.52 L630.49 422.85 L631.96 420.78 L633.43 417.97 L634.9 411" fill="none" stroke="#d860b8" stroke-width="0.45"/><path d="M593.7 411 L595.17 416.81 L596.64 418.85 L598.11 420.19 L599.59 421.18 L601.06 421.96 L602.53 422.62 L604 423.21 L605.47 423.79 L606.94 424.36 L608.41 424.93 L609.89 425.51 L611.36 426.08 L612.83 426.62 L614.3 427.11 L615.77 427.51 L617.24 427.8 L618.71 427.95 L620.19 427.93 L621.66 427.73 L623.13 427.32 L624.6 426.68 L626.07 425.82 L627.54 424.72 L629.01 423.37 L630.49 421.73 L631.96 419.74 L633.43 417.14 L634.9 411" fill="none" stroke="#d860b8" stroke-width="0.45"/><path d="M593.7 411 L595.17 415.51 L596.64 416.91 L598.11 417.73 L599.59 418.27 L601.06 418.67 L602.53 419.02 L604 419.4 L605.47 419.83 L606.94 420.35 L608.41 420.95 L609.89 421.63 L611.36 422.36 L612.83 423.11 L614.3 423.84 L615.77 424.51 L617.24 425.06 L618.71 425.46 L620.19 425.67 L621.66 425.65 L623.13 425.38 L624.6 424.85 L626.07 424.06 L627.54 423.01 L629.01 421.71 L630.49 420.16 L631.96 418.32 L633.43 416.03 L634.9 411" fill="none" stroke="#d860b8" stroke-width="0.45"/><path d="M593.7 411 L595.17 413.97 L596.64 414.67 L598.11 414.92 L599.59 414.97 L601.06 414.96 L602.53 414.99 L604 415.12 L605.47 415.39 L606.94 415.83 L608.41 416.43 L609.89 417.18 L611.36 418.05 L612.83 418.99 L614.3 419.94 L615.77 420.84 L617.24 421.64 L618.71 422.28 L620.19 422.7 L621.66 422.87 L623.13 422.76 L624.6 422.36 L626.07 421.68 L627.54 420.73 L629.01 419.54 L630.49 418.14 L631.96 416.54 L633.43 414.66 L634.9 411" fill="none" stroke="#d860b8" stroke-width="0.45"/><path d="M593.7 411 L595.17 412.3 L596.64 412.27 L598.11 411.95 L599.59 411.53 L601.06 411.13 L602.53 410.85 L604 410.73 L605.47 410.83 L606.94 411.16 L608.41 411.73 L609.89 412.5 L611.36 413.43 L612.83 414.49 L614.3 415.58 L615.77 416.66 L617.24 417.64 L618.71 418.46 L620.19 419.06 L621.66 419.4 L623.13 419.45 L624.6 419.21 L626.07 418.68 L627.54 417.89 L629.01 416.89 L630.49 415.72 L631.96 414.46 L633.43 413.11 L634.9 411" fill="none" stroke="#d860b8" stroke-width="0.45"/><path d="M593.7 411 L595.17 410.57 L596.64 409.85 L598.11 409.01 L599.59 408.18 L601.06 407.45 L602.53 406.88 L604 406.54 L605.47 406.46 L606.94 406.67 L608.41 407.14 L609.89 407.86 L611.36 408.79 L612.83 409.86 L614.3 411 L615.77 412.14 L617.24 413.21 L618.71 414.14 L620.19 414.86 L621.66 415.33 L623.13 415.54 L624.6 415.46 L626.07 415.12 L627.54 414.55 L629.01 413.82 L630.49 412.99 L631.96 412.15 L633.43 411.43 L634.9 411" fill="none" stroke="#d860b8" stroke-width="0.45"/><path d="M593.7 411 L595.17 408.89 L596.64 407.54 L598.11 406.28 L599.59 405.11 L601.06 404.11 L602.53 403.32 L604 402.79 L605.47 402.55 L606.94 402.6 L608.41 402.94 L609.89 403.54 L611.36 404.36 L612.83 405.34 L614.3 406.42 L615.77 407.51 L617.24 408.57 L618.71 409.5 L620.19 410.27 L621.66 410.84 L623.13 411.17 L624.6 411.27 L626.07 411.15 L627.54 410.87 L629.01 410.47 L630.49 410.05 L631.96 409.73 L633.43 409.7 L634.9 411" fill="none" stroke="#d860b8" stroke-width="0.45"/><path d="M593.7 411 L595.17 407.34 L596.64 405.46 L598.11 403.86 L599.59 402.46 L601.06 401.27 L602.53 400.32 L604 399.64 L605.47 399.24 L606.94 399.13 L608.41 399.3 L609.89 399.72 L611.36 400.36 L612.83 401.16 L614.3 402.06 L615.77 403.01 L617.24 403.95 L618.71 404.82 L620.19 405.57 L621.66 406.17 L623.13 406.61 L624.6 406.88 L626.07 407.01 L627.54 407.04 L629.01 407.03 L630.49 407.08 L631.96 407.33 L633.43 408.03 L634.9 411" fill="none" stroke="#d860b8" stroke-width="0.45"/><path d="M593.7 411 L595.17 405.97 L596.64 403.68 L598.11 401.84 L599.59 400.29 L601.06 398.99 L602.53 397.94 L604 397.15 L605.47 396.62 L606.94 396.35 L608.41 396.33 L609.89 396.54 L611.36 396.94 L612.83 397.49 L614.3 398.16 L615.77 398.89 L617.24 399.64 L618.71 400.37 L620.19 401.05 L621.66 401.65 L623.13 402.17 L624.6 402.6 L626.07 402.98 L627.54 403.33 L629.01 403.73 L630.49 404.27 L631.96 405.09 L633.43 406.49 L634.9 411" fill="none" stroke="#d860b8" stroke-width="0.45"/><path d="M593.7 411 L595.17 404.86 L596.64 402.26 L598.11 400.27 L599.59 398.63 L601.06 397.28 L602.53 396.18 L604 395.32 L605.47 394.68 L606.94 394.27 L608.41 394.07 L609.89 394.05 L611.36 394.2 L612.83 394.49 L614.3 394.89 L615.77 395.38 L617.24 395.92 L618.71 396.49 L620.19 397.07 L621.66 397.64 L623.13 398.21 L624.6 398.79 L626.07 399.38 L627.54 400.04 L629.01 400.82 L630.49 401.81 L631.96 403.15 L633.43 405.19 L634.9 411" fill="none" stroke="#d860b8" stroke-width="0.45"/><path d="M593.7 411 L595.17 404.03 L596.64 401.22 L598.11 399.15 L599.59 397.48 L601.06 396.11 L602.53 394.99 L604 394.09 L605.47 393.38 L606.94 392.85 L608.41 392.49 L609.89 392.28 L611.36 392.21 L612.83 392.27 L614.3 392.44 L615.77 392.7 L617.24 393.05 L618.71 393.46 L620.19 393.94 L621.66 394.48 L623.13 395.08 L624.6 395.77 L626.07 396.54 L627.54 397.45 L629.01 398.54 L630.49 399.89 L631.96 401.66 L633.43 404.19 L634.9 411" fill="none" stroke="#d860b8" stroke-width="0.45"/><path d="M593.7 411 L595.17 403.52 L596.64 400.6 L598.11 398.48 L599.59 396.8 L601.06 395.44 L602.53 394.31 L604 393.39 L605.47 392.63 L606.94 392.03 L608.41 391.56 L609.89 391.23 L611.36 391.01 L612.83 390.91 L614.3 390.92 L615.77 391.02 L617.24 391.23 L618.71 391.54 L620.19 391.94 L621.66 392.46 L623.13 393.08 L624.6 393.83 L626.07 394.72 L627.54 395.79 L629.01 397.08 L630.49 398.67 L631.96 400.71 L633.43 403.57 L634.9 411" fill="none" stroke="#d860b8" stroke-width="0.45"/></g><g opacity="1"><circle cx="921.5" cy="411" r="20.6" fill="none" stroke="#d860b8" stroke-width="0.45"/><path d="M900.9 411 L902.37 418.48 L903.84 421.4 L905.31 423.52 L906.79 425.2 L908.26 426.56 L909.73 427.69 L911.2 428.61 L912.67 429.37 L914.14 429.97 L915.61 430.44 L917.09 430.77 L918.56 430.99 L920.03 431.09 L921.5 431.08 L922.97 430.98 L924.44 430.77 L925.91 430.46 L927.39 430.06 L928.86 429.54 L930.33 428.92 L931.8 428.17 L933.27 427.28 L934.74 426.21 L936.21 424.92 L937.69 423.33 L939.16 421.29 L940.63 418.43 L942.1 411" fill="none" stroke="#d860b8" stroke-width="0.45"/><path d="M900.9 411 L902.37 417.97 L903.84 420.78 L905.31 422.85 L906.79 424.52 L908.26 425.89 L909.73 427.01 L911.2 427.91 L912.67 428.62 L914.14 429.15 L915.61 429.51 L917.09 429.72 L918.56 429.79 L920.03 429.73 L921.5 429.56 L922.97 429.3 L924.44 428.95 L925.91 428.54 L927.39 428.06 L928.86 427.52 L930.33 426.92 L931.8 426.23 L933.27 425.46 L934.74 424.55 L936.21 423.46 L937.69 422.11 L939.16 420.34 L940.63 417.81 L942.1 411" fill="none" stroke="#d860b8" stroke-width="0.45"/><path d="M900.9 411 L902.37 417.14 L903.84 419.74 L905.31 421.73 L906.79 423.37 L908.26 424.72 L909.73 425.82 L911.2 426.68 L912.67 427.32 L914.14 427.73 L915.61 427.93 L917.09 427.95 L918.56 427.8 L920.03 427.51 L921.5 427.11 L922.97 426.62 L924.44 426.08 L925.91 425.51 L927.39 424.93 L928.86 424.36 L930.33 423.79 L931.8 423.21 L933.27 422.62 L934.74 421.96 L936.21 421.18 L937.69 420.19 L939.16 418.85 L940.63 416.81 L942.1 411" fill="none" stroke="#d860b8" stroke-width="0.45"/><path d="M900.9 411 L902.37 416.03 L903.84 418.32 L905.31 420.16 L906.79 421.71 L908.26 423.01 L909.73 424.06 L911.2 424.85 L912.67 425.38 L914.14 425.65 L915.61 425.67 L917.09 425.46 L918.56 425.06 L920.03 424.51 L921.5 423.84 L922.97 423.11 L924.44 422.36 L925.91 421.63 L927.39 420.95 L928.86 420.35 L930.33 419.83 L931.8 419.4 L933.27 419.02 L934.74 418.67 L936.21 418.27 L937.69 417.73 L939.16 416.91 L940.63 415.51 L942.1 411" fill="none" stroke="#d860b8" stroke-width="0.45"/><path d="M900.9 411 L902.37 414.66 L903.84 416.54 L905.31 418.14 L906.79 419.54 L908.26 420.73 L909.73 421.68 L911.2 422.36 L912.67 422.76 L914.14 422.87 L915.61 422.7 L917.09 422.28 L918.56 421.64 L920.03 420.84 L921.5 419.94 L922.97 418.99 L924.44 418.05 L925.91 417.18 L927.39 416.43 L928.86 415.83 L930.33 415.39 L931.8 415.12 L933.27 414.99 L934.74 414.96 L936.21 414.97 L937.69 414.92 L939.16 414.67 L940.63 413.97 L942.1 411" fill="none" stroke="#d860b8" stroke-width="0.45"/><path d="M900.9 411 L902.37 413.11 L903.84 414.46 L905.31 415.72 L906.79 416.89 L908.26 417.89 L909.73 418.68 L911.2 419.21 L912.67 419.45 L914.14 419.4 L915.61 419.06 L917.09 418.46 L918.56 417.64 L920.03 416.66 L921.5 415.58 L922.97 414.49 L924.44 413.43 L925.91 412.5 L927.39 411.73 L928.86 411.16 L930.33 410.83 L931.8 410.73 L933.27 410.85 L934.74 411.13 L936.21 411.53 L937.69 411.95 L939.16 412.27 L940.63 412.3 L942.1 411" fill="none" stroke="#d860b8" stroke-width="0.45"/><path d="M900.9 411 L902.37 411.43 L903.84 412.15 L905.31 412.99 L906.79 413.82 L908.26 414.55 L909.73 415.12 L911.2 415.46 L912.67 415.54 L914.14 415.33 L915.61 414.86 L917.09 414.14 L918.56 413.21 L920.03 412.14 L921.5 411 L922.97 409.86 L924.44 408.79 L925.91 407.86 L927.39 407.14 L928.86 406.67 L930.33 406.46 L931.8 406.54 L933.27 406.88 L934.74 407.45 L936.21 408.18 L937.69 409.01 L939.16 409.85 L940.63 410.57 L942.1 411" fill="none" stroke="#d860b8" stroke-width="0.45"/><path d="M900.9 411 L902.37 409.7 L903.84 409.73 L905.31 410.05 L906.79 410.47 L908.26 410.87 L909.73 411.15 L911.2 411.27 L912.67 411.17 L914.14 410.84 L915.61 410.27 L917.09 409.5 L918.56 408.57 L920.03 407.51 L921.5 406.42 L922.97 405.34 L924.44 404.36 L925.91 403.54 L927.39 402.94 L928.86 402.6 L930.33 402.55 L931.8 402.79 L933.27 403.32 L934.74 404.11 L936.21 405.11 L937.69 406.28 L939.16 407.54 L940.63 408.89 L942.1 411" fill="none" stroke="#d860b8" stroke-width="0.45"/><path d="M900.9 411 L902.37 408.03 L903.84 407.33 L905.31 407.08 L906.79 407.03 L908.26 407.04 L909.73 407.01 L911.2 406.88 L912.67 406.61 L914.14 406.17 L915.61 405.57 L917.09 404.82 L918.56 403.95 L920.03 403.01 L921.5 402.06 L922.97 401.16 L924.44 400.36 L925.91 399.72 L927.39 399.3 L928.86 399.13 L930.33 399.24 L931.8 399.64 L933.27 400.32 L934.74 401.27 L936.21 402.46 L937.69 403.86 L939.16 405.46 L940.63 407.34 L942.1 411" fill="none" stroke="#d860b8" stroke-width="0.45"/><path d="M900.9 411 L902.37 406.49 L903.84 405.09 L905.31 404.27 L906.79 403.73 L908.26 403.33 L909.73 402.98 L911.2 402.6 L912.67 402.17 L914.14 401.65 L915.61 401.05 L917.09 400.37 L918.56 399.64 L920.03 398.89 L921.5 398.16 L922.97 397.49 L924.44 396.94 L925.91 396.54 L927.39 396.33 L928.86 396.35 L930.33 396.62 L931.8 397.15 L933.27 397.94 L934.74 398.99 L936.21 400.29 L937.69 401.84 L939.16 403.68 L940.63 405.97 L942.1 411" fill="none" stroke="#d860b8" stroke-width="0.45"/><path d="M900.9 411 L902.37 405.19 L903.84 403.15 L905.31 401.81 L906.79 400.82 L908.26 400.04 L909.73 399.38 L911.2 398.79 L912.67 398.21 L914.14 397.64 L915.61 397.07 L917.09 396.49 L918.56 395.92 L920.03 395.38 L921.5 394.89 L922.97 394.49 L924.44 394.2 L925.91 394.05 L927.39 394.07 L928.86 394.27 L930.33 394.68 L931.8 395.32 L933.27 396.18 L934.74 397.28 L936.21 398.63 L937.69 400.27 L939.16 402.26 L940.63 404.86 L942.1 411" fill="none" stroke="#d860b8" stroke-width="0.45"/><path d="M900.9 411 L902.37 404.19 L903.84 401.66 L905.31 399.89 L906.79 398.54 L908.26 397.45 L909.73 396.54 L911.2 395.77 L912.67 395.08 L914.14 394.48 L915.61 393.94 L917.09 393.46 L918.56 393.05 L920.03 392.7 L921.5 392.44 L922.97 392.27 L924.44 392.21 L925.91 392.28 L927.39 392.49 L928.86 392.85 L930.33 393.38 L931.8 394.09 L933.27 394.99 L934.74 396.11 L936.21 397.48 L937.69 399.15 L939.16 401.22 L940.63 404.03 L942.1 411" fill="none" stroke="#d860b8" stroke-width="0.45"/><path d="M900.9 411 L902.37 403.57 L903.84 400.71 L905.31 398.67 L906.79 397.08 L908.26 395.79 L909.73 394.72 L911.2 393.83 L912.67 393.08 L914.14 392.46 L915.61 391.94 L917.09 391.54 L918.56 391.23 L920.03 391.02 L921.5 390.92 L922.97 390.91 L924.44 391.01 L925.91 391.23 L927.39 391.56 L928.86 392.03 L930.33 392.63 L931.8 393.39 L933.27 394.31 L934.74 395.44 L936.21 396.8 L937.69 398.48 L939.16 400.6 L940.63 403.52 L942.1 411" fill="none" stroke="#d860b8" stroke-width="0.45"/></g><rect x="685.5" y="340.2" width="19" height="2.6" fill="#fff" stroke="#111" stroke-width="0.7" rx="0"/><rect x="689" y="340.2" width="12" height="2.6" fill="#111" stroke="#111" stroke-width="0.5" rx="0"/><rect x="685.5" y="457.4" width="19" height="2.6" fill="#fff" stroke="#111" stroke-width="0.7" rx="0"/><rect x="689" y="457.4" width="12" height="2.6" fill="#111" stroke="#111" stroke-width="0.5" rx="0"/><circle cx="695" cy="347.5" r="3.9" fill="#fff" stroke="#888" stroke-width="1"/><path d="M693 345 Q695 348 697 345" fill="none" stroke="#c4a" stroke-width="0.9"/><ellipse cx="695" cy="348.3" rx="2" ry="1.3" fill="none" stroke="#999" stroke-width="0.6"/><circle cx="695" cy="452.2" r="3.9" fill="#fff" stroke="#888" stroke-width="1"/><path d="M693 454.7 Q695 451.7 697 454.7" fill="none" stroke="#c4a" stroke-width="0.9"/><ellipse cx="695" cy="451.4" rx="2" ry="1.3" fill="none" stroke="#999" stroke-width="0.6"/><rect x="707.5" y="340.2" width="19" height="2.6" fill="#fff" stroke="#111" stroke-width="0.7" rx="0"/><rect x="711" y="340.2" width="12" height="2.6" fill="#111" stroke="#111" stroke-width="0.5" rx="0"/><rect x="707.5" y="457.4" width="19" height="2.6" fill="#fff" stroke="#111" stroke-width="0.7" rx="0"/><rect x="711" y="457.4" width="12" height="2.6" fill="#111" stroke="#111" stroke-width="0.5" rx="0"/><circle cx="717" cy="347.5" r="3.9" fill="#fff" stroke="#888" stroke-width="1"/><path d="M715 345 Q717 348 719 345" fill="none" stroke="#3a3" stroke-width="0.9"/><ellipse cx="717" cy="348.3" rx="2" ry="1.3" fill="none" stroke="#999" stroke-width="0.6"/><circle cx="717" cy="452.2" r="3.9" fill="#fff" stroke="#888" stroke-width="1"/><path d="M715 454.7 Q717 451.7 719 454.7" fill="none" stroke="#3a3" stroke-width="0.9"/><ellipse cx="717" cy="451.4" rx="2" ry="1.3" fill="none" stroke="#999" stroke-width="0.6"/><rect x="809.5" y="340.2" width="19" height="2.6" fill="#fff" stroke="#111" stroke-width="0.7" rx="0"/><rect x="813" y="340.2" width="12" height="2.6" fill="#111" stroke="#111" stroke-width="0.5" rx="0"/><rect x="809.5" y="457.4" width="19" height="2.6" fill="#fff" stroke="#111" stroke-width="0.7" rx="0"/><rect x="813" y="457.4" width="12" height="2.6" fill="#111" stroke="#111" stroke-width="0.5" rx="0"/><circle cx="819" cy="347.5" r="3.9" fill="#fff" stroke="#888" stroke-width="1"/><path d="M817 345 Q819 348 821 345" fill="none" stroke="#c4a" stroke-width="0.9"/><ellipse cx="819" cy="348.3" rx="2" ry="1.3" fill="none" stroke="#999" stroke-width="0.6"/><circle cx="819" cy="452.2" r="3.9" fill="#fff" stroke="#888" stroke-width="1"/><path d="M817 454.7 Q819 451.7 821 454.7" fill="none" stroke="#c4a" stroke-width="0.9"/><ellipse cx="819" cy="451.4" rx="2" ry="1.3" fill="none" stroke="#999" stroke-width="0.6"/><rect x="831" y="340.2" width="19" height="2.6" fill="#fff" stroke="#111" stroke-width="0.7" rx="0"/><rect x="834.5" y="340.2" width="12" height="2.6" fill="#111" stroke="#111" stroke-width="0.5" rx="0"/><rect x="831" y="457.4" width="19" height="2.6" fill="#fff" stroke="#111" stroke-width="0.7" rx="0"/><rect x="834.5" y="457.4" width="12" height="2.6" fill="#111" stroke="#111" stroke-width="0.5" rx="0"/><circle cx="840.5" cy="347.5" r="3.9" fill="#fff" stroke="#888" stroke-width="1"/><path d="M838.5 345 Q840.5 348 842.5 345" fill="none" stroke="#3a3" stroke-width="0.9"/><ellipse cx="840.5" cy="348.3" rx="2" ry="1.3" fill="none" stroke="#999" stroke-width="0.6"/><circle cx="840.5" cy="452.2" r="3.9" fill="#fff" stroke="#888" stroke-width="1"/><path d="M838.5 454.7 Q840.5 451.7 842.5 454.7" fill="none" stroke="#3a3" stroke-width="0.9"/><ellipse cx="840.5" cy="451.4" rx="2" ry="1.3" fill="none" stroke="#999" stroke-width="0.6"/><rect x="634.6" y="379.5" width="2.6" height="19.5" fill="#fff" stroke="#111" stroke-width="0.7" rx="0"/><rect x="634.6" y="383" width="2.6" height="12.5" fill="#111" stroke="#111" stroke-width="0.5" rx="0"/><rect x="634.6" y="401" width="2.6" height="19.5" fill="#fff" stroke="#111" stroke-width="0.7" rx="0"/><rect x="634.6" y="404.5" width="2.6" height="12.5" fill="#111" stroke="#111" stroke-width="0.5" rx="0"/><rect x="898.8" y="379.5" width="2.6" height="19.5" fill="#fff" stroke="#111" stroke-width="0.7" rx="0"/><rect x="898.8" y="383" width="2.6" height="12.5" fill="#111" stroke="#111" stroke-width="0.5" rx="0"/><rect x="898.8" y="401" width="2.6" height="19.5" fill="#fff" stroke="#111" stroke-width="0.7" rx="0"/><rect x="898.8" y="404.5" width="2.6" height="12.5" fill="#111" stroke="#111" stroke-width="0.5" rx="0"/><circle cx="642.3" cy="388.8" r="3.9" fill="#fff" stroke="#888" stroke-width="1"/><path d="M640.3 386.3 Q642.3 389.3 644.3 386.3" fill="none" stroke="#3a3" stroke-width="0.9"/><ellipse cx="642.3" cy="389.6" rx="2" ry="1.3" fill="none" stroke="#999" stroke-width="0.6"/><circle cx="642.3" cy="410" r="3.9" fill="#fff" stroke="#888" stroke-width="1"/><path d="M640.3 407.5 Q642.3 410.5 644.3 407.5" fill="none" stroke="#c4a" stroke-width="0.9"/><ellipse cx="642.3" cy="410.8" rx="2" ry="1.3" fill="none" stroke="#999" stroke-width="0.6"/><circle cx="892.8" cy="388.8" r="3.9" fill="#fff" stroke="#888" stroke-width="1"/><path d="M890.8 386.3 Q892.8 389.3 894.8 386.3" fill="none" stroke="#3a3" stroke-width="0.9"/><ellipse cx="892.8" cy="389.6" rx="2" ry="1.3" fill="none" stroke="#999" stroke-width="0.6"/><circle cx="892.8" cy="410" r="3.9" fill="#fff" stroke="#888" stroke-width="1"/><path d="M890.8 407.5 Q892.8 410.5 894.8 407.5" fill="none" stroke="#c4a" stroke-width="0.9"/><ellipse cx="892.8" cy="410.8" rx="2" ry="1.3" fill="none" stroke="#999" stroke-width="0.6"/><line x1="187.8" y1="112.2" x2="278" y2="112.2" stroke="#111" stroke-width="1.4"/><path d="M188.5 112 L198 102.31 M193.2 112 L202.7 102.31 M197.9 112 L207.4 102.31 M202.6 112 L212.1 102.31 M207.3 112 L216.8 102.31 M212 112 L221.5 102.31 M216.7 112 L226.2 102.31 M221.4 112 L230.9 102.31 M226.1 112 L235.6 102.31 M230.8 112 L240.3 102.31 M235.5 112 L245 102.31 M240.2 112 L249.7 102.31 M244.9 112 L254.4 102.31 M249.6 112 L259.1 102.31 M254.3 112 L263.8 102.31 M259 112 L268.5 102.31 M263.7 112 L273.2 102.31 M268.4 112 L277.9 102.31 M273.1 112 L278 107" fill="none" stroke="#333" stroke-width="0.9"/><rect x="225.3" y="103.5" width="4.2" height="15" fill="#fff" stroke="#111" stroke-width="0.9" rx="0"/><line x1="226.5" y1="104" x2="226.5" y2="117" stroke="#111" stroke-width="1"/><line x1="228.3" y1="104" x2="228.3" y2="117" stroke="#111" stroke-width="1"/><line x1="227.4" y1="118" x2="227.4" y2="152" stroke="#555" stroke-width="0.8"/><path d="M226.2 151.5 L226.2 160.5 L227.4 163.5 L228.6 160.5 L228.6 151.5 Z" fill="#fff" stroke="#111" stroke-width="1"/><path d="M218.4 169 C225.4 166.5 235.4 167 234.9 170.5 C234.4 173.5 229.4 174.5 224.4 173.5" fill="none" stroke="#666" stroke-width="0.8"/><path d="M226.4 171.5 L224.4 173.5 L226.4 175.5" fill="none" stroke="#666" stroke-width="0.7"/><rect x="249.7" y="103.5" width="4.2" height="15" fill="#fff" stroke="#111" stroke-width="0.9" rx="0"/><line x1="250.9" y1="104" x2="250.9" y2="117" stroke="#111" stroke-width="1"/><line x1="252.7" y1="104" x2="252.7" y2="117" stroke="#111" stroke-width="1"/><line x1="251.8" y1="118" x2="251.8" y2="152" stroke="#555" stroke-width="0.8"/><path d="M250.6 151.5 L250.6 160.5 L251.8 163.5 L253 160.5 L253 151.5 Z" fill="#fff" stroke="#111" stroke-width="1"/><path d="M242.8 169 C249.8 166.5 259.8 167 259.3 170.5 C258.8 173.5 253.8 174.5 248.8 173.5" fill="none" stroke="#666" stroke-width="0.8"/><path d="M250.8 171.5 L248.8 173.5 L250.8 175.5" fill="none" stroke="#666" stroke-width="0.7"/><text x="0" y="0" font-family="Liberation Serif" font-weight="bold" font-size="32" fill="#111" text-anchor="middle" transform="translate(166.3 120.1) scale(0.55 1)">1</text><circle cx="164.5" cy="100.2" r="2" fill="#fff" stroke="#555" stroke-width="0.6"/><path d="M175 114 C190 115 200 118 225.6 118.7" fill="none" stroke="#999" stroke-width="0.9"/><rect x="204.3" y="129.6" width="67.3" height="10.1" fill="none" stroke="#111" stroke-width="1.5" rx="0"/><rect x="220" y="132.2" width="14.7" height="5.4" fill="none" stroke="#555" stroke-width="1" rx="2.7"/><rect x="241.7" y="132.2" width="14.7" height="5.4" fill="none" stroke="#555" stroke-width="1" rx="2.7"/><path d="M217.6 210.8 V138.5 Q217.8 136.8 219.5 136.5" fill="none" stroke="#666" stroke-width="0.9"/><line x1="262.4" y1="136.5" x2="262.4" y2="210.8" stroke="#666" stroke-width="0.9"/><text x="0" y="0" font-family="Liberation Serif" font-weight="bold" font-size="32" fill="#111" text-anchor="middle" transform="translate(150.2 181.8) scale(0.69 1)">2</text><path d="M153 156 C145 149 128 160 126 170 C125 178 138 181 146 180.5" fill="none" stroke="#888" stroke-width="0.8"/><line x1="157.4" y1="174" x2="227" y2="161.5" stroke="#888" stroke-width="0.8"/><rect x="195.3" y="203.8" width="87.1" height="14" fill="none" stroke="#111" stroke-width="1.8" rx="0"/><line x1="282.4" y1="217.8" x2="301.6" y2="217.8" stroke="#111" stroke-width="1.5"/><line x1="200.9" y1="210.8" x2="217.6" y2="210.8" stroke="#777" stroke-width="0.9"/><line x1="262.4" y1="210.8" x2="279" y2="210.8" stroke="#777" stroke-width="0.9"/><rect x="202.3" y="213.4" width="5.4" height="5.2" fill="#fff" stroke="#111" stroke-width="1.1" rx="0"/><rect x="203.5" y="214.6" width="3" height="2.5" fill="#f0a0a0" stroke="#e08080" stroke-width="0.3" rx="0"/><circle cx="205" cy="222" r="1.4" fill="#fff" stroke="#111" stroke-width="0.9"/><rect x="270.5" y="213.4" width="5.4" height="5.2" fill="#fff" stroke="#111" stroke-width="1.1" rx="0"/><rect x="271.7" y="214.6" width="3" height="2.5" fill="#f0a0a0" stroke="#e08080" stroke-width="0.3" rx="0"/><circle cx="273.2" cy="222" r="1.4" fill="#fff" stroke="#111" stroke-width="0.9"/><path d="M214.5 218.5 V222 Q214.5 223.4 215.9 223.4 H219.4 Q220.8 223.4 220.8 222 V218.5" fill="none" stroke="#333" stroke-width="0.9"/><line x1="214.5" y1="220.5" x2="220.8" y2="220.5" stroke="#555" stroke-width="0.6"/><path d="M257.2 218.5 V222 Q257.2 223.4 258.6 223.4 H262.1 Q263.5 223.4 263.5 222 V218.5" fill="none" stroke="#333" stroke-width="0.9"/><line x1="257.2" y1="220.5" x2="263.5" y2="220.5" stroke="#555" stroke-width="0.6"/><polyline points="195.3,206.2 145.3,206.2 145.3,218.2 195.3,218.2" fill="none" stroke="#d84aa8" stroke-width="1.2"/><polyline points="176,218.2 176,233.3 301.6,233.3 301.6,218.5" fill="none" stroke="#d84aa8" stroke-width="1.2"/><text x="144.5" y="212.2" font-family="Liberation Serif" font-size="12.5" fill="#d84aa8" text-anchor="middle" transform="rotate(-90 144.5 212.2)">25</text><text x="234" y="232.5" font-family="Liberation Serif" font-size="8.5" font-weight="normal" fill="#d84aa8" textLength="11" lengthAdjust="spacingAndGlyphs">260</text><circle cx="174.4" cy="210.8" r="3.8" fill="none" stroke="#777" stroke-width="0.8"/><rect x="178.1" y="208.3" width="14.5" height="5" fill="#fff" stroke="#222" stroke-width="0.8" rx="0"/><path d="M180.1 208.3 V213.3 M181.8 208.3 V213.3 M183.5 208.3 V213.3 M185.2 208.3 V213.3 M186.9 208.3 V213.3 M188.6 208.3 V213.3 M190.3 208.3 V213.3 M192 208.3 V213.3" stroke="#222" stroke-width="0.8"/><circle cx="303.2" cy="210.8" r="3.8" fill="none" stroke="#777" stroke-width="0.8"/><rect x="285" y="208.3" width="14.5" height="5" fill="#fff" stroke="#222" stroke-width="0.8" rx="0"/><path d="M287 208.3 V213.3 M288.7 208.3 V213.3 M290.4 208.3 V213.3 M292.1 208.3 V213.3 M293.8 208.3 V213.3 M295.5 208.3 V213.3 M297.2 208.3 V213.3 M298.9 208.3 V213.3" stroke="#222" stroke-width="0.8"/><text x="0" y="0" font-family="Liberation Serif" font-weight="bold" font-size="30" fill="#111" text-anchor="middle" transform="translate(139.4 260.7) scale(0.76 1)">4</text><line x1="146" y1="246" x2="191.5" y2="213.3" stroke="#444" stroke-width="0.8"/><path d="M240 202.5 C250 196 268 192 285 196 C300 199 312 205 311 212 C310 220 296 226 292 233 C291 238 295 240 299 244" fill="none" stroke="#555" stroke-width="0.8"/><path d="M242 203 C252 197.5 268 194 284 198 C298 201 309 206 308.5 212 C308 219 295 225 290.5 232 C289 237 293 241 297 245" fill="none" stroke="#777" stroke-width="0.7"/><path d="M244 203.5 C256 199 270 196 283 199.5 C296 203 306 207 306 212 C306 218 294 224 289 231" fill="none" stroke="#888" stroke-width="0.6"/><g transform="rotate(-35 300 248)"><rect x="294" y="240" width="12" height="17" rx="4" fill="#fff" stroke="#333" stroke-width="0.9"/><path d="M296 244 H304 M296 247 H304 M296 250 H304 M296 253 H304" stroke="#333" stroke-width="1.1"/></g><text x="0" y="0" font-family="Liberation Serif" font-size="32" fill="#222" text-anchor="middle" transform="translate(265 256) scale(0.7 1)">3</text><path d="M262 234 C256 236 257 242 261 244 M262 247 C258 250 259 256 264 257" fill="none" stroke="#777" stroke-width="0.7"/><line x1="272.6" y1="244.4" x2="299" y2="253.5" stroke="#444" stroke-width="0.8"/><text x="100.3" y="313.3" font-family="Liberation Serif" font-size="15" font-weight="normal" fill="#111" stroke="#111" stroke-width="0.25" textLength="37" lengthAdjust="spacingAndGlyphs">200cm</text><line x1="137.5" y1="308" x2="182.5" y2="297" stroke="#777" stroke-width="0.8"/><line x1="321.5" y1="290.6" x2="345" y2="290.6" stroke="#4a72c8" stroke-width="1.5"/><line x1="319.4" y1="346.6" x2="342.5" y2="346.6" stroke="#4a72c8" stroke-width="1.5"/><line x1="311.2" y1="306" x2="311.2" y2="332" stroke="#4a72c8" stroke-width="1.5"/><line x1="352.5" y1="306" x2="352.5" y2="332" stroke="#4a72c8" stroke-width="1.5"/><path d="M321.5 290.6 Q312 290.6 311.2 299 M311.2 336 Q311.5 346.6 319.4 346.6 M342.5 346.6 Q352.5 346.6 352.5 336 M352.5 299 Q352.3 290.6 345 290.6" fill="none" stroke="#6a8ad8" stroke-width="0.8"/><path d="M316 291 C309 284 307 272 318.7 263.3" fill="none" stroke="#7a9ae0" stroke-width="0.8"/><path d="M316 263.8 L318.9 263.2 L318.3 266" fill="none" stroke="#7a9ae0" stroke-width="0.8"/><rect x="319.7" y="313.5" width="6.9" height="17.9" fill="#fff" stroke="#111" stroke-width="1.1" rx="0"/><line x1="321.85" y1="315" x2="321.85" y2="330" stroke="#222" stroke-width="0.6"/><line x1="324.45" y1="315" x2="324.45" y2="330" stroke="#222" stroke-width="0.6"/><line x1="320.5" y1="322.5" x2="325.8" y2="322.5" stroke="#222" stroke-width="0.6"/><rect x="328.4" y="313.5" width="6.5" height="17.9" fill="#fff" stroke="#111" stroke-width="1.1" rx="0"/><line x1="330.35" y1="315" x2="330.35" y2="330" stroke="#222" stroke-width="0.6"/><line x1="332.95" y1="315" x2="332.95" y2="330" stroke="#222" stroke-width="0.6"/><line x1="329.2" y1="322.5" x2="334.1" y2="322.5" stroke="#222" stroke-width="0.6"/><rect x="336.2" y="313.5" width="6.7" height="17.9" fill="#fff" stroke="#111" stroke-width="1.1" rx="0"/><line x1="338.25" y1="315" x2="338.25" y2="330" stroke="#222" stroke-width="0.6"/><line x1="340.85" y1="315" x2="340.85" y2="330" stroke="#222" stroke-width="0.6"/><line x1="337" y1="322.5" x2="342.1" y2="322.5" stroke="#222" stroke-width="0.6"/><line x1="331.8" y1="291.5" x2="331.8" y2="306" stroke="#111" stroke-width="1.3"/><circle cx="331.8" cy="309.4" r="2.2" fill="#fff" stroke="#111" stroke-width="0.8"/><circle cx="331.8" cy="341.5" r="2.2" fill="#fff" stroke="#111" stroke-width="0.8"/><line x1="329.8" y1="309.4" x2="333.8" y2="309.4" stroke="#111" stroke-width="0.6"/><line x1="329.8" y1="341.5" x2="333.8" y2="341.5" stroke="#111" stroke-width="0.6"/><path d="M321 294 C324 294 325.5 298 325.5 302 M341.5 294 C339 294.5 338.5 299 339 302" fill="none" stroke="#888" stroke-width="0.8"/><line x1="327.8" y1="297" x2="327.8" y2="300" stroke="#111" stroke-width="0.8"/><line x1="335.6" y1="297" x2="335.6" y2="300" stroke="#111" stroke-width="0.8"/><path d="M323 333.5 V337.5 M331.8 333.5 V337.5 M339.5 333.5 L340.5 337.5" fill="none" stroke="#999" stroke-width="0.8"/><path d="M322.5 288.3 H345.5" stroke="#333" stroke-width="1.2" stroke-dasharray="1.6 0.5 0.8 0.5"/><path d="M295.5 304.3 H319" stroke="#333" stroke-width="1.2" stroke-dasharray="1.6 0.5 0.8 0.5"/><path d="M348 304.3 H357" stroke="#333" stroke-width="1.2" stroke-dasharray="1.6 0.5 0.8 0.5"/><path d="M295.5 335.3 H319" stroke="#333" stroke-width="1.2" stroke-dasharray="1.6 0.5 0.8 0.5"/><path d="M348 335.3 H357" stroke="#333" stroke-width="1.2" stroke-dasharray="1.6 0.5 0.8 0.5"/><text x="15" y="30.7" font-family="Liberation Sans" font-size="19.5" font-weight="normal" fill="#111" textLength="203.5" lengthAdjust="spacingAndGlyphs">Инструкция по сборке</text><text x="305" y="594" font-family="Liberation Sans" font-size="14" font-weight="normal" fill="#111" stroke="#111" stroke-width="0.25" textLength="132.5" lengthAdjust="spacingAndGlyphs">1 Настенный анкер</text><text x="304.5" y="610.5" font-family="Liberation Sans" font-size="14" font-weight="normal" fill="#111" stroke="#111" stroke-width="0.25" textLength="173.5" lengthAdjust="spacingAndGlyphs">2 Самонарезающий винт</text><text x="304.5" y="627" font-family="Liberation Sans" font-size="14" font-weight="normal" fill="#111" stroke="#111" stroke-width="0.25" textLength="66.5" lengthAdjust="spacingAndGlyphs">3 Клемма</text><text x="355.5" y="661.3" font-family="Liberation Sans" font-size="19.5" font-weight="normal" fill="#111" textLength="289" lengthAdjust="spacingAndGlyphs">Product coding: LUXURY SP12L</text><text x="371" y="313.5" font-family="Liberation Sans" font-size="9.2" font-weight="normal" fill="#111" stroke="#111" stroke-width="0.3" textLength="84.5" lengthAdjust="spacingAndGlyphs">Фаза–коричневая</text><text x="371" y="324.7" font-family="Liberation Sans" font-size="9.2" font-weight="normal" fill="#111" stroke="#111" stroke-width="0.3" textLength="137.5" lengthAdjust="spacingAndGlyphs">Нейтральный провод–Серый</text><text x="371" y="335.9" font-family="Liberation Sans" font-size="9.2" font-weight="normal" fill="#111" stroke="#111" stroke-width="0.3" textLength="103.5" lengthAdjust="spacingAndGlyphs">Заземление –Желтое</text></svg>
</body></html>
